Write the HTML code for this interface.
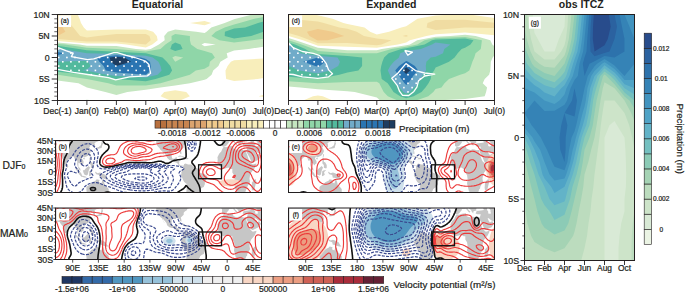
<!DOCTYPE html>
<html><head><meta charset="utf-8"><style>html,body{margin:0;padding:0;background:#fff;overflow:hidden}svg{display:block}text{stroke:#231f20;stroke-width:0.22px;paint-order:stroke}</style></head>
<body><svg width="685" height="292" viewBox="0 0 685 292" font-family="'Liberation Sans', sans-serif">
<text x="157.5" y="8.1" font-size="10.5" text-anchor="middle" font-weight="bold" fill="#231f20" style="stroke-width:0">Equatorial</text>
<text x="391.3" y="8.1" font-size="10.5" text-anchor="middle" font-weight="bold" fill="#231f20" style="stroke-width:0">Expanded</text>
<text x="581.3" y="8.1" font-size="10.5" text-anchor="middle" font-weight="bold" fill="#231f20" style="stroke-width:0">obs ITCZ</text>
<clipPath id="clipa"><rect x="57.5" y="14.5" width="206" height="86"/></clipPath>
<g clip-path="url(#clipa)">
<rect x="57.5" y="14.5" width="206" height="86" fill="#b8703e"/>
<path d="M86.9 14.5L116.4 14.5L145.8 14.5L175.2 14.5L204.6 14.5L234.1 14.5L263.5 14.5L263.5 18.8L263.5 23.1L263.5 27.4L263.5 31.7L263.5 36L263.5 40.3L263.5 44.6L263.5 48.9L263.5 53.2L263.5 57.5L263.5 61.8L263.5 66.1L263.5 70.4L263.5 74.7L263.5 79L263.5 83.3L263.5 87.6L263.5 91.9L263.5 96.2L263.5 100.5L234.1 100.5L204.6 100.5L175.2 100.5L145.8 100.5L116.4 100.5L86.9 100.5L57.5 100.5L57.5 96.2L57.5 91.9L57.5 87.6L57.5 83.3L57.5 79L57.5 74.7L57.5 70.4L57.5 66.1L57.5 61.8L57.5 57.5L57.5 53.2L57.5 48.9L57.5 44.6L57.5 40.3L57.5 36L57.5 31.7L57.5 27.4L57.5 23.1L57.5 18.8L57.5 14.5Z" fill="#c8844f" fill-rule="evenodd"/>
<path d="M86.9 14.5L116.4 14.5L145.8 14.5L175.2 14.5L204.6 14.5L234.1 14.5L263.5 14.5L263.5 18.8L263.5 23.1L263.5 27.4L263.5 31.7L263.5 36L263.5 40.3L263.5 44.6L263.5 48.9L263.5 53.2L263.5 57.5L263.5 61.8L263.5 66.1L263.5 70.4L263.5 74.7L263.5 79L263.5 83.3L263.5 87.6L263.5 91.9L263.5 96.2L263.5 100.5L234.1 100.5L204.6 100.5L175.2 100.5L145.8 100.5L116.4 100.5L86.9 100.5L57.5 100.5L57.5 96.2L57.5 91.9L57.5 87.6L57.5 83.3L57.5 79L57.5 74.7L57.5 70.4L57.5 66.1L57.5 61.8L57.5 57.5L57.5 53.2L57.5 48.9L57.5 44.6L57.5 40.3L57.5 36L57.5 31.7L57.5 27.4L57.5 23.1L57.5 18.8L57.5 14.5Z" fill="#dca46e" fill-rule="evenodd"/>
<path d="M86.9 14.5L116.4 14.5L145.8 14.5L175.2 14.5L204.6 14.5L234.1 14.5L263.5 14.5L263.5 18.8L263.5 23.1L263.5 27.4L263.5 31.7L263.5 36L263.5 40.3L263.5 44.6L263.5 48.9L263.5 53.2L263.5 57.5L263.5 61.8L263.5 66.1L263.5 70.4L263.5 74.7L263.5 79L263.5 83.3L263.5 87.6L263.5 91.9L263.5 96.2L263.5 100.5L234.1 100.5L204.6 100.5L175.2 100.5L145.8 100.5L116.4 100.5L86.9 100.5L57.5 100.5L57.5 96.2L57.5 91.9L57.5 87.6L57.5 83.3L57.5 79L57.5 74.7L57.5 70.4L57.5 66.1L57.5 61.8L57.5 57.5L57.5 53.2L57.5 48.9L57.5 44.6L57.5 40.3L57.5 36L57.5 31.7L57.5 27.4L57.5 23.1L57.5 18.8L57.5 14.5Z" fill="#f0ca8c" fill-rule="evenodd"/>
<path d="M86.9 14.5L116.4 14.5L145.8 14.5L175.2 14.5L204.6 14.5L234.1 14.5L263.5 14.5L263.5 18.8L263.5 23.1L263.5 27.4L263.5 31.7L263.5 36L263.5 40.3L263.5 44.6L263.5 48.9L263.5 53.2L263.5 57.5L263.5 61.8L263.5 66.1L263.5 70.4L263.5 74.7L263.5 79L263.5 83.3L263.5 87.6L263.5 91.9L263.5 96.2L263.5 100.5L234.1 100.5L204.6 100.5L175.2 100.5L145.8 100.5L116.4 100.5L86.9 100.5L57.5 100.5L57.5 96.2L57.5 91.9L57.5 87.6L57.5 83.3L57.5 79L57.5 74.7L57.5 70.4L57.5 66.1L57.5 61.8L57.5 57.5L57.5 53.2L57.5 48.9L57.5 44.6L57.5 40.3L57.5 36L57.5 36L65.4 31.7L62.8 27.4L57.5 23.1L57.5 23.1L57.5 18.8L57.5 14.5Z" fill="#f0dca2" fill-rule="evenodd"/>
<path d="M86.9 14.5L116.4 14.5L145.8 14.5L175.2 14.5L204.6 14.5L234.1 14.5L263.5 14.5L263.5 18.8L263.5 23.1L263.5 27.4L263.5 31.7L263.5 36L263.5 40.3L263.5 44.6L263.5 48.9L263.5 53.2L263.5 57.5L263.5 61.8L263.5 66.1L263.5 70.4L263.5 74.7L263.5 79L263.5 83.3L263.5 87.6L263.5 91.9L263.5 96.2L263.5 100.5L234.1 100.5L204.6 100.5L175.2 100.5L145.8 100.5L116.4 100.5L86.9 100.5L57.5 100.5L57.5 96.2L57.5 91.9L57.5 87.6L57.5 83.3L57.5 79L57.5 74.7L57.5 70.4L57.5 66.1L57.5 61.8L57.5 57.5L57.5 53.2L57.5 48.9L57.5 44.6L57.5 40.3L57.5 38.9L72.2 40.3L86.9 41.4L116.4 41.4L145.8 44.6L145.8 44.6L145.8 44.6L150.7 40.3L149.5 36L145.8 33.9L116.4 33.9L98 36L86.9 37.6L80.1 36L76.7 31.7L73.3 27.4L69.3 23.1L64.9 18.8L59.3 14.5Z" fill="#f8eebb" fill-rule="evenodd"/>
<path d="M86.9 14.5L116.4 14.5L145.8 14.5L175.2 14.5L204.6 14.5L234.1 14.5L263.5 14.5L263.5 18.8L263.5 23.1L263.5 27.4L263.5 31.7L263.5 36L263.5 40.3L263.5 44.6L263.5 48.9L263.5 53.2L263.5 57.5L263.5 58.6L234.1 60.2L230.9 61.8L227.6 66.1L225.5 70.4L225.7 74.7L226.2 79L234.1 80.9L257.6 79L263.5 77.9L263.5 79L263.5 83.3L263.5 87.6L263.5 87.6L263.5 87.6L263.5 91.9L263.5 94.8L258.6 96.2L263.5 96.9L263.5 100.5L234.1 100.5L204.6 100.5L180.1 100.5L189.9 96.2L186.2 91.9L175.2 90.3L164.2 91.9L160.5 96.2L170.3 100.5L145.8 100.5L116.4 100.5L86.9 100.5L57.5 100.5L57.5 96.2L57.5 91.9L57.5 87.6L57.5 83.3L57.5 79L57.5 74.7L57.5 70.4L57.5 66.1L57.5 61.8L57.5 57.5L57.5 53.2L57.5 48.9L57.5 44.6L57.5 41L86.9 43.5L116.4 43.5L126.2 44.6L145.8 47.5L152.3 44.6L157.7 40.3L156.8 36L153.1 31.7L145.8 29.5L116.4 29.5L86.9 30.6L83.8 27.4L81 23.1L79.6 18.8L77.7 14.5ZM189.9 23.1L204.6 25.2L211.3 23.1L204.6 21Z" fill="#ffffff" fill-rule="evenodd"/>
<path d="M263.5 14.5L263.5 18.8L263.5 23.1L263.5 27.4L263.5 31.7L263.5 36L263.5 40.3L263.5 44.6L263.5 46.8L248.8 48.9L234.1 50.5L226.7 53.2L227.7 57.5L220.4 61.8L218.4 66.1L213.2 70.4L211.6 74.7L206.6 79L204.6 79.7L189.9 83.3L175.2 85.4L160.5 87.6L145.8 89.8L127.4 91.9L116.4 95.1L105.3 91.9L86.9 87.6L86.9 87.6L78.5 83.3L57.5 80.6L57.5 79L57.5 74.7L57.5 70.4L57.5 66.1L57.5 61.8L57.5 57.5L57.5 53.2L57.5 48.9L57.5 44.6L57.5 42.4L79.6 44.6L86.9 45.7L116.4 46L136 48.9L145.8 49.8L150.7 48.9L158.9 44.6L164.7 40.3L164.2 36L167.9 31.7L175.2 29.5L196.2 31.7L204.6 32.9L206.5 31.7L211.3 27.4L224.7 23.1L234.1 19.3L235.9 18.8L252.5 14.5ZM201.5 44.6L204.6 46.2L215.7 44.6L204.6 43ZM86.9 99.8L94.3 100.5L86.9 100.5L82 100.5Z" fill="#c4e6c0" fill-rule="evenodd"/>
<path d="M263.5 17L263.5 18.8L263.5 23.1L263.5 27.4L263.5 31.7L263.5 36L263.5 38.7L252.5 40.3L234.1 42.4L219.4 40.3L211.3 36L215.7 31.7L224.7 27.4L234.1 24.4L239.6 23.1L254.3 18.8ZM175.2 33.9L189.9 36L189.9 40.3L191 44.6L197.3 48.9L204.6 51L212 53.2L214.9 57.5L209.9 61.8L209.2 66.1L204.6 68.8L195.8 70.4L189.9 74.7L175.2 79L175.2 79L160.5 83.3L145.8 85.4L116.4 85.4L108.3 83.3L86.9 79L86.9 79L57.5 74.7L57.5 74.7L57.5 70.4L57.5 66.1L57.5 61.8L57.5 57.5L57.5 53.2L57.5 48.9L57.5 44.6L57.5 43.9L64.9 44.6L86.9 47.8L116.4 48.9L116.4 48.9L145.8 51.5L160.5 48.9L165.4 44.6L171.7 40.3L171.5 36ZM172.3 57.5L175.2 61.8L175.2 61.8L175.2 61.8L183.2 57.5L175.2 55.9Z" fill="#8fd6a8" fill-rule="evenodd"/>
<path d="M263.5 21.5L263.5 23.1L263.5 27.4L263.5 31.7L263.5 31.7L251.2 36L234.1 38.5L224.7 36L224.9 31.7L234.1 28.4L245.1 27.4L258 23.1ZM175.2 42.4L180.5 44.6L182.6 48.9L175.2 51L170.3 48.9L171.9 44.6ZM78.8 48.9L86.9 50.3L116.4 51.8L145.8 53.2L145.8 53.2L162.5 57.5L166.8 61.8L170.3 66.1L172.1 70.4L169.3 74.7L155.6 79L145.8 81.2L116.4 79L116.4 79L86.9 74.7L86.9 74.7L57.5 71.8L57.5 70.4L57.5 66.1L57.5 61.8L57.5 57.5L57.5 53.2L57.5 48.9L57.5 45.8Z" fill="#52b99d" fill-rule="evenodd"/>
<path d="M62.4 48.9L86.9 53.2L86.9 53.2L116.4 53.9L145.8 55.7L152.7 57.5L158.4 61.8L160.5 66.1L161.6 70.4L157.6 74.7L145.8 77.6L116.4 76.1L106.5 74.7L86.9 70.8L82 70.4L86.9 69.3L90.8 66.1L88.1 61.8L86.9 60.7L57.5 61.8L57.5 57.5L57.5 53.2L57.5 48.9L57.5 48.2Z" fill="#70abc9" fill-rule="evenodd"/>
<path d="M64.3 53.2L57.5 55.3L57.5 53.2L57.5 51.9ZM116.4 55.3L140.9 57.5L145.8 59.1L150 61.8L150.7 66.1L151 70.4L145.8 74.7L116.4 72.5L105.8 70.4L103.6 66.1L99.4 61.8L96.3 57.5Z" fill="#2a75b2" fill-rule="evenodd"/>
<path d="M116.4 56.8L124.5 57.5L131.1 61.8L116.4 66.1L110.7 61.8L109.7 57.5Z" fill="#1e3d60" fill-rule="evenodd"/>
</g>
<g clip-path="url(#clipa)" fill="#fff">
<rect x="57.9" y="48.1" width="1.6" height="1.6"/>
<rect x="62" y="52.4" width="1.6" height="1.6"/>
<rect x="70.1" y="52.4" width="1.6" height="1.6"/>
<rect x="57.9" y="56.7" width="1.6" height="1.6"/>
<rect x="66.1" y="56.7" width="1.6" height="1.6"/>
<rect x="74.2" y="56.7" width="1.6" height="1.6"/>
<rect x="98.7" y="56.7" width="1.6" height="1.6"/>
<rect x="106.9" y="56.7" width="1.6" height="1.6"/>
<rect x="115" y="56.7" width="1.6" height="1.6"/>
<rect x="123.2" y="56.7" width="1.6" height="1.6"/>
<rect x="131.3" y="56.7" width="1.6" height="1.6"/>
<rect x="62" y="61" width="1.6" height="1.6"/>
<rect x="70.1" y="61" width="1.6" height="1.6"/>
<rect x="78.3" y="61" width="1.6" height="1.6"/>
<rect x="86.5" y="61" width="1.6" height="1.6"/>
<rect x="94.6" y="61" width="1.6" height="1.6"/>
<rect x="102.8" y="61" width="1.6" height="1.6"/>
<rect x="110.9" y="61" width="1.6" height="1.6"/>
<rect x="119.1" y="61" width="1.6" height="1.6"/>
<rect x="127.3" y="61" width="1.6" height="1.6"/>
<rect x="135.4" y="61" width="1.6" height="1.6"/>
<rect x="143.6" y="61" width="1.6" height="1.6"/>
<rect x="57.9" y="65.3" width="1.6" height="1.6"/>
<rect x="66.1" y="65.3" width="1.6" height="1.6"/>
<rect x="74.2" y="65.3" width="1.6" height="1.6"/>
<rect x="82.4" y="65.3" width="1.6" height="1.6"/>
<rect x="90.5" y="65.3" width="1.6" height="1.6"/>
<rect x="98.7" y="65.3" width="1.6" height="1.6"/>
<rect x="106.9" y="65.3" width="1.6" height="1.6"/>
<rect x="115" y="65.3" width="1.6" height="1.6"/>
<rect x="123.2" y="65.3" width="1.6" height="1.6"/>
<rect x="131.3" y="65.3" width="1.6" height="1.6"/>
<rect x="139.5" y="65.3" width="1.6" height="1.6"/>
<rect x="147.7" y="65.3" width="1.6" height="1.6"/>
<rect x="70.1" y="69.6" width="1.6" height="1.6"/>
<rect x="78.3" y="69.6" width="1.6" height="1.6"/>
<rect x="86.5" y="69.6" width="1.6" height="1.6"/>
<rect x="94.6" y="69.6" width="1.6" height="1.6"/>
<rect x="102.8" y="69.6" width="1.6" height="1.6"/>
<rect x="110.9" y="69.6" width="1.6" height="1.6"/>
<rect x="119.1" y="69.6" width="1.6" height="1.6"/>
<rect x="127.3" y="69.6" width="1.6" height="1.6"/>
<rect x="135.4" y="69.6" width="1.6" height="1.6"/>
<rect x="143.6" y="69.6" width="1.6" height="1.6"/>
<rect x="90.5" y="73.9" width="1.6" height="1.6"/>
<rect x="98.7" y="73.9" width="1.6" height="1.6"/>
<rect x="106.9" y="73.9" width="1.6" height="1.6"/>
<rect x="115" y="73.9" width="1.6" height="1.6"/>
<rect x="123.2" y="73.9" width="1.6" height="1.6"/>
<rect x="131.3" y="73.9" width="1.6" height="1.6"/>
<rect x="139.5" y="73.9" width="1.6" height="1.6"/>
<rect x="147.7" y="73.9" width="1.6" height="1.6"/>
</g>
<polyline points="57.5,47.4 66.5,50.9 73.2,53.1 71.4,56.6 87.5,59.6 93.7,58.9 105.1,55.4 113.8,52.6 117.3,52.6 126.1,55.4 134.8,57.5 145.3,61 148.9,64.5 150.6,73.3 147.1,75.9 129.6,76.8 115.6,79.9 108.6,77.7 91,75 73.5,72.4 57.5,69.4" fill="none" stroke="#fff" stroke-width="1.3" stroke-linejoin="round" clip-path="url(#clipa)"/>
<rect x="58.5" y="15.4" width="12.6" height="11.6" fill="#fff"/>
<text x="64.8" y="23.3" font-size="6.6" text-anchor="middle" font-weight="normal" fill="#231f20" >(a)</text>
<rect x="57.5" y="14.5" width="206" height="86" fill="none" stroke="#231f20" stroke-width="1.0"/>
<line x1="57.5" y1="100.5" x2="57.5" y2="105" stroke="#231f20" stroke-width="0.9"/>
<text x="57.5" y="113.7" font-size="8.5" text-anchor="middle" font-weight="normal" fill="#231f20" >Dec(-1)</text>
<line x1="86.9" y1="100.5" x2="86.9" y2="105" stroke="#231f20" stroke-width="0.9"/>
<text x="86.9" y="113.7" font-size="8.5" text-anchor="middle" font-weight="normal" fill="#231f20" >Jan(0)</text>
<line x1="116.4" y1="100.5" x2="116.4" y2="105" stroke="#231f20" stroke-width="0.9"/>
<text x="116.4" y="113.7" font-size="8.5" text-anchor="middle" font-weight="normal" fill="#231f20" >Feb(0)</text>
<line x1="145.8" y1="100.5" x2="145.8" y2="105" stroke="#231f20" stroke-width="0.9"/>
<text x="145.8" y="113.7" font-size="8.5" text-anchor="middle" font-weight="normal" fill="#231f20" >Mar(0)</text>
<line x1="175.2" y1="100.5" x2="175.2" y2="105" stroke="#231f20" stroke-width="0.9"/>
<text x="175.2" y="113.7" font-size="8.5" text-anchor="middle" font-weight="normal" fill="#231f20" >Apr(0)</text>
<line x1="204.6" y1="100.5" x2="204.6" y2="105" stroke="#231f20" stroke-width="0.9"/>
<text x="204.6" y="113.7" font-size="8.5" text-anchor="middle" font-weight="normal" fill="#231f20" >May(0)</text>
<line x1="234.1" y1="100.5" x2="234.1" y2="105" stroke="#231f20" stroke-width="0.9"/>
<text x="234.1" y="113.7" font-size="8.5" text-anchor="middle" font-weight="normal" fill="#231f20" >Jun(0)</text>
<line x1="263.5" y1="100.5" x2="263.5" y2="105" stroke="#231f20" stroke-width="0.9"/>
<text x="263.5" y="113.7" font-size="8.5" text-anchor="middle" font-weight="normal" fill="#231f20" >Jul(0)</text>
<clipPath id="clipd"><rect x="288.5" y="14.5" width="206" height="86"/></clipPath>
<g clip-path="url(#clipd)">
<rect x="288.5" y="14.5" width="206" height="86" fill="#b8703e"/>
<path d="M317.9 14.5L347.4 14.5L376.8 14.5L406.2 14.5L435.6 14.5L465.1 14.5L494.5 14.5L494.5 18.8L494.5 23.1L494.5 27.4L494.5 31.7L494.5 36L494.5 40.3L494.5 44.6L494.5 48.9L494.5 53.2L494.5 57.5L494.5 61.8L494.5 66.1L494.5 70.4L494.5 74.7L494.5 79L494.5 83.3L494.5 87.6L494.5 91.9L494.5 96.2L494.5 100.5L465.1 100.5L435.6 100.5L406.2 100.5L376.8 100.5L347.4 100.5L317.9 100.5L288.5 100.5L288.5 96.2L288.5 91.9L288.5 87.6L288.5 83.3L288.5 79L288.5 74.7L288.5 70.4L288.5 66.1L288.5 61.8L288.5 57.5L288.5 53.2L288.5 48.9L288.5 44.6L288.5 40.3L288.5 36L288.5 31.7L288.5 27.4L288.5 23.1L288.5 18.8L288.5 14.5Z" fill="#c8844f" fill-rule="evenodd"/>
<path d="M317.9 14.5L347.4 14.5L376.8 14.5L406.2 14.5L435.6 14.5L465.1 14.5L494.5 14.5L494.5 18.8L494.5 23.1L494.5 27.4L494.5 31.7L494.5 36L494.5 40.3L494.5 44.6L494.5 48.9L494.5 53.2L494.5 57.5L494.5 61.8L494.5 66.1L494.5 70.4L494.5 74.7L494.5 79L494.5 83.3L494.5 87.6L494.5 91.9L494.5 96.2L494.5 100.5L465.1 100.5L435.6 100.5L406.2 100.5L376.8 100.5L347.4 100.5L317.9 100.5L288.5 100.5L288.5 96.2L288.5 91.9L288.5 87.6L288.5 83.3L288.5 79L288.5 74.7L288.5 70.4L288.5 66.1L288.5 61.8L288.5 57.5L288.5 53.2L288.5 48.9L288.5 44.6L288.5 40.3L288.5 36L288.5 31.7L288.5 27.4L288.5 23.1L288.5 18.8L288.5 14.5Z" fill="#dca46e" fill-rule="evenodd"/>
<path d="M317.9 14.5L347.4 14.5L376.8 14.5L406.2 14.5L435.6 14.5L465.1 14.5L494.5 14.5L494.5 18.8L494.5 23.1L494.5 27.4L494.5 31.7L494.5 36L494.5 40.3L494.5 44.6L494.5 48.9L494.5 53.2L494.5 57.5L494.5 61.8L494.5 66.1L494.5 70.4L494.5 74.7L494.5 79L494.5 83.3L494.5 87.6L494.5 91.9L494.5 96.2L494.5 100.5L465.1 100.5L435.6 100.5L406.2 100.5L376.8 100.5L347.4 100.5L317.9 100.5L288.5 100.5L288.5 96.2L288.5 91.9L288.5 87.6L288.5 83.3L288.5 79L288.5 74.7L288.5 70.4L288.5 66.1L288.5 61.8L288.5 57.5L288.5 53.2L288.5 48.9L288.5 44.6L288.5 40.3L288.5 36L288.5 31.7L288.5 27.4L288.5 23.1L288.5 18.8L288.5 14.5Z" fill="#f0ca8c" fill-rule="evenodd"/>
<path d="M317.9 14.5L347.4 14.5L376.8 14.5L406.2 14.5L435.6 14.5L465.1 14.5L494.5 14.5L494.5 18.8L494.5 23.1L494.5 27.4L494.5 31.7L494.5 36L494.5 40.3L494.5 44.6L494.5 48.9L494.5 53.2L494.5 57.5L494.5 61.8L494.5 66.1L494.5 70.4L494.5 74.7L494.5 79L494.5 83.3L494.5 87.6L494.5 91.9L494.5 96.2L494.5 100.5L465.1 100.5L435.6 100.5L406.2 100.5L376.8 100.5L347.4 100.5L317.9 100.5L288.5 100.5L288.5 96.2L288.5 91.9L288.5 87.6L288.5 83.3L288.5 79L288.5 74.7L288.5 70.4L288.5 66.1L288.5 61.8L288.5 57.5L288.5 53.2L288.5 48.9L288.5 44.6L288.5 40.3L288.5 36L288.5 31.7L288.5 27.4L288.5 23.1L288.5 18.8L288.5 14.5ZM306.9 31.7L309.5 36L317.2 40.3L317.9 40.6L327.7 40.3L344.1 36L332.6 31.7L317.9 29.1Z" fill="#f0dca2" fill-rule="evenodd"/>
<path d="M317.9 14.5L347.4 14.5L376.8 14.5L406.2 14.5L435.6 14.5L465.1 14.5L494.5 14.5L494.5 18.8L494.5 22.7L465.1 19.7L435.6 20L427.5 23.1L426.6 27.4L435.6 29.9L465.1 27.4L494.5 28.1L494.5 31.7L494.5 36L494.5 40.3L494.5 44.6L494.5 48.9L494.5 53.2L494.5 57.5L494.5 61.8L494.5 66.1L494.5 70.4L494.5 74.7L494.5 79L494.5 83.3L494.5 87.6L494.5 91.9L494.5 96.2L494.5 100.5L465.1 100.5L435.6 100.5L406.2 100.5L376.8 100.5L347.4 100.5L317.9 100.5L288.5 100.5L288.5 96.2L288.5 91.9L288.5 87.6L288.5 83.3L288.5 79L288.5 74.7L288.5 70.4L288.5 66.1L288.5 61.8L288.5 57.5L288.5 53.2L288.5 48.9L288.5 44.6L288.5 40.3L288.5 36L288.5 33.1L299 36L310 40.3L317.9 43.3L347.4 42.9L365.8 44.6L376.8 45.3L381.7 44.6L391.5 40.3L376.8 38.5L363.9 36L356.7 31.7L347.4 28.7L339.3 27.4L323.8 23.1L317.9 21.5L288.5 18.8L288.5 18.8L288.5 14.5ZM402.5 36L406.2 36.7L408.1 36L406.2 34.9Z" fill="#f8eebb" fill-rule="evenodd"/>
<path d="M317.9 14.5L347.4 14.5L376.8 14.5L406.2 14.5L435.6 14.5L455.3 14.5L435.6 15.4L417.5 18.8L411.1 23.1L406.2 26.3L401.3 27.4L389 31.7L376.8 34.4L370.1 31.7L364.5 27.4L347.4 24.1L343.4 23.1L332.6 18.8L317.9 15.2L314.2 14.5ZM494.5 14.5L494.5 18.1L470 14.5ZM435.6 34.2L465.1 32.4L494.5 35.3L494.5 36L494.5 40.3L494.5 44.6L494.5 48.9L494.5 53.2L494.5 57.5L494.5 61.8L494.5 66.1L494.5 70.4L494.5 74.7L494.5 79L494.5 83.3L494.5 87.6L494.5 91.9L494.5 96.2L494.5 100.5L465.1 100.5L435.6 100.5L406.2 100.5L376.8 100.5L347.4 100.5L332.6 100.5L322.8 96.2L317.9 95.5L313 96.2L303.2 100.5L288.5 100.5L288.5 96.2L288.5 91.9L288.5 87.6L288.5 83.3L288.5 79L288.5 74.7L288.5 70.4L288.5 66.1L288.5 61.8L288.5 57.5L288.5 53.2L288.5 48.9L288.5 44.6L288.5 40.3L288.5 36L302.9 40.3L314.7 44.6L317.9 45.7L347.4 46.8L376.8 47.7L398 44.6L406.2 42.4L409.9 40.3L426.4 36Z" fill="#ffffff" fill-rule="evenodd"/>
<path d="M465.1 34.8L475.6 36L490.3 40.3L492.3 44.6L494.5 46.3L494.5 48.9L494.5 53.2L494.5 55.3L492.7 57.5L490.8 61.8L490.6 66.1L490.3 70.4L489.1 74.7L484.7 79L482.7 83.3L487.1 87.6L486.1 91.9L484.7 96.2L465.1 99.1L435.6 100.5L435.6 100.5L406.2 100.5L380.2 100.5L376.8 97.6L371.9 96.2L354.7 91.9L347.4 91.2L317.9 89.2L300.3 87.6L288.5 86.4L288.5 83.3L288.5 79L288.5 74.7L288.5 70.4L288.5 66.1L288.5 61.8L288.5 57.5L288.5 53.2L288.5 48.9L288.5 44.6L288.5 40.3L288.5 38.1L295.7 40.3L308.1 44.6L317.9 47.8L332.6 48.9L347.4 50.3L376.8 50.3L381.7 48.9L406.2 45.3L409.9 44.6L417.2 40.3L435.6 36.7L450.4 36Z" fill="#c4e6c0" fill-rule="evenodd"/>
<path d="M435.6 38.1L465.1 36.9L481.9 40.3L481.4 44.6L480.8 48.9L475.6 53.2L474.3 57.5L472.4 61.8L471 66.1L469.3 70.4L465.1 73.3L460.2 74.7L449 79L444.5 83.3L441.5 87.6L435.6 89L433.3 91.9L428.3 96.2L416 100.5L406.2 100.5L397.6 100.5L387.8 96.2L383.7 91.9L381.4 87.6L379.3 83.3L376.8 81.7L347.4 82.1L317.9 83.3L288.5 81.2L288.5 79L288.5 74.7L288.5 70.4L288.5 66.1L288.5 61.8L288.5 57.5L288.5 53.2L288.5 48.9L288.5 44.6L288.5 40.3L301.6 44.6L313.7 48.9L317.9 51L347.4 53.2L347.4 53.2L376.8 53.2L376.8 53.2L391.5 48.9L406.2 46.8L417.2 44.6L424.6 40.3Z" fill="#8fd6a8" fill-rule="evenodd"/>
<path d="M435.6 39.6L465.1 38.6L473.5 40.3L470.5 44.6L465.1 47.7L461.6 48.9L457.7 53.2L454.6 57.5L449 61.8L439.3 66.1L435.6 67.5L434.1 70.4L431.3 74.7L430.7 79L428.5 83.3L425.5 87.6L421.5 91.9L413.6 96.2L406.2 98.3L400.1 96.2L393.5 91.9L390.6 87.6L387.7 83.3L381.7 79L381.1 74.7L380.5 70.4L381.2 66.1L382.4 61.8L384.1 57.5L388.6 53.2L401.3 48.9L406.2 48.2L424.6 44.6L432 40.3ZM295 44.6L305.3 48.9L312 53.2L317.9 54.1L347.4 56.1L362.1 57.5L362.1 61.8L362.1 66.1L358.4 70.4L347.4 72.5L339.3 74.7L317.9 79L288.5 76.8L288.5 74.7L288.5 70.4L288.5 66.1L288.5 61.8L288.5 57.5L288.5 53.2L288.5 48.9L288.5 44.6L288.5 42.4Z" fill="#52b99d" fill-rule="evenodd"/>
<path d="M435.6 42.4L450.4 44.6L444.3 48.9L443 53.2L435.6 56.8L430.7 57.5L426.4 61.8L425.8 66.1L426.1 70.4L422.7 74.7L420.9 79L418.4 83.3L414.1 87.6L409.7 91.9L406.2 93.5L403.3 91.9L399.8 87.6L396.1 83.3L391.5 79L389.8 74.7L387.8 70.4L390.2 66.1L393.8 61.8L398.9 57.5L400.3 53.2L406.2 51L420.9 48.9L432 44.6ZM296.9 48.9L300.3 53.2L317.9 55.8L337.5 57.5L340 61.8L338.2 66.1L330.2 70.4L317.9 73.5L299.5 70.4L288.5 66.1L288.5 66.1L288.5 61.8L288.5 57.5L288.5 53.2L288.5 48.9L288.5 44.6Z" fill="#70abc9" fill-rule="evenodd"/>
<path d="M317.9 57.5L325.3 61.8L319.8 66.1L317.9 66.8L315.3 66.1L303.2 61.8ZM406.2 61.1L408.1 61.8L414.9 66.1L418.1 70.4L414 74.7L411.1 79L408.2 83.3L406.2 85L404.5 83.3L401.3 79L398.4 74.7L395.2 70.4L399.1 66.1L405.1 61.8Z" fill="#2a75b2" fill-rule="evenodd"/>
<path d="M406.2 67.3L410.2 70.4L406.2 74L402.5 70.4Z" fill="#1e3d60" fill-rule="evenodd"/>
</g>
<g clip-path="url(#clipd)" fill="#fff">
<rect x="288.9" y="43.8" width="1.6" height="1.6"/>
<rect x="293" y="48.1" width="1.6" height="1.6"/>
<rect x="288.9" y="52.4" width="1.6" height="1.6"/>
<rect x="297.1" y="52.4" width="1.6" height="1.6"/>
<rect x="305.2" y="52.4" width="1.6" height="1.6"/>
<rect x="293" y="56.7" width="1.6" height="1.6"/>
<rect x="301.1" y="56.7" width="1.6" height="1.6"/>
<rect x="309.3" y="56.7" width="1.6" height="1.6"/>
<rect x="317.5" y="56.7" width="1.6" height="1.6"/>
<rect x="288.9" y="61" width="1.6" height="1.6"/>
<rect x="297.1" y="61" width="1.6" height="1.6"/>
<rect x="305.2" y="61" width="1.6" height="1.6"/>
<rect x="313.4" y="61" width="1.6" height="1.6"/>
<rect x="321.5" y="61" width="1.6" height="1.6"/>
<rect x="293" y="65.3" width="1.6" height="1.6"/>
<rect x="301.1" y="65.3" width="1.6" height="1.6"/>
<rect x="309.3" y="65.3" width="1.6" height="1.6"/>
<rect x="317.5" y="65.3" width="1.6" height="1.6"/>
<rect x="325.6" y="65.3" width="1.6" height="1.6"/>
<rect x="407.2" y="65.3" width="1.6" height="1.6"/>
<rect x="288.9" y="69.6" width="1.6" height="1.6"/>
<rect x="297.1" y="69.6" width="1.6" height="1.6"/>
<rect x="305.2" y="69.6" width="1.6" height="1.6"/>
<rect x="313.4" y="69.6" width="1.6" height="1.6"/>
<rect x="321.5" y="69.6" width="1.6" height="1.6"/>
<rect x="403.1" y="69.6" width="1.6" height="1.6"/>
<rect x="411.3" y="69.6" width="1.6" height="1.6"/>
<rect x="301.1" y="73.9" width="1.6" height="1.6"/>
<rect x="309.3" y="73.9" width="1.6" height="1.6"/>
<rect x="317.5" y="73.9" width="1.6" height="1.6"/>
<rect x="325.6" y="73.9" width="1.6" height="1.6"/>
<rect x="399.1" y="73.9" width="1.6" height="1.6"/>
<rect x="407.2" y="73.9" width="1.6" height="1.6"/>
<rect x="415.4" y="73.9" width="1.6" height="1.6"/>
<rect x="423.5" y="73.9" width="1.6" height="1.6"/>
<rect x="395" y="78.2" width="1.6" height="1.6"/>
<rect x="403.1" y="78.2" width="1.6" height="1.6"/>
<rect x="411.3" y="78.2" width="1.6" height="1.6"/>
<rect x="419.5" y="78.2" width="1.6" height="1.6"/>
<rect x="399.1" y="82.5" width="1.6" height="1.6"/>
<rect x="407.2" y="82.5" width="1.6" height="1.6"/>
<rect x="415.4" y="82.5" width="1.6" height="1.6"/>
<rect x="403.1" y="86.8" width="1.6" height="1.6"/>
<rect x="411.3" y="86.8" width="1.6" height="1.6"/>
<rect x="407.2" y="91.1" width="1.6" height="1.6"/>
</g>
<polyline points="288.5,42.8 293.2,47.7 302.4,51.5 313.2,53.4 319.4,55.4 322,58 326.3,63.7 328.6,69.9 332.5,73.7 328.6,76.8 317.8,78.3 302.4,76.8 293.2,74.5 288.5,74.2" fill="none" stroke="#fff" stroke-width="1.3" stroke-linejoin="round" clip-path="url(#clipd)"/>
<polyline points="405.9,63.6 415.4,70.6 424.7,73 434.7,74.2 424.7,76 418.5,80.7 417,86.8 413.9,91.4 408.8,95.5 402.6,95.3 399.6,91.4 397.2,85.3 391.8,78.3 398,73 405.9,63.6" fill="none" stroke="#fff" stroke-width="1.3" stroke-linejoin="round" clip-path="url(#clipd)"/>
<polyline points="404.7,50.5 412.4,52.1 407.8,55.2 404.7,50.5" fill="none" stroke="#fff" stroke-width="1.3" stroke-linejoin="round" clip-path="url(#clipd)"/>
<rect x="289.5" y="15.4" width="12.6" height="11.6" fill="#fff"/>
<text x="295.8" y="23.3" font-size="6.6" text-anchor="middle" font-weight="normal" fill="#231f20" >(d)</text>
<rect x="288.5" y="14.5" width="206" height="86" fill="none" stroke="#231f20" stroke-width="1.0"/>
<line x1="288.5" y1="100.5" x2="288.5" y2="105" stroke="#231f20" stroke-width="0.9"/>
<text x="288.5" y="113.7" font-size="8.5" text-anchor="middle" font-weight="normal" fill="#231f20" >Dec(-1)</text>
<line x1="317.9" y1="100.5" x2="317.9" y2="105" stroke="#231f20" stroke-width="0.9"/>
<text x="317.9" y="113.7" font-size="8.5" text-anchor="middle" font-weight="normal" fill="#231f20" >Jan(0)</text>
<line x1="347.4" y1="100.5" x2="347.4" y2="105" stroke="#231f20" stroke-width="0.9"/>
<text x="347.4" y="113.7" font-size="8.5" text-anchor="middle" font-weight="normal" fill="#231f20" >Feb(0)</text>
<line x1="376.8" y1="100.5" x2="376.8" y2="105" stroke="#231f20" stroke-width="0.9"/>
<text x="376.8" y="113.7" font-size="8.5" text-anchor="middle" font-weight="normal" fill="#231f20" >Mar(0)</text>
<line x1="406.2" y1="100.5" x2="406.2" y2="105" stroke="#231f20" stroke-width="0.9"/>
<text x="406.2" y="113.7" font-size="8.5" text-anchor="middle" font-weight="normal" fill="#231f20" >Apr(0)</text>
<line x1="435.6" y1="100.5" x2="435.6" y2="105" stroke="#231f20" stroke-width="0.9"/>
<text x="435.6" y="113.7" font-size="8.5" text-anchor="middle" font-weight="normal" fill="#231f20" >May(0)</text>
<line x1="465.1" y1="100.5" x2="465.1" y2="105" stroke="#231f20" stroke-width="0.9"/>
<text x="465.1" y="113.7" font-size="8.5" text-anchor="middle" font-weight="normal" fill="#231f20" >Jun(0)</text>
<line x1="494.5" y1="100.5" x2="494.5" y2="105" stroke="#231f20" stroke-width="0.9"/>
<text x="494.5" y="113.7" font-size="8.5" text-anchor="middle" font-weight="normal" fill="#231f20" >Jul(0)</text>
<line x1="51.7" y1="14.5" x2="57.5" y2="14.5" stroke="#231f20" stroke-width="0.9"/>
<text x="49.7" y="17.6" font-size="8.8" text-anchor="end" font-weight="normal" fill="#231f20" >10N</text>
<line x1="51.7" y1="36" x2="57.5" y2="36" stroke="#231f20" stroke-width="0.9"/>
<text x="49.7" y="39.1" font-size="8.8" text-anchor="end" font-weight="normal" fill="#231f20" >5N</text>
<line x1="51.7" y1="57.5" x2="57.5" y2="57.5" stroke="#231f20" stroke-width="0.9"/>
<text x="49.7" y="60.6" font-size="8.8" text-anchor="end" font-weight="normal" fill="#231f20" >0</text>
<line x1="51.7" y1="79" x2="57.5" y2="79" stroke="#231f20" stroke-width="0.9"/>
<text x="49.7" y="82.1" font-size="8.8" text-anchor="end" font-weight="normal" fill="#231f20" >5S</text>
<line x1="51.7" y1="100.5" x2="57.5" y2="100.5" stroke="#231f20" stroke-width="0.9"/>
<text x="49.7" y="103.6" font-size="8.8" text-anchor="end" font-weight="normal" fill="#231f20" >10S</text>
<line x1="54.3" y1="18.8" x2="57.5" y2="18.8" stroke="#231f20" stroke-width="0.7"/>
<line x1="54.3" y1="23.1" x2="57.5" y2="23.1" stroke="#231f20" stroke-width="0.7"/>
<line x1="54.3" y1="27.4" x2="57.5" y2="27.4" stroke="#231f20" stroke-width="0.7"/>
<line x1="54.3" y1="31.7" x2="57.5" y2="31.7" stroke="#231f20" stroke-width="0.7"/>
<line x1="54.3" y1="40.3" x2="57.5" y2="40.3" stroke="#231f20" stroke-width="0.7"/>
<line x1="54.3" y1="44.6" x2="57.5" y2="44.6" stroke="#231f20" stroke-width="0.7"/>
<line x1="54.3" y1="48.9" x2="57.5" y2="48.9" stroke="#231f20" stroke-width="0.7"/>
<line x1="54.3" y1="53.2" x2="57.5" y2="53.2" stroke="#231f20" stroke-width="0.7"/>
<line x1="54.3" y1="61.8" x2="57.5" y2="61.8" stroke="#231f20" stroke-width="0.7"/>
<line x1="54.3" y1="66.1" x2="57.5" y2="66.1" stroke="#231f20" stroke-width="0.7"/>
<line x1="54.3" y1="70.4" x2="57.5" y2="70.4" stroke="#231f20" stroke-width="0.7"/>
<line x1="54.3" y1="74.7" x2="57.5" y2="74.7" stroke="#231f20" stroke-width="0.7"/>
<line x1="54.3" y1="83.3" x2="57.5" y2="83.3" stroke="#231f20" stroke-width="0.7"/>
<line x1="54.3" y1="87.6" x2="57.5" y2="87.6" stroke="#231f20" stroke-width="0.7"/>
<line x1="54.3" y1="91.9" x2="57.5" y2="91.9" stroke="#231f20" stroke-width="0.7"/>
<line x1="54.3" y1="96.2" x2="57.5" y2="96.2" stroke="#231f20" stroke-width="0.7"/>
<rect x="155" y="120.3" width="5.7" height="7.8" fill="#b8703e" stroke="#231f20" stroke-width="0.6"/>
<rect x="160.7" y="120.3" width="5.7" height="7.8" fill="#b8703e" stroke="#231f20" stroke-width="0.6"/>
<rect x="166.4" y="120.3" width="5.7" height="7.8" fill="#c8844f" stroke="#231f20" stroke-width="0.6"/>
<rect x="172.1" y="120.3" width="5.7" height="7.8" fill="#c8844f" stroke="#231f20" stroke-width="0.6"/>
<rect x="177.9" y="120.3" width="5.7" height="7.8" fill="#c8844f" stroke="#231f20" stroke-width="0.6"/>
<rect x="183.6" y="120.3" width="5.7" height="7.8" fill="#c8844f" stroke="#231f20" stroke-width="0.6"/>
<rect x="189.3" y="120.3" width="5.7" height="7.8" fill="#dca46e" stroke="#231f20" stroke-width="0.6"/>
<rect x="195" y="120.3" width="5.7" height="7.8" fill="#dca46e" stroke="#231f20" stroke-width="0.6"/>
<rect x="200.7" y="120.3" width="5.7" height="7.8" fill="#dca46e" stroke="#231f20" stroke-width="0.6"/>
<rect x="206.4" y="120.3" width="5.7" height="7.8" fill="#f0ca8c" stroke="#231f20" stroke-width="0.6"/>
<rect x="212.1" y="120.3" width="5.7" height="7.8" fill="#f0ca8c" stroke="#231f20" stroke-width="0.6"/>
<rect x="217.9" y="120.3" width="5.7" height="7.8" fill="#f0ca8c" stroke="#231f20" stroke-width="0.6"/>
<rect x="223.6" y="120.3" width="5.7" height="7.8" fill="#f0dca2" stroke="#231f20" stroke-width="0.6"/>
<rect x="229.3" y="120.3" width="5.7" height="7.8" fill="#f0dca2" stroke="#231f20" stroke-width="0.6"/>
<rect x="235" y="120.3" width="5.7" height="7.8" fill="#f0dca2" stroke="#231f20" stroke-width="0.6"/>
<rect x="240.7" y="120.3" width="5.7" height="7.8" fill="#f0dca2" stroke="#231f20" stroke-width="0.6"/>
<rect x="246.4" y="120.3" width="5.7" height="7.8" fill="#f8eebb" stroke="#231f20" stroke-width="0.6"/>
<rect x="252.1" y="120.3" width="5.7" height="7.8" fill="#f8eebb" stroke="#231f20" stroke-width="0.6"/>
<rect x="257.9" y="120.3" width="5.7" height="7.8" fill="#f8eebb" stroke="#231f20" stroke-width="0.6"/>
<rect x="263.6" y="120.3" width="5.7" height="7.8" fill="#ffffff" stroke="#231f20" stroke-width="0.6"/>
<rect x="269.3" y="120.3" width="5.7" height="7.8" fill="#ffffff" stroke="#231f20" stroke-width="0.6"/>
<rect x="275" y="120.3" width="5.7" height="7.8" fill="#ffffff" stroke="#231f20" stroke-width="0.6"/>
<rect x="280.7" y="120.3" width="5.7" height="7.8" fill="#ffffff" stroke="#231f20" stroke-width="0.6"/>
<rect x="286.4" y="120.3" width="5.7" height="7.8" fill="#c4e6c0" stroke="#231f20" stroke-width="0.6"/>
<rect x="292.1" y="120.3" width="5.7" height="7.8" fill="#c4e6c0" stroke="#231f20" stroke-width="0.6"/>
<rect x="297.9" y="120.3" width="5.7" height="7.8" fill="#c4e6c0" stroke="#231f20" stroke-width="0.6"/>
<rect x="303.6" y="120.3" width="5.7" height="7.8" fill="#8fd6a8" stroke="#231f20" stroke-width="0.6"/>
<rect x="309.3" y="120.3" width="5.7" height="7.8" fill="#8fd6a8" stroke="#231f20" stroke-width="0.6"/>
<rect x="315" y="120.3" width="5.7" height="7.8" fill="#8fd6a8" stroke="#231f20" stroke-width="0.6"/>
<rect x="320.7" y="120.3" width="5.7" height="7.8" fill="#8fd6a8" stroke="#231f20" stroke-width="0.6"/>
<rect x="326.4" y="120.3" width="5.7" height="7.8" fill="#52b99d" stroke="#231f20" stroke-width="0.6"/>
<rect x="332.1" y="120.3" width="5.7" height="7.8" fill="#52b99d" stroke="#231f20" stroke-width="0.6"/>
<rect x="337.9" y="120.3" width="5.7" height="7.8" fill="#52b99d" stroke="#231f20" stroke-width="0.6"/>
<rect x="343.6" y="120.3" width="5.7" height="7.8" fill="#70abc9" stroke="#231f20" stroke-width="0.6"/>
<rect x="349.3" y="120.3" width="5.7" height="7.8" fill="#70abc9" stroke="#231f20" stroke-width="0.6"/>
<rect x="355" y="120.3" width="5.7" height="7.8" fill="#70abc9" stroke="#231f20" stroke-width="0.6"/>
<rect x="360.7" y="120.3" width="5.7" height="7.8" fill="#2a75b2" stroke="#231f20" stroke-width="0.6"/>
<rect x="366.4" y="120.3" width="5.7" height="7.8" fill="#2a75b2" stroke="#231f20" stroke-width="0.6"/>
<rect x="372.1" y="120.3" width="5.7" height="7.8" fill="#2a75b2" stroke="#231f20" stroke-width="0.6"/>
<rect x="377.9" y="120.3" width="5.7" height="7.8" fill="#2a75b2" stroke="#231f20" stroke-width="0.6"/>
<rect x="383.6" y="120.3" width="5.7" height="7.8" fill="#1e3d60" stroke="#231f20" stroke-width="0.6"/>
<rect x="389.3" y="120.3" width="5.7" height="7.8" fill="#1e3d60" stroke="#231f20" stroke-width="0.6"/>
<text x="172.1" y="136.4" font-size="8.4" text-anchor="middle" font-weight="normal" fill="#231f20" >-0.0018</text>
<text x="206.4" y="136.4" font-size="8.4" text-anchor="middle" font-weight="normal" fill="#231f20" >-0.0012</text>
<text x="240.7" y="136.4" font-size="8.4" text-anchor="middle" font-weight="normal" fill="#231f20" >-0.0006</text>
<text x="275" y="136.4" font-size="8.4" text-anchor="middle" font-weight="normal" fill="#231f20" >0</text>
<text x="309.3" y="136.4" font-size="8.4" text-anchor="middle" font-weight="normal" fill="#231f20" >0.0006</text>
<text x="343.6" y="136.4" font-size="8.4" text-anchor="middle" font-weight="normal" fill="#231f20" >0.0012</text>
<text x="377.9" y="136.4" font-size="8.4" text-anchor="middle" font-weight="normal" fill="#231f20" >0.0018</text>
<text x="399" y="132" font-size="9.7" text-anchor="start" font-weight="normal" fill="#231f20" >Precipitation (m)</text>
<clipPath id="clipG"><rect x="524.5" y="14.5" width="110" height="246"/></clipPath>
<g clip-path="url(#clipG)">
<rect x="524.5" y="14.5" width="110" height="246" fill="#ebf4e4"/>
<path d="M534.5 14.5L544.5 14.5L554.5 14.5L564.5 14.5L574.5 14.5L584.5 14.5L594.5 14.5L604.5 14.5L614.5 14.5L624.5 14.5L634.5 14.5L634.5 26.8L634.5 39.1L634.5 51.4L634.5 63.7L634.5 76L634.5 88.3L634.5 100.6L634.5 112.9L634.5 125.2L634.5 137.5L634.5 149.8L634.5 162.1L634.5 174.4L634.5 186.7L634.5 199L634.5 211.3L634.5 223.6L634.5 235.9L634.5 248.2L634.5 260.5L624.5 260.5L614.5 260.5L604.5 260.5L594.5 260.5L584.5 260.5L574.5 260.5L564.5 260.5L554.5 260.5L544.5 260.5L534.5 260.5L524.5 260.5L524.5 248.2L524.5 235.9L524.5 223.6L524.5 211.3L524.5 199L524.5 186.7L524.5 174.4L524.5 162.1L524.5 149.8L524.5 137.5L524.5 125.2L524.5 112.9L524.5 100.6L524.5 88.3L524.5 76L524.5 63.7L524.5 51.4L524.5 39.1L524.5 26.8L524.5 14.5Z" fill="#d9ead6" fill-rule="evenodd"/>
<path d="M533.6 26.8L534.5 33L537.8 39.1L544.5 51.4L544.5 51.4L554.5 51.4L554.5 51.4L558.9 39.1L564.5 26.8L564.5 26.8L565.1 14.5L574.5 14.5L584.5 14.5L594.5 14.5L604.5 14.5L614.5 14.5L624.5 14.5L634.5 14.5L634.5 26.8L634.5 39.1L634.5 51.4L634.5 63.7L634.5 76L634.5 88.3L634.5 100.6L634.5 112.9L634.5 125.2L634.5 137.5L634.5 149.8L634.5 162.1L634.5 174.4L634.5 186.7L634.5 199L634.5 211.3L634.5 223.6L634.5 235.9L634.5 248.2L634.5 260.5L624.5 260.5L618.5 260.5L618.5 248.2L619.5 235.9L621.2 223.6L624.5 211.3L624.5 211.3L624.5 199L625.9 186.7L626.2 174.4L625.9 162.1L625.4 149.8L624.5 137.5L624.5 137.5L617 125.2L614.5 121.1L609.5 125.2L604.5 137.5L604.5 137.5L604.5 149.8L604.5 162.1L604.5 174.4L604.5 186.7L604.5 199L604.5 211.3L604.5 223.6L604.5 235.9L604.5 248.2L604.5 260.5L594.5 260.5L584.5 260.5L574.5 260.5L564.5 260.5L554.5 260.5L544.5 260.5L534.5 260.5L524.5 260.5L524.5 248.2L524.5 235.9L524.5 223.6L524.5 211.3L524.5 199L524.5 186.7L524.5 174.4L524.5 162.1L524.5 149.8L524.5 137.5L524.5 125.2L524.5 112.9L524.5 100.6L524.5 88.3L524.5 76L524.5 63.7L524.5 51.4L524.5 39.1L524.5 26.8L524.5 14.5L532.8 14.5Z" fill="#cde4c9" fill-rule="evenodd"/>
<path d="M529 26.8L531 39.1L534.5 51.4L534.5 51.4L544.5 59.6L554.5 59.6L561.2 51.4L564.5 45.2L565.9 39.1L567.4 26.8L568.2 14.5L574.5 14.5L584.5 14.5L594.5 14.5L604.5 14.5L614.5 14.5L624.5 14.5L634.5 14.5L634.5 26.8L634.5 39.1L634.5 51.4L634.5 63.7L634.5 76L634.5 88.3L634.5 100.6L634.5 112.9L634.5 125.2L634.5 137.5L634.5 149.8L632.2 137.5L629.2 125.2L624.5 112.9L624.5 112.9L614.5 100.6L614.5 100.6L604.5 100.6L604.5 100.6L602.5 112.9L600.8 125.2L599.5 137.5L597.8 149.8L596.2 162.1L594.5 174.4L594.5 174.4L593.4 186.7L591.6 199L590.5 211.3L588.5 223.6L587 235.9L584.5 248.2L584.5 248.2L581.2 260.5L574.5 260.5L564.5 260.5L554.5 260.5L544.5 260.5L534.5 260.5L524.5 260.5L524.5 248.2L524.5 235.9L524.5 223.6L524.5 211.3L524.5 199L524.5 186.7L524.5 174.4L524.5 162.1L524.5 149.8L524.5 137.5L524.5 125.2L524.5 112.9L524.5 100.6L524.5 88.3L524.5 76L524.5 63.7L524.5 51.4L524.5 39.1L524.5 26.8L524.5 14.5L527.3 14.5ZM634.5 211.3L634.5 223.6L634.5 235.9L634.5 248.2L634.5 260.5L631.5 260.5L631.5 248.2L631.8 235.9L632.7 223.6Z" fill="#bcdcbe" fill-rule="evenodd"/>
<path d="M574.5 14.5L584.5 14.5L594.5 14.5L604.5 14.5L614.5 14.5L624.5 14.5L634.5 14.5L634.5 26.8L634.5 39.1L634.5 51.4L634.5 63.7L634.5 76L634.5 88.3L634.5 100.6L634.5 112.9L634.5 121.7L631.2 112.9L624.5 100.6L624.5 100.6L614.5 88.3L614.5 88.3L604.5 82.2L602.8 88.3L600.5 100.6L598.5 112.9L596.6 125.2L594.5 137.5L594.5 137.5L591.2 149.8L588.3 162.1L584.5 174.4L584.5 174.4L583.3 186.7L581.2 199L578.7 211.3L576.5 223.6L574.5 231.8L573.1 235.9L564.5 248.2L564.5 248.2L554.5 252.3L544.5 248.2L544.5 248.2L534.5 242.1L531.2 235.9L527.4 223.6L525.6 211.3L524.5 199L524.5 186.7L524.5 186.7L524.5 174.4L524.5 162.1L524.5 149.8L524.5 137.5L524.5 125.2L524.5 112.9L524.5 100.6L524.5 88.3L524.5 76L524.5 63.7L524.5 51.4L524.5 39.1L524.5 26.8L526.7 39.1L530.5 51.4L534.5 59.6L539.5 63.7L544.5 66.8L554.5 67.8L557.8 63.7L564.5 55.5L565.9 51.4L568.8 39.1L570.2 26.8L571.4 14.5Z" fill="#a5d3b4" fill-rule="evenodd"/>
<path d="M574.5 14.5L574.5 14.5L584.5 14.5L594.5 14.5L604.5 14.5L614.5 14.5L624.5 14.5L634.5 14.5L634.5 26.8L634.5 39.1L634.5 51.4L634.5 63.7L634.5 76L634.5 88.3L634.5 100.6L634.5 108.8L629.5 100.6L624.5 96.5L617.8 88.3L614.5 84.2L606.5 76L604.5 74.5L603.1 76L599.5 88.3L596.5 100.6L594.5 112.9L594.5 112.9L592.8 125.2L589.5 137.5L584.5 149.8L584.5 149.8L582.8 162.1L580.5 174.4L577.4 186.7L574.5 199L574.5 199L571.6 211.3L568.3 223.6L564.5 230.4L554.5 234.5L544.5 227.7L541.6 223.6L537.4 211.3L534.5 199L534.5 199L531.2 186.7L528.2 174.4L525.4 162.1L524.5 158.6L524.5 149.8L524.5 137.5L524.5 125.2L524.5 112.9L524.5 100.6L524.5 88.3L524.5 76L524.5 63.7L524.5 51.4L524.5 45.2L526.5 51.4L532 63.7L534.5 66.8L544.5 72.9L554.5 76L554.5 76L554.5 76L564.5 63.7L564.5 63.7L568.8 51.4L571.6 39.1L573.1 26.8Z" fill="#8ccbb6" fill-rule="evenodd"/>
<path d="M584.5 14.5L594.5 14.5L604.5 14.5L614.5 14.5L624.5 14.5L634.5 14.5L634.5 26.8L634.5 39.1L634.5 51.4L634.5 63.7L634.5 76L634.5 88.3L634.5 100.6L624.5 92.4L621.2 88.3L614.5 80.1L610.5 76L604.5 71.4L600.2 76L596.2 88.3L594.5 94.5L593.2 100.6L591.6 112.9L589.5 125.2L584.5 137.5L584.5 137.5L581.6 149.8L579.5 162.1L576.5 174.4L574.5 180.6L572.5 186.7L570 199L565.7 211.3L564.5 214.8L554.5 220.1L549.5 211.3L544.5 205.2L541.2 199L537.8 186.7L534.5 174.4L534.5 174.4L530 162.1L526.5 149.8L524.5 145.7L524.5 137.5L524.5 125.2L524.5 112.9L524.5 100.6L524.5 88.3L524.5 76L524.5 63.7L524.5 57.6L527 63.7L534.5 72.9L539.5 76L544.5 79.1L554.5 82.2L561.2 76L564.5 71.9L567.4 63.7L571.6 51.4L574.5 39.1L574.5 39.1L575.8 26.8L577 14.5Z" fill="#74c0c0" fill-rule="evenodd"/>
<path d="M584.5 14.5L594.5 14.5L604.5 14.5L614.5 14.5L624.5 14.5L634.5 14.5L634.5 26.8L634.5 39.1L634.5 51.4L634.5 63.7L634.5 76L634.5 88.3L634.5 94.5L624.5 88.3L624.5 88.3L614.5 76L614.5 76L604.5 68.3L597.4 76L594.5 84.2L593.1 88.3L590.8 100.6L588.8 112.9L586.2 125.2L584.5 129.3L581.6 137.5L578.8 149.8L576.2 162.1L574.5 168.2L572.8 174.4L568.5 186.7L565.4 199L564.5 201.5L554.5 205.2L549.5 199L544.5 186.7L544.5 186.7L538.5 174.4L534.5 162.1L534.5 162.1L530.5 149.8L524.5 137.5L524.5 137.5L524.5 125.2L524.5 112.9L524.5 100.6L524.5 88.3L524.5 76L524.5 67.8L531.2 76L534.5 79.1L544.5 85.2L554.5 88.3L554.5 88.3L554.5 88.3L564.5 79.1L566.2 76L570.2 63.7L574.5 51.4L574.5 51.4L577 39.1L578.2 26.8L579.5 14.5Z" fill="#62b3c8" fill-rule="evenodd"/>
<path d="M584.5 14.5L594.5 14.5L604.5 14.5L614.5 14.5L624.5 14.5L634.5 14.5L634.5 26.8L634.5 39.1L634.5 51.4L634.5 63.7L634.5 76L634.5 88.3L624.5 84.2L617.8 76L614.5 72.5L604.5 65.2L594.5 76L594.5 76L590.2 88.3L588.2 100.6L585.9 112.9L584.5 119.1L582.8 125.2L578.8 137.5L575.9 149.8L574.5 156L573.1 162.1L569.5 174.4L564.5 186.7L564.5 186.7L554.5 192.9L551.2 186.7L544.5 178.5L542.5 174.4L539.5 162.1L534.5 149.8L534.5 149.8L528.5 137.5L524.5 132.6L524.5 125.2L524.5 112.9L524.5 100.6L524.5 88.3L524.5 76L534.5 85.2L539.5 88.3L544.5 92.4L554.5 96.5L561.2 88.3L564.5 85.2L569.5 76L573.1 63.7L574.5 59.6L577.4 51.4L579.5 39.1L580.8 26.8L582 14.5Z" fill="#4fa3c6" fill-rule="evenodd"/>
<path d="M584.5 14.5L584.5 14.5L594.5 14.5L604.5 14.5L614.5 14.5L624.5 14.5L634.5 14.5L634.5 14.5L634.5 26.8L634.5 39.1L634.5 51.4L634.5 63.7L634.5 76L634.5 80.1L624.5 80.1L621.2 76L614.5 69L607 63.7L604.5 62.2L602 63.7L594.5 71.1L591.2 76L587.4 88.3L585.8 100.6L584.5 106.8L582.6 112.9L579.5 125.2L575.9 137.5L574.5 143.7L572.7 149.8L570.2 162.1L566.2 174.4L564.5 178.5L554.5 180.6L549.5 174.4L544.5 162.1L544.5 162.1L540.1 149.8L534.5 141.6L532.5 137.5L524.5 127.7L524.5 125.2L524.5 112.9L524.5 100.6L524.5 88.3L534.5 92.4L544.5 100.6L544.5 100.6L554.5 104L559.5 100.6L564.5 94.5L566.5 88.3L572.8 76L574.5 69.8L576.2 63.7L580.2 51.4L582 39.1L583.2 26.8Z" fill="#4193bf" fill-rule="evenodd"/>
<path d="M594.5 14.5L604.5 14.5L614.5 14.5L624.5 14.5L624.5 14.5L629.5 26.8L634.5 39.1L634.5 51.4L634.5 63.7L624.5 76L614.5 65.5L612 63.7L604.5 59.1L597 63.7L594.5 66.2L587.8 76L584.5 88.3L584.5 88.3L582 100.6L578.9 112.9L576.2 125.2L574.5 131.3L571.6 137.5L569.1 149.8L567.4 162.1L564.5 170.3L554.5 166.7L552.2 162.1L547 149.8L544.5 144.9L540.8 137.5L534.5 128.7L531.6 125.2L524.5 112.9L534.5 100.6L544.5 110.9L554.5 110.8L564.5 104.7L567 100.6L570.5 88.3L574.5 80.1L577.8 76L579.5 63.7L583.1 51.4L584.5 39.1L584.5 39.1L585.7 26.8L586.8 14.5Z" fill="#3583b6" fill-rule="evenodd"/>
<path d="M594.5 14.5L604.5 14.5L614.5 14.5L619.5 14.5L622 26.8L624.5 39.1L624.5 51.4L614.5 57.6L604.5 56L594.5 61.2L589.5 63.7L584.5 76L582.8 63.7L584.5 57.6L586.5 51.4L587.3 39.1L588.2 26.8L589.2 14.5ZM574.5 88.3L577 100.6L575.2 112.9L574.5 116.4L564.5 112.9L572 100.6ZM564.5 112.9L567.4 125.2L565.7 137.5L565.6 149.8L564.5 162.1L560.2 149.8L559.5 137.5L561.2 125.2Z" fill="#2d72ac" fill-rule="evenodd"/>
<path d="M594.5 14.5L604.5 14.5L614.5 14.5L614.5 14.5L617 26.8L614.5 39.1L614.5 39.1L609.5 51.4L604.5 52.9L594.5 56.3L590.5 51.4L590.1 39.1L590.6 26.8L591.5 14.5Z" fill="#2b62a0" fill-rule="evenodd"/>
<path d="M594.5 14.5L604.5 14.5L608.9 14.5L610.7 26.8L607.8 39.1L604.5 45.2L594.5 51.4L592.8 39.1L593 26.8L593.8 14.5Z" fill="#284c8c" fill-rule="evenodd"/>
</g>
<rect x="528.9" y="16.7" width="12" height="12" fill="#fff"/>
<text x="534.9" y="24.8" font-size="6.6" text-anchor="middle" font-weight="normal" fill="#231f20" >(g)</text>
<rect x="524.5" y="14.5" width="110" height="246" fill="none" stroke="#231f20" stroke-width="1.0"/>
<line x1="524.5" y1="260.5" x2="524.5" y2="265" stroke="#231f20" stroke-width="0.9"/>
<text x="524.5" y="270.7" font-size="8.4" text-anchor="middle" font-weight="normal" fill="#231f20" >Dec</text>
<line x1="544.5" y1="260.5" x2="544.5" y2="265" stroke="#231f20" stroke-width="0.9"/>
<text x="544.5" y="270.7" font-size="8.4" text-anchor="middle" font-weight="normal" fill="#231f20" >Feb</text>
<line x1="564.5" y1="260.5" x2="564.5" y2="265" stroke="#231f20" stroke-width="0.9"/>
<text x="564.5" y="270.7" font-size="8.4" text-anchor="middle" font-weight="normal" fill="#231f20" >Apr</text>
<line x1="584.5" y1="260.5" x2="584.5" y2="265" stroke="#231f20" stroke-width="0.9"/>
<text x="584.5" y="270.7" font-size="8.4" text-anchor="middle" font-weight="normal" fill="#231f20" >Jun</text>
<line x1="604.5" y1="260.5" x2="604.5" y2="265" stroke="#231f20" stroke-width="0.9"/>
<text x="604.5" y="270.7" font-size="8.4" text-anchor="middle" font-weight="normal" fill="#231f20" >Aug</text>
<line x1="624.5" y1="260.5" x2="624.5" y2="265" stroke="#231f20" stroke-width="0.9"/>
<text x="624.5" y="270.7" font-size="8.4" text-anchor="middle" font-weight="normal" fill="#231f20" >Oct</text>
<line x1="520.5" y1="14.5" x2="524.5" y2="14.5" stroke="#231f20" stroke-width="0.9"/>
<text x="519.1" y="17.6" font-size="8.8" text-anchor="end" font-weight="normal" fill="#231f20" >10N</text>
<line x1="520.5" y1="76" x2="524.5" y2="76" stroke="#231f20" stroke-width="0.9"/>
<text x="519.1" y="79.1" font-size="8.8" text-anchor="end" font-weight="normal" fill="#231f20" >5N</text>
<line x1="520.5" y1="137.5" x2="524.5" y2="137.5" stroke="#231f20" stroke-width="0.9"/>
<text x="519.1" y="140.6" font-size="8.8" text-anchor="end" font-weight="normal" fill="#231f20" >0</text>
<line x1="520.5" y1="199" x2="524.5" y2="199" stroke="#231f20" stroke-width="0.9"/>
<text x="519.1" y="202.1" font-size="8.8" text-anchor="end" font-weight="normal" fill="#231f20" >5S</text>
<line x1="520.5" y1="260.5" x2="524.5" y2="260.5" stroke="#231f20" stroke-width="0.9"/>
<text x="519.1" y="263.6" font-size="8.8" text-anchor="end" font-weight="normal" fill="#231f20" >10S</text>
<line x1="522.3" y1="26.8" x2="524.5" y2="26.8" stroke="#231f20" stroke-width="0.7"/>
<line x1="522.3" y1="39.1" x2="524.5" y2="39.1" stroke="#231f20" stroke-width="0.7"/>
<line x1="522.3" y1="51.4" x2="524.5" y2="51.4" stroke="#231f20" stroke-width="0.7"/>
<line x1="522.3" y1="63.7" x2="524.5" y2="63.7" stroke="#231f20" stroke-width="0.7"/>
<line x1="522.3" y1="88.3" x2="524.5" y2="88.3" stroke="#231f20" stroke-width="0.7"/>
<line x1="522.3" y1="100.6" x2="524.5" y2="100.6" stroke="#231f20" stroke-width="0.7"/>
<line x1="522.3" y1="112.9" x2="524.5" y2="112.9" stroke="#231f20" stroke-width="0.7"/>
<line x1="522.3" y1="125.2" x2="524.5" y2="125.2" stroke="#231f20" stroke-width="0.7"/>
<line x1="522.3" y1="149.8" x2="524.5" y2="149.8" stroke="#231f20" stroke-width="0.7"/>
<line x1="522.3" y1="162.1" x2="524.5" y2="162.1" stroke="#231f20" stroke-width="0.7"/>
<line x1="522.3" y1="174.4" x2="524.5" y2="174.4" stroke="#231f20" stroke-width="0.7"/>
<line x1="522.3" y1="186.7" x2="524.5" y2="186.7" stroke="#231f20" stroke-width="0.7"/>
<line x1="522.3" y1="211.3" x2="524.5" y2="211.3" stroke="#231f20" stroke-width="0.7"/>
<line x1="522.3" y1="223.6" x2="524.5" y2="223.6" stroke="#231f20" stroke-width="0.7"/>
<line x1="522.3" y1="235.9" x2="524.5" y2="235.9" stroke="#231f20" stroke-width="0.7"/>
<line x1="522.3" y1="248.2" x2="524.5" y2="248.2" stroke="#231f20" stroke-width="0.7"/>
<rect x="644.2" y="229.2" width="7.4" height="15.1" fill="#ebf4e4" stroke="#231f20" stroke-width="0.6"/>
<rect x="644.2" y="214.2" width="7.4" height="15.1" fill="#d9ead6" stroke="#231f20" stroke-width="0.6"/>
<rect x="644.2" y="199.1" width="7.4" height="15.1" fill="#cde4c9" stroke="#231f20" stroke-width="0.6"/>
<rect x="644.2" y="184" width="7.4" height="15.1" fill="#bcdcbe" stroke="#231f20" stroke-width="0.6"/>
<rect x="644.2" y="168.9" width="7.4" height="15.1" fill="#a5d3b4" stroke="#231f20" stroke-width="0.6"/>
<rect x="644.2" y="153.8" width="7.4" height="15.1" fill="#8ccbb6" stroke="#231f20" stroke-width="0.6"/>
<rect x="644.2" y="138.8" width="7.4" height="15.1" fill="#74c0c0" stroke="#231f20" stroke-width="0.6"/>
<rect x="644.2" y="123.7" width="7.4" height="15.1" fill="#62b3c8" stroke="#231f20" stroke-width="0.6"/>
<rect x="644.2" y="108.6" width="7.4" height="15.1" fill="#4fa3c6" stroke="#231f20" stroke-width="0.6"/>
<rect x="644.2" y="93.5" width="7.4" height="15.1" fill="#4193bf" stroke="#231f20" stroke-width="0.6"/>
<rect x="644.2" y="78.4" width="7.4" height="15.1" fill="#3583b6" stroke="#231f20" stroke-width="0.6"/>
<rect x="644.2" y="63.4" width="7.4" height="15.1" fill="#2d72ac" stroke="#231f20" stroke-width="0.6"/>
<rect x="644.2" y="48.3" width="7.4" height="15.1" fill="#2b62a0" stroke="#231f20" stroke-width="0.6"/>
<rect x="644.2" y="33.2" width="7.4" height="15.1" fill="#284c8c" stroke="#231f20" stroke-width="0.6"/>
<text x="661.2" y="231.5" font-size="6.5" text-anchor="middle" font-weight="normal" fill="#231f20" >0</text>
<text x="661.2" y="201.4" font-size="6.5" text-anchor="middle" font-weight="normal" fill="#231f20" >0.002</text>
<text x="661.2" y="171.2" font-size="6.5" text-anchor="middle" font-weight="normal" fill="#231f20" >0.004</text>
<text x="661.2" y="141.1" font-size="6.5" text-anchor="middle" font-weight="normal" fill="#231f20" >0.006</text>
<text x="661.2" y="110.9" font-size="6.5" text-anchor="middle" font-weight="normal" fill="#231f20" >0.008</text>
<text x="661.2" y="80.7" font-size="6.5" text-anchor="middle" font-weight="normal" fill="#231f20" >0.01</text>
<text x="661.2" y="50.6" font-size="6.5" text-anchor="middle" font-weight="normal" fill="#231f20" >0.012</text>
<text x="0" y="0" font-size="9.7" text-anchor="middle" fill="#231f20" transform="translate(677.4,138.8) rotate(90)">Precipitation (m)</text>
<defs><g id="landg">
<polygon points="-66,9 -62,9.8 -57,8.2 -50,7.8 -49,11.5 -45,13 -40,14 -40,12.5 -35,13 -31,14 -28,13.8 -26,14 -27,17 -25,21 -23,26 -21,30 -18,32.5 -17,33.5 -15,34.5 -9,33 -9,35 -12,40 -18,46 -20,50 -21,55 -20,60 -25,67 -25,69 -27,71 -28,74 -30,76 -33,79 -40,80 -42,77 -45,72 -48,62 -47,55 -48,50 -51,46 -51,41 -54,41 -58,39 -62,40 -68,41 -71,38 -73,37 -75,34 -77,31 -76.5,27 -77,24 -74,19 -70,15.5 -69,13 -66,9"/>
<polygon points="294,9 298,9.8 303,8.2 310,7.8 311,11.5 315,13 320,14 320,12.5 325,13 329,14 332,13.8 334,14 333,17 335,21 337,26 339,30 342,32.5 343,33.5 345,34.5 351,33 351,35 348,40 342,46 340,50 339,55 340,60 335,67 335,69 333,71 332,74 330,76 327,79 320,80 318,77 315,72 312,62 313,55 312,50 309,46 309,41 306,41 302,39 298,40 292,41 289,38 287,37 285,34 283,31 283.5,27 283,24 286,19 290,15.5 291,13 294,9"/>
<polygon points="-16.6,71.7 -12.8,71.7 -9.1,59.2 -10.3,55.4 -12.8,56.7 -16.6,60.4 -17.2,67.9"/>
<polygon points="343.4,71.7 347.2,71.7 350.9,59.2 349.7,55.4 347.2,56.7 343.4,60.4 342.8,67.9"/>
<polygon points="-70,-7 -70,1 -69,2 -69,8 -66,9 -62,8 -60,6 -57,3 -57,1.5 -53,1.5 -50,1 -48,3 -44,7 -42,5 -44,4 -47,1 -46,0 -41,3 -40,5 -37,8 -37,5 -34,4 -31,4 -33,8 -30,9 -24,9 -25,12 -26,14 -26,17 -21,24 -17,32 -15,32 -8,29 -5,28 -1,23 -4,19 -8,21 -10,19 -12,15 -10,15 -6,18 -3,19 2,20 7,20 9,23 13,27 15,33 17,37 20,35 20,30 23,27 27,24 30,23 32,23 34,27 34,29 38,29 38,35 39,38 41,42 44,43.5 43,40 40,38 40,32 43,33 45,36 47,34 49,33 49,30 46,26 48,23 51,24 54,23 57,22 60,19 62,15 61,13 59,10 61,8 62,8 59,6 62,5 65,6 66,8 66,10 69,10 69,6 68,4 71,2 75,1 80,-3 82,-7"/>
<polygon points="290,-7 290,1 291,2 291,8 294,9 298,8 300,6 303,3 303,1.5 307,1.5 310,1 312,3 316,7 318,5 316,4 313,1 314,0 319,3 320,5 323,8 323,5 326,4 329,4 327,8 330,9 336,9 335,12 334,14 334,17 339,24 343,32 345,32 352,29 355,28 359,23 356,19 352,21 350,19 348,15 350,15 354,18 357,19 362,20 367,20 369,23 373,27 375,33 377,37 380,35 380,30 383,27 387,24 390,23 392,23 394,27 394,29 398,29 398,35 399,38 401,42 404,43.5 403,40 400,38 400,32 403,33 405,36 407,34 409,33 409,30 406,26 408,23 411,24 414,23 417,22 420,19 422,15 421,13 419,10 421,8 422,8 419,6 422,5 425,6 426,8 426,10 429,10 429,6 428,4 431,2 435,1 440,-3 442,-7"/>
<polygon points="68.1,15.8 69.3,12 74.3,12 80.6,10.8 81.8,7 83.1,4.5 81.8,2 83.1,0.8 86.8,-0.5 81.8,-2.4 80.6,2 79.3,7 75.6,9.5 70.6,10.8 68.1,13.3"/>
<polygon points="428.1,15.8 429.3,12 434.3,12 440.6,10.8 441.8,7 443.1,4.5 441.8,2 443.1,0.8 446.8,-0.5 441.8,-2.4 440.6,2 439.3,7 435.6,9.5 430.6,10.8 428.1,13.3"/>
<polygon points="59.7,23.4 61.6,23.4 62.2,19.6 61,19.6"/>
<polygon points="419.7,23.4 421.6,23.4 422.2,19.6 421,19.6"/>
<polygon points="48.2,26.7 50.7,27.3 51.3,24.8 48.8,24.8"/>
<polygon points="408.2,26.7 410.7,27.3 411.3,24.8 408.8,24.8"/>
<polygon points="59.3,24.9 61.8,24.9 61.8,30.5 64.3,31.7 66.8,35.5 66.8,39.2 65.6,40.5 61.8,39.2 61.8,35.5 59.3,33 59.3,29.2"/>
<polygon points="419.3,24.9 421.8,24.9 421.8,30.5 424.3,31.7 426.8,35.5 426.8,39.2 425.6,40.5 421.8,39.2 421.8,35.5 419.3,33 419.3,29.2"/>
<polygon points="47.8,42.9 49,46.6 50.3,49.1 54,50.4 56.5,49.1 57.8,44.1 60.3,39.1 57.8,36.6 56.5,37.9 52.8,40.4 50.3,42.9"/>
<polygon points="407.8,42.9 409,46.6 410.3,49.1 414,50.4 416.5,49.1 417.8,44.1 420.3,39.1 417.8,36.6 416.5,37.9 412.8,40.4 410.3,42.9"/>
<polygon points="33.7,38 37.4,39.9 44.9,47.4 47.4,52.4 44.9,51.8 41.2,48.6 38.7,44.9 34.9,41.1"/>
<polygon points="393.7,38 397.4,39.9 404.9,47.4 407.4,52.4 404.9,51.8 401.2,48.6 398.7,44.9 394.9,41.1"/>
<polygon points="44,51.4 47.7,50.7 52.7,52 55.2,53.2 50.2,53.2 45.2,52"/>
<polygon points="404,51.4 407.7,50.7 412.7,52 415.2,53.2 410.2,53.2 405.2,52"/>
<polygon points="58.4,51.4 59,44.5 60.9,43.3 65.9,42.7 62.1,45.8 63.4,49.5 60.9,50.8"/>
<polygon points="418.4,51.4 419,44.5 420.9,43.3 425.9,42.7 422.1,45.8 423.4,49.5 420.9,50.8"/>
<polygon points="68.8,44.8 73.8,47.3 77.5,46.1 81.3,47.3 87.5,49.8 90,53.6 92.5,56.1 88.8,56.1 83.8,54.8 80,53.6 77.5,53.6 76.3,49.8 71.3,48.6 70,47.3"/>
<polygon points="428.8,44.8 433.8,47.3 437.5,46.1 441.3,47.3 447.5,49.8 450,53.6 452.5,56.1 448.8,56.1 443.8,54.8 440,53.6 437.5,53.6 436.3,49.8 431.3,48.6 430,47.3"/>
<polygon points="54,67 54,71 55,79 58,80 63,79 69,77 75,80 78,80 80,83 86,84 90,82 93,76 93,70 90,67 86,64 85,60 83,56 82,56 81,60 80,62 76,60 77,57 72,56 70,58 67,59 65,60 62,62 60,64 57,65"/>
<polygon points="414,67 414,71 415,79 418,80 423,79 429,77 435,80 438,80 440,83 446,84 450,82 453,76 453,70 450,67 446,64 445,60 443,56 442,56 441,60 440,62 436,60 437,57 432,56 430,58 427,59 425,60 422,62 420,64 417,65"/>
<polygon points="19.8,39.5 22.3,38.2 21.7,35.1 19.8,35.1"/>
<polygon points="379.8,39.5 382.3,38.2 381.7,35.1 379.8,35.1"/>
<polygon points="-190,-10 -185,-5 -184,-1 -184,3 -182,8 -178,11 -177,13 -174,15 -170,22 -169.5,22 -172,18 -173,14 -172,16 -169,19 -166,22 -165,25 -161,28 -156,29 -154,29 -152,31 -148,32 -146,34 -144,36 -142,37 -139,36 -137,37 -137,36.5 -139.5,35.5 -141,36 -143,35 -144,34 -143.5,30 -148,29 -148,24 -150,24 -151,26 -154,26.5 -156,26 -157,23 -157,19 -157,17 -154,15.5 -150,16 -149,14.5 -145,15 -143,16 -142,19 -140,20 -140,17 -141,14 -136,10 -136,7 -134,5 -130,3 -130,1 -126,0 -124,0 -121,-1 -120,-2 -125,-4 -120,-7 -190,-10"/>
<polygon points="170,-10 175,-5 176,-1 176,3 178,8 182,11 183,13 186,15 190,22 190.5,22 188,18 187,14 188,16 191,19 194,22 195,25 199,28 204,29 206,29 208,31 212,32 214,34 216,36 218,37 221,36 223,37 223,36.5 220.5,35.5 219,36 217,35 216,34 216.5,30 212,29 212,24 210,24 209,26 206,26.5 204,26 203,23 203,19 203,17 206,15.5 210,16 211,14.5 215,15 217,16 218,19 220,20 220,17 219,14 224,10 224,7 226,5 230,3 230,1 234,0 236,0 239,-1 240,-2 235,-4 240,-7 170,-10"/>
<polygon points="-146.3,22.9 -142.5,21.6 -136.3,22.9 -132.5,25.4 -136.3,25.4 -140,22.9 -145,23.5"/>
<polygon points="213.7,22.9 217.5,21.6 223.7,22.9 227.5,25.4 223.7,25.4 220,22.9 215,23.5"/>
<polygon points="-134.8,27.2 -132.3,24.7 -128.6,25.3 -127.3,26.6 -131.1,27.2"/>
<polygon points="225.2,27.2 227.7,24.7 231.4,25.3 232.7,26.6 228.9,27.2"/>
<polygon points="-137,36.5 -136,36 -135,34 -132,33 -131,34 -128,34.5 -124,34.5 -122,34.5 -120,37 -117,39 -112,40 -110,43 -110,45 -108,46 -104,47.5 -100,48 -97,50 -95,51 -95,54 -97,57 -99,59 -99,63 -100,65 -101,67 -104,68 -107,70 -108,72 -109,74 -111,76 -113,78 -114,80 -117,81 -118,83 -122,84 -125,87 -132,87 -133,83 -131.5,75 -130,63 -135,60 -137,57 -139,53 -141,51 -140,48 -140,45 -139,44 -138,42 -137,41 -137,38"/>
<polygon points="223,36.5 224,36 225,34 228,33 229,34 232,34.5 236,34.5 238,34.5 240,37 243,39 248,40 250,43 250,45 252,46 256,47.5 260,48 263,50 265,51 265,54 263,57 261,59 261,63 260,65 259,67 256,68 253,70 252,72 251,74 249,76 247,78 246,80 243,81 242,83 238,84 235,87 228,87 227,83 228.5,75 230,63 225,60 223,57 221,53 219,51 220,48 220,45 221,44 222,42 223,41 223,38"/>
<polygon points="112,79 114,81 118,83 116,85 114,86 113,84 114,82"/>
<polygon points="472,79 474,81 478,83 476,85 474,86 473,84 474,82"/>
</g><g id="waterg">
<polygon points="-32,4 -32,1 -29,-1.5 -25,0 -21,-2 -18.5,3 -24,3.5 -29,4"/>
<polygon points="328,4 328,1 331,-1.5 335,0 339,-2 341.5,3 336,3.5 331,4"/>
<polygon points="-13,0 -13,3 -11,5 -11,8 -9,8.5 -6,8 -7,5 -7,3 -9,1 -9,-1.5 -13,-1.5"/>
<polygon points="347,0 347,3 349,5 349,8 351,8.5 354,8 353,5 353,3 351,1 351,-1.5 347,-1.5"/>
</g></defs>
<clipPath id="clipmb"><rect x="55.5" y="140.5" width="206" height="52"/></clipPath>
<g clip-path="url(#clipmb)">
<g transform="translate(55.5,140.5) scale(0.57222,0.69333)"><use href="#landg" fill="#c6c6c6"/><use href="#waterg" fill="#fff"/></g>
</g>
<g clip-path="url(#clipmb)" opacity="1">
<path d="M223.7 185.8L224.9 186L226 186.1L227.2 186.3L228.3 186.3L229.5 186.4L230.6 186.4L231.7 186.3L232.9 186.3L234 186.1L235.2 186L236.3 185.8L237.2 185.6L237.5 185.5L238.6 185.1L239.8 184.7L240.8 184.2L240.9 184L241.7 182.8L240.9 181.6L240.8 181.4L239.8 180.9L238.6 180.4L237.5 180.1L237.2 180L236.3 179.8L235.2 179.6L234 179.4L232.9 179.3L231.7 179.3L230.6 179.2L229.5 179.2L228.3 179.3L227.2 179.3L226 179.4L224.9 179.6L223.7 179.8L222.8 180L222.6 180.1L221.4 180.4L220.3 180.9L219.3 181.4L219.2 181.6L218.4 182.8L219.2 184L219.3 184.2L220.3 184.7L221.4 185.1L222.6 185.5L222.8 185.6Z" fill="#f8d6c4" fill-rule="evenodd"/>
</g>
<g clip-path="url(#clipmb)" fill="none" stroke-linejoin="round">
<path d="M140.2 180.1L139.9 180L139 179.8L137.9 179.4L136.8 179.1L135.6 178.9L134.7 178.6L135.6 177.9L136.8 177.4L137.1 177.2L137.9 177.2L139 177.1L140.2 177L141.3 176.9L142.5 176.9L143.6 177L144.8 177.1L145.2 177.2L145.9 177.7L146.9 178.6L145.9 179.4L144.9 180L144.8 180L143.6 180.2L142.5 180.2L141.3 180.2ZM137.9 182.9L137.1 182.8L136.8 182.7L135.6 182.6L134.5 182.4L133.3 182.2L132.2 182L131 181.8L129.9 181.5L129.5 181.4L128.7 181.2L127.6 180.8L126.5 180.4L125.4 180L125.3 180L124.2 179.4L123 178.8L122.6 178.6L121.9 177.8L121.3 177.2L121.9 176.2L122.1 175.9L123 175.5L124.2 175.2L125.3 174.8L126.5 174.5L126.8 174.5L127.6 174.3L128.7 174.2L129.9 174.1L131 174L132.2 173.9L133.3 173.8L134.5 173.8L135.6 173.8L136.8 173.8L137.9 173.8L139 173.8L140.2 173.8L141.3 173.8L142.5 173.8L143.6 173.9L144.8 174L145.9 174.1L147.1 174.3L147.7 174.5L148.2 174.6L149.3 175L150.5 175.4L151.6 175.8L151.7 175.9L152.8 176.7L153.5 177.2L153.9 178.3L154 178.6L153.9 178.9L153.5 180L152.8 180.6L151.6 181.4L151.6 181.4L150.5 181.9L149.3 182.2L148.2 182.6L147.1 182.8L147.1 182.8L145.9 183L144.8 183.1L143.6 183.1L142.5 183.1L141.3 183.1L140.2 183L139 183ZM133.3 184.3L132.3 184.2L132.2 184.2L131 183.9L129.9 183.7L128.7 183.4L127.6 183.2L126.5 182.9L126.2 182.8L125.3 182.5L124.2 182.2L123 181.8L121.9 181.4L121.8 181.4L120.7 181L119.6 180.5L118.5 180L118.4 180L117.3 179.3L116.2 178.6L116.2 178.6L115 177.2L115 177L115 175.9L115 175.8L116.2 174.7L116.4 174.5L117.3 174.1L118.4 173.7L119.6 173.3L120.6 173.1L120.7 173.1L121.9 172.8L123 172.6L124.2 172.4L125.3 172.1L126.5 171.8L126.8 171.7L127.6 171.3L128.7 170.5L129 170.3L129.9 169.6L130.8 168.9L131 168.9L132.2 168.7L133.3 168.6L134.5 168.4L135.6 168.3L136.8 168.2L137.9 168.1L139 168.1L140.2 168L141.3 168L142.5 167.9L143.6 168L144.8 168L145.9 168.2L147.1 168.3L148.2 168.5L149.3 168.6L150.5 168.8L151.6 168.9L151.8 168.9L151.6 169.1L151 170.3L150.5 170.8L149.7 171.7L150.5 172.1L151.6 172.7L152.1 173.1L152.8 173.3L153.9 173.8L155.1 174.4L155.2 174.5L156.2 175.1L157.4 175.9L157.4 175.9L158.5 177.2L158.6 177.2L158.9 178.6L158.6 180L158.5 180.1L157.4 181.4L157.3 181.4L156.2 182.1L155.1 182.8L155.1 182.8L153.9 183.2L152.8 183.6L151.6 184L150.9 184.2L150.5 184.3L149.3 184.5L148.2 184.7L147.1 184.8L145.9 184.9L144.8 185L143.6 185.1L142.5 185.1L141.3 185.1L140.2 185L139 184.9L137.9 184.9L136.8 184.8L135.6 184.6L134.5 184.5ZM129.9 185.6L129.6 185.6L128.7 185.4L127.6 185.1L126.5 184.9L125.3 184.6L124.2 184.3L123.8 184.2L123 183.9L121.9 183.6L120.7 183.2L119.6 182.9L119.4 182.8L118.4 182.4L117.3 182L116.2 181.5L115.9 181.4L115 181L113.9 180.4L113.2 180L112.7 179.6L111.6 178.7L111.4 178.6L110.5 177.2L110.4 176.8L110.4 175.9L110.4 175.7L111.2 174.5L111.6 174.2L112.7 173.4L113.2 173.1L113.9 172.8L115 172.2L116.2 171.8L116.4 171.7L117.3 171.4L118.4 171L119.6 170.6L120.6 170.3L120.7 170.3L121.9 169.9L123 169.5L124.2 169L124.2 168.9L125.3 168.6L126.5 168.3L127.6 168L128.7 167.6L129.2 167.5L129.9 167.4L131 167.3L132.2 167.2L133.3 167.1L134.5 167.1L135.6 167L136.8 167L137.9 166.9L139 166.9L140.2 166.9L141.3 166.9L142.5 166.9L143.6 166.9L144.8 166.9L145.9 167L147.1 167.1L148.2 167.1L149.3 167.2L150.5 167.3L151.6 167.3L152.8 167.4L153.9 167.4L155.1 167.4L156.2 167.5L156.9 167.5L157.4 167.6L158.5 167.9L159.6 168.3L160.8 168.8L161 168.9L160.8 169.2L159.7 170.3L159.6 170.3L158.5 171.3L158 171.7L158.5 172.5L158.8 173.1L159.6 173.7L160.7 174.5L160.8 174.6L161.9 175.6L162.2 175.9L163.1 177.1L163.1 177.2L163.4 178.6L163.1 180L163.1 180.1L162.2 181.4L161.9 181.7L160.8 182.6L160.6 182.8L159.6 183.3L158.5 183.9L158 184.2L157.4 184.4L156.2 184.8L155.1 185.2L153.9 185.5L153.7 185.6L152.8 185.8L151.6 186L150.5 186.2L149.3 186.4L148.2 186.5L147.1 186.7L145.9 186.7L144.8 186.8L143.6 186.8L142.5 186.9L141.3 186.8L140.2 186.8L139 186.8L137.9 186.7L136.8 186.6L135.6 186.5L134.5 186.4L133.3 186.2L132.2 186L131 185.8ZM135.6 188.4L135.4 188.3L134.5 188.2L133.3 188.1L132.2 188L131 187.8L129.9 187.6L128.7 187.4L127.6 187.2L126.6 187L126.5 186.9L125.3 186.7L124.2 186.4L123 186.1L121.9 185.7L121.3 185.6L120.7 185.4L119.6 185L118.4 184.7L117.3 184.3L117.1 184.2L116.2 183.8L115 183.4L113.9 182.9L113.5 182.8L112.7 182.4L111.6 181.9L110.7 181.4L110.4 181.3L109.3 180.6L108.5 180L108.1 179.7L107 178.6L107 178.6L106.2 177.2L106 175.9L106.7 174.5L107 174.2L108.1 173.2L108.3 173.1L109.3 172.5L110.4 171.9L110.8 171.7L111.6 171.3L112.7 170.8L113.7 170.3L113.9 170.2L115 169.8L116.2 169.3L117.1 168.9L117.3 168.9L118.4 168.6L119.6 168.4L120.7 168.2L121.9 168L123 167.7L123.6 167.5L124.2 167.4L125.3 167.2L126.5 167L127.6 166.8L128.7 166.6L129.9 166.4L131 166.3L132.2 166.3L133.3 166.2L134.5 166.2L134.6 166.2L135.6 166.1L136.8 166.1L137.9 166.1L139 166L140.2 166L141.3 166L142.5 166L143.6 166L144.8 166.1L145.9 166.1L146.1 166.2L147.1 166.2L148.2 166.3L149.3 166.4L150.5 166.4L151.6 166.4L152.8 166.4L153.9 166.4L155.1 166.4L156.2 166.5L157.4 166.5L158.5 166.6L159.6 166.7L160.8 166.9L161.9 167.1L163.1 167.4L163.9 167.5L164.2 167.7L165.4 168.3L166.5 168.8L166.7 168.9L166.5 169.2L165.6 170.3L165.4 170.6L164.2 171.7L164.2 171.7L164.2 171.7L164.6 173.1L165.4 173.9L165.9 174.5L166.5 175.1L167.1 175.9L167.7 176.8L167.9 177.2L168.1 178.6L167.9 180L167.7 180.5L167.2 181.4L166.5 182.2L166 182.8L165.4 183.3L164.2 184.1L164.1 184.2L163.1 184.7L161.9 185.2L161.1 185.6L160.8 185.7L159.6 186.1L158.5 186.5L157.4 186.8L156.8 187L156.2 187.1L155.1 187.4L153.9 187.6L152.8 187.8L151.6 188L150.5 188.2L149.3 188.3L149.1 188.3L148.2 188.4L147.1 188.5L145.9 188.6L144.8 188.7L143.6 188.7L142.5 188.7L141.3 188.7L140.2 188.7L139 188.6L137.9 188.5L136.8 188.5ZM83 165.5L82.1 164.8L81.8 164.4L81.2 163.4L80.8 162L80.7 160.6L80.9 159.2L81.3 157.8L81.8 156.7L81.9 156.4L83 155.2L83.1 155.1L84.1 154.3L85.3 153.8L85.8 153.7L86.4 153.6L87.5 153.7L87.6 153.7L88.7 154.1L89.8 155L89.9 155.1L90.7 156.4L91 157.5L91 157.8L91 159.2L91 159.5L90.7 160.6L90.2 162L89.8 162.6L89.3 163.4L88.7 164.1L87.9 164.8L87.5 165.1L86.4 165.8L85.3 166.1L84.1 166ZM191.7 144.6L191.1 144L190.6 142.6L191 141.2L191.7 140.5L192.4 141.2L192.8 142.6L192.3 144ZM193.5 138.4L194 139.4L194.1 139.8L194.4 141.2L194.5 142.6L194.4 144L194.1 145.4L194 145.7L193.4 146.7L192.8 147.5L191.7 148L190.5 147.5L190 146.7L189.4 145.5L189.3 145.4L189 144L188.9 142.6L189 141.2L189.3 139.8L189.4 139.5L189.9 138.4M129.9 189.9L129.1 189.7L128.7 189.7L127.6 189.5L126.5 189.3L125.3 189L124.2 188.8L123 188.5L122.5 188.3L121.9 188.2L120.7 187.9L119.6 187.5L118.4 187.1L118 187L117.3 186.7L116.2 186.3L115 185.9L114.2 185.6L113.9 185.4L112.7 185L111.6 184.6L110.7 184.2L110.4 184.1L109.3 183.6L108.1 183.1L107.6 182.8L107 182.5L105.9 181.9L105.1 181.4L104.7 181.1L103.6 180.3L103.1 180L102.4 179.4L101.5 178.6L101.3 178.3L100.3 177.2L100.1 176.7L99.8 175.9L100.1 175.4L100.6 174.5L101.3 174L102.4 173.1L102.4 173.1L103.6 172.4L104.7 171.8L105 171.7L105.9 171.4L107 170.9L108.1 170.4L108.4 170.3L109.3 170L110.4 169.6L111.6 169.2L112.2 168.9L112.7 168.8L113.9 168.4L115 168.1L116.2 167.8L117 167.5L117.3 167.5L118.4 167.3L119.6 167.1L120.7 166.9L121.9 166.8L123 166.6L124.2 166.4L125.3 166.2L125.4 166.2L126.5 165.9L127.6 165.7L128.7 165.6L129.9 165.4L131 165.3L132.2 165.3L133.3 165.3L134.5 165.2L135.6 165.2L136.8 165.2L137.9 165.2L139 165.2L140.2 165.1L141.3 165.1L142.5 165.1L143.6 165.2L144.8 165.2L145.9 165.3L147.1 165.3L148.2 165.4L149.3 165.5L150.5 165.5L151.6 165.5L152.8 165.5L153.9 165.5L155.1 165.4L156.2 165.4L157.4 165.4L158.5 165.5L159.6 165.6L160.8 165.7L161.9 165.9L163.1 166.1L163.2 166.2L164.2 166.4L165.4 166.6L166.5 166.8L167.7 166.9L168.8 167.1L169.9 167.2L171.1 167.3L172.2 167.4L172.8 167.5L173.4 167.9L174.5 168.9L174.6 168.9L174.5 169L173.4 169.8L172.8 170.3L172.2 170.7L171.1 171.5L170.8 171.7L170.8 173.1L171.1 173.5L171.8 174.5L172.2 175.1L172.7 175.9L173.3 177.2L173.4 177.6L173.5 178.6L173.4 179.8L173.3 180L172.8 181.4L172.2 182.5L172.1 182.8L171.4 184.2L171.1 185.5L171.1 185.6L170.5 187L169.9 187.4L168.8 187.8L167.7 187.8L166.5 187.7L165.4 187.6L164.2 187.7L163.1 187.9L161.9 188.1L161.1 188.3L160.8 188.4L159.6 188.7L158.5 188.9L157.4 189.2L156.2 189.4L155.1 189.6L154.4 189.7L153.9 189.8L152.8 190L151.6 190.2L150.5 190.3L149.3 190.5L148.2 190.6L147.1 190.7L145.9 190.7L144.8 190.8L143.6 190.8L142.5 190.8L141.3 190.8L140.2 190.8L139 190.8L137.9 190.7L136.8 190.6L135.6 190.6L134.5 190.5L133.3 190.3L132.2 190.2L131 190L129.9 189.9M73.8 185.8L73.3 185.6L72.7 185.2L71.7 184.2L71.5 184L70.8 182.8L70.4 182.2L70 181.4L69.3 180L69.2 179.9L68.6 178.6L68.1 177.6L67.9 177.2L67.5 175.9L67.4 174.5L67.9 173.1L68.1 172.9L69.2 171.9L69.7 171.7L70.4 171.4L71.5 171.4L72.5 171.7L72.7 171.7L73.8 172.1L75 172.5L76.1 172.8L77.2 172.7L78.4 172.1L78.7 171.7L78.4 170.4L78.4 170.3L77.3 168.9L77.2 168.9L76.1 167.7L75.9 167.5L75 166.2L75 165.9L74.7 164.8L74.7 163.4L75 162.7L75.1 162L75.6 160.6L76.1 159.3L76.1 159.2L76.7 157.8L77.2 156.7L77.3 156.4L78.1 155.1L78.4 154.6L79 153.7L79.5 153L80.2 152.3L80.7 151.8L81.8 150.9L81.8 150.9L83 150.2L84.1 149.7L84.6 149.5L85.3 149.3L86.4 149.1L87.5 149.1L88.7 149.3L89.3 149.5L89.8 149.7L91 150.3L91.8 150.9L92.1 151.2L93.1 152.3L93.3 152.5L93.9 153.7L94.4 155L94.4 155.1L94.6 156.4L94.7 157.8L94.5 159.2L94.4 160.1L94.3 160.6L94 162L93.7 163.4L93.4 164.8L93.3 165.3L93.1 166.2L92.8 167.5L92.3 168.9L92.1 169.3L91.5 170.3L91 171.6L90.9 171.7L91 171.9L91.3 173.1L92.1 174.2L92.4 174.5L93.2 175.9L92.1 177.2L92 177.2L91 177.6L89.8 178L88.7 178.5L88.3 178.6L87.5 178.8L86.4 179.3L85.3 179.8L84.7 180L84.1 180.3L83 180.8L81.8 181.4L81.7 181.4L80.7 181.9L79.5 182.5L79 182.8L78.4 183.3L77.5 184.2L77.2 184.5L76.3 185.6L76.1 185.7L75 186ZM195.6 138.4L195.9 139.8L196 141.2L196.1 142.6L196 144L195.9 145.4L195.5 146.7L195.1 147.8L195 148.1L194.2 149.5L194 149.8L192.8 150.8L192.3 150.9L191.7 151.1L191.2 150.9L190.5 150.7L189.4 149.7L189.3 149.5L188.5 148.1L188.3 147.4L188 146.7L187.7 145.4L187.5 144L187.4 142.6L187.4 141.2L187.6 139.8L187.9 138.4M73.8 192.6L73.3 192.5L72.7 192.4L71.5 191.9L70.4 191.3L70.1 191.1L69.2 190.4L68.6 189.7L68.1 189.2L67.6 188.3L66.9 187.1L66.9 187L66.4 185.6L66.1 184.2L65.8 182.8L65.8 182.8L65.6 181.4L65.3 180L65 178.6L64.7 177.2L64.7 176.8L64.5 175.9L64.5 174.5L64.7 173.3L64.7 173.1L65.2 171.7L65.7 170.3L65.8 169.9L66.1 168.9L66.4 167.5L66.5 166.2L66.5 164.8L66.8 163.4L66.9 162.8L67.3 162L68.1 160.7L68.2 160.6L69.2 159.5L69.5 159.2L70.4 158.4L70.9 157.8L71.5 157.1L72 156.4L72.7 155.6L73 155.1L73.8 153.7L73.8 153.7L74.7 152.3L75 151.9L75.7 150.9L76.1 150.4L76.8 149.5L77.2 149.1L78.2 148.1L78.4 148L79.5 147L79.9 146.7L80.7 146.1L81.8 145.5L82 145.4L83 144.9L84.1 144.4L85.3 144L85.6 144L86.4 143.8L87.5 143.7L88.7 143.7L89.8 143.9L89.9 144L91 144.4L92.1 145L92.7 145.4L93.3 145.8L94.4 146.7L94.4 146.7L95.6 147.8L95.8 148.1L96.7 149.1L97 149.5L97.7 150.9L97.8 151.2L98.2 152.3L98.3 153.7L98.2 155.1L98 156.4L97.8 157L97.7 157.8L97.4 159.2L97.2 160.6L97 162L96.9 163.4L97.1 164.8L97.6 166.2L97.8 166.5L98.8 167.5L99 167.7L100.1 168.4L101.3 168.7L102.4 168.9L103.5 168.9L103.6 168.9L103.6 168.9L104.7 168.9L105.9 168.8L107 168.7L108.1 168.5L109.3 168.3L110.4 168L111.6 167.7L112.2 167.5L112.7 167.4L113.9 167.1L115 166.9L116.2 166.6L117.3 166.4L118.4 166.2L118.7 166.2L119.6 166L120.7 165.8L121.9 165.7L123 165.5L124.2 165.3L125.3 165L126.5 164.8L126.8 164.8L127.6 164.6L128.7 164.4L129.9 164.3L131 164.2L132.2 164.1L133.3 164.1L134.5 164.1L135.6 164.1L136.8 164.1L137.9 164.1L139 164.1L140.2 164.1L141.3 164L142.5 164.1L143.6 164.1L144.8 164.1L145.9 164.2L147.1 164.3L148.2 164.4L149.3 164.5L150.5 164.5L151.6 164.5L152.8 164.4L153.9 164.3L155.1 164.2L156.2 164.2L157.4 164.1L158.5 164.1L159.6 164.2L160.8 164.4L161.9 164.6L162.5 164.8L163.1 164.9L164.2 165.1L165.4 165.3L166.5 165.4L167.7 165.5L168.8 165.5L169.9 165.5L171.1 165.5L172.2 165.5L173.4 165.5L174.5 165.6L175.7 165.8L176.8 166L177.8 166.2L178 166.2L179.1 166.4L180.2 166.7L181.4 167L182.5 167.4L183 167.5L183.7 168.6L183.9 168.9L183.7 169.1L182.5 169.9L181.9 170.3L181.4 170.6L180.2 171.3L179.6 171.7L179.1 173L179.1 173.1L179.1 173.2L179.7 174.5L180.2 175.6L180.4 175.9L180.8 177.2L180.8 178.6L180.4 180L180.2 180.4L179.8 181.4L179.1 182.7L179 182.8L178.1 184.2L178 184.3L176.9 185.6L176.8 185.7L175.8 187L175.7 187.1L174.8 188.3L174.5 188.6L173.4 189.7L173.3 189.7L172.2 190.4L171.1 190.9L169.9 191.1L169.3 191.1L168.8 191.1L168.2 191.1L167.7 191.1L166.5 191L165.4 190.9L164.2 190.8L163.1 190.9L161.9 190.9L160.8 191.1L160.3 191.1L159.6 191.2L158.5 191.4L157.4 191.6L156.2 191.8L155.1 192L153.9 192.2L152.8 192.5L152.7 192.5L151.6 192.8L150.5 193L149.3 193.3L148.2 193.4L147.1 193.6L145.9 193.7L144.8 193.7L143.6 193.7L142.5 193.8L141.3 193.8L140.2 193.7L139 193.7L137.9 193.7L136.8 193.6L135.6 193.6L134.5 193.5L133.3 193.4L132.2 193.3L131 193.1L129.9 193L128.7 192.8L127.6 192.6L126.8 192.5L126.5 192.4L125.3 192.3L124.2 192L123 191.8L121.9 191.5L120.7 191.1L120.6 191.1L119.6 190.8L118.4 190.4L117.3 190L116.8 189.7L116.2 189.5L115 189L113.9 188.5L113.4 188.3L112.7 188.1L111.6 187.6L110.4 187.2L109.6 187L109.3 186.8L108.1 186.5L107 186.1L105.9 185.8L105.3 185.6L104.7 185.4L103.6 184.9L102.4 184.5L101.7 184.2L101.3 184L100.1 183.5L99 183.1L97.8 182.8L97.8 182.8L96.7 182.6L95.6 182.5L94.4 182.6L93.3 182.7L92.7 182.8L92.1 182.9L91 183.2L89.8 183.5L88.7 184L88.3 184.2L87.5 184.6L86.4 185.3L86 185.6L85.3 186.2L84.5 187L84.1 187.6L83.5 188.3L83 189.3L82.6 189.7L81.8 190.7L81.3 191.1L80.7 191.6L79.5 192.1L78.4 192.5L78.2 192.5L77.2 192.7L76.1 192.8L75 192.8Z" stroke="#3b4a8f" stroke-width="1.2" stroke-dasharray="3 1.3"/>
<path d="M55.4 196.7L55.5 196.4L55.7 195.3L56.1 193.9L56.6 192.5L56.7 192.5L57.3 191.1L57.8 190L57.9 189.7L58.6 188.3L58.9 187.4L59.1 187L59.5 185.6L59.8 184.2L59.9 182.8L60.1 181.4L60.1 181L60.1 180L60.2 178.6L60.2 177.2L60.2 175.9L60.3 174.5L60.5 173.1L60.7 171.7L60.9 170.3L61.1 168.9L61.2 167.6L61.2 167.5L61.3 166.2L61.3 164.8L61.3 163.4L61.3 162L61.3 160.6L61.3 159.2L61.3 157.8L61.4 156.4L61.6 155.1L61.8 153.7L62 152.3L62.2 150.9L62.3 149.5L62.2 148.1L61.9 146.7L61.5 145.4L61.2 144.5L61 144L60.3 142.6L60.1 142.1L59.5 141.2L58.9 140.2L58.7 139.8L57.8 138.4L57.8 138.4M261.4 196.7L261.5 196.4L261.7 195.3L262.1 193.9L262.6 192.5L262.7 192.5L263.3 191.1L263.8 190L263.9 189.7L264.6 188.3L264.9 187.4L265.1 187L265.5 185.6L265.8 184.2L265.9 182.8L266.1 181.4L266.1 181L266.1 180L266.2 178.6L266.2 177.2L266.2 175.9L266.3 174.5L266.5 173.1L266.7 171.7L266.9 170.3L267.1 168.9L267.2 167.6M267.2 144.5L267 144L266.3 142.6L266.1 142.1L265.5 141.2L264.9 140.2L264.7 139.8L263.8 138.4L263.8 138.4M239.3 138.4L238.6 138.6L237.5 138.9L236.3 139.3L235.4 139.8L235.2 139.9L234 140.5L233.2 141.2L232.9 141.4L231.7 142.5L231.7 142.6L230.6 143.9L230.6 144L229.6 145.4L229.5 145.7L228.8 146.7L228.3 147.8L228.2 148.1L227.6 149.5L227.2 150.8L227.1 150.9L226.7 152.3L226.4 153.7L226.1 155.1L226 155.3L225.7 156.4L225.1 157.8L224.9 158.3L224.3 159.2L223.7 160.1L223.3 160.6L222.6 161.4L221.9 162L221.4 162.3L220.3 162.8L219.2 163L218 162.9L216.9 162.8L215.7 162.6L214.6 162.4L213.4 162.3L212.3 162.2L211.1 162.2L210 162.3L208.9 162.4L207.7 162.5L206.6 162.6L205.4 162.9L204.3 163.4L204.3 163.4L203.1 164.1L202.4 164.8L202 165.2L201.4 166.2L200.8 167.3L200.7 167.5L200.1 168.9L199.7 170L199.6 170.3L199.2 171.7L199.2 173.1L199.6 174.5L199.7 174.7L200.2 175.9L200.8 176.9L201 177.2L202 178.4L202.2 178.6L203.1 179.6L203.7 180L204.3 180.5L205.4 181.3L205.7 181.4L206.6 181.9L207.7 182.4L208.8 182.8L208.9 182.8L210 183.2L211.1 183.6L212.3 184L212.7 184.2L213.4 184.6L214.6 185.3L214.9 185.6L215.7 186.3L216.4 187L216.9 187.4L217.8 188.3L218 188.5L219.2 189.6L219.4 189.7L220.3 190.5L221.3 191.1L221.4 191.2L222.6 191.9L223.7 192.5L223.8 192.5L224.9 193L226 193.4L227.2 193.8L227.6 193.9L228.3 194.1L229.5 194.3L230.6 194.4L231.7 194.4L232.9 194.1L233.3 193.9L234 193.5L235.1 192.5L235.2 192.4L236.2 191.1L236.3 190.9L237.2 189.7L237.5 189.5L238.6 188.3L238.6 188.3L239.8 187.7L240.9 187.2L242 187L242.3 187L243.2 186.9L243.5 187L244.3 187.1L245.5 187.4L246.6 188L247.2 188.3L247.8 188.8L248.7 189.7L248.9 190L249.8 191.1L250.1 191.4L250.8 192.5L251.2 193.2L251.6 193.9L252.3 195.2L252.4 195.3L253.1 196.7M104.7 165L105.9 165.4L107 165.6L108.1 165.6L109.3 165.6L110.4 165.5L111.6 165.3L112.7 165L113.9 164.8L113.9 164.8L115 164.3L116.2 163.9L117.3 163.6L118.1 163.4L118.4 163.2L119.6 162.8L120.7 162.4L121.7 162L121.9 161.9L123 161.2L124 160.6L124.2 160.5L125.3 160L126.5 159.8L127.6 159.8L128.7 159.9L129.9 160L131 160.2L132.2 160.3L133.3 160.4L134.5 160.5L135.6 160.6L136.8 160.6L137.9 160.5L139 160.5L140.2 160.4L141.3 160.2L142.5 160.1L143.6 160L144.8 160L145.9 159.9L147.1 159.9L148.2 159.8L149.3 159.6L150.5 159.3L150.8 159.2L151.6 159L152.8 158.5L153.9 158.1L154.6 157.8L155.1 157.7L156.2 157.3L157.4 157L158.5 156.8L159.6 156.6L160.6 156.4L160.8 156.4L161.9 156.3L163.1 156.2L164.2 156L165.4 155.8L166.5 155.6L167.7 155.4L168.8 155.1L169.1 155.1L169.9 154.9L171.1 154.7L172.2 154.4L173.4 154.1L174.5 153.8L174.8 153.7L175.7 153.4L176.8 153L178 152.4L178.2 152.3L179.1 151.7L180.1 150.9L180.2 150.7L181.2 149.5L181.4 149.1L181.8 148.1L182 146.7L181.8 145.4L181.4 144.6L181.1 144L180.2 142.9L179.9 142.6L179.1 141.9L178 141.2L178 141.2L176.8 140.6L175.7 140.2L174.5 140L173.4 139.9L172.5 139.8L172.2 139.8L171.1 139.7L169.9 139.7L168.8 139.6L167.7 139.6L166.5 139.5L165.4 139.5L164.2 139.5L163.1 139.5L161.9 139.5L160.8 139.6L159.6 139.8L159.4 139.8L158.5 139.9L157.4 140.1L156.2 140.3L155.1 140.5L153.9 140.6L152.8 140.8L151.6 141L150.5 141.2L149.3 141.2L148.2 141.1L147.1 140.9L145.9 140.6L144.8 140.4L143.6 140.2L142.5 140.2L141.3 140.3L140.2 140.5L139 140.7L137.9 140.9L136.8 141.1L135.6 141.1L134.5 141L133.3 140.9L132.2 140.8L131 140.8L129.9 141L128.9 141.2L128.7 141.2L127.6 141.5L126.5 141.9L125.3 142.4L125 142.6L124.2 143L123 143.6L122.5 144L121.9 144.5L121 145.4L120.7 145.7L120 146.7L119.6 147.5L119.3 148.1L118.6 149.5L118.4 149.9L118 150.9L117.3 152.3L117.3 152.3L116.2 153.7L116.2 153.7L115 154.3L113.9 154.6L112.7 154.7L111.6 154.8L110.4 154.9L109.7 155.1L109.3 155.1L108.1 155.4L107 155.8L105.9 156.4L105.8 156.4L104.7 157.2L104.1 157.8L103.6 158.5L103.1 159.2L102.6 160.6L102.5 162L102.9 163.4L103.6 164.2L104.2 164.8ZM49.8 190.8L50.4 191.1L50.9 191.4L52.1 191.4L52.4 191.1L53.2 190.7L54 189.7L54.4 189.3L55 188.3L55.5 187.5L55.8 187L56.4 185.6L56.6 184.8L56.8 184.2L57.2 182.8L57.5 181.4L57.7 180L57.8 179.4L57.9 178.6L58 177.2L58.1 175.9L58.3 174.5L58.5 173.1L58.7 171.7L58.9 170.3L58.9 169.9L59.1 168.9L59.2 167.5L59.3 166.2L59.3 164.8L59.3 163.4L59.3 162L59.2 160.6L59.1 159.2L58.9 158L58.9 157.8L58.8 156.4L58.7 155.1L58.7 153.7L58.7 152.3L58.8 150.9L58.7 149.5L58.5 148.1L58.1 146.7L57.8 146.1L57.4 145.4L56.6 144.2L56.4 144L55.5 142.9L55.1 142.6L54.4 141.9L53.3 141.2L53.2 141.1L52.1 140.5L50.9 140.2L49.8 140M256.9 191.4L258.1 191.4L258.4 191.1L259.2 190.7L260 189.7L260.4 189.3L261 188.3L261.5 187.5L261.8 187L262.4 185.6L262.6 184.8L262.8 184.2L263.2 182.8L263.5 181.4L263.7 180L263.8 179.4L263.9 178.6L264 177.2L264.1 175.9L264.3 174.5L264.5 173.1L264.7 171.7L264.9 170.3L264.9 169.9L265.1 168.9L265.2 167.5L265.3 166.2L265.3 164.8L265.3 163.4L265.3 162L265.2 160.6L265.1 159.2L264.9 158L264.9 157.8L264.8 156.4L264.7 155.1L264.7 153.7L264.7 152.3L264.8 150.9L264.7 149.5L264.5 148.1L264.1 146.7L263.8 146.1L263.4 145.4L262.6 144.2L262.4 144L261.5 142.9L261.1 142.6L260.4 141.9L259.3 141.2L259.2 141.1L258.1 140.5L256.9 140.2L255.8 140L254.6 139.9L253.5 139.9L252.3 140L251.2 140.1L250.1 140.2L248.9 140.3L247.8 140.5L246.6 140.6L245.5 140.7L244.3 140.9L243.2 141L242.2 141.2L242 141.2L240.9 141.4L239.8 141.7L238.6 142L237.5 142.4L237.1 142.6L236.3 143L235.2 143.8L235 144L234 145L233.8 145.4L232.9 146.7L232.9 146.7L232.1 148.1L231.7 149L231.5 149.5L231 150.9L230.7 152.3L230.6 152.6L230.4 153.7L230.2 155.1L230 156.4L229.7 157.8L229.5 158.9L229.4 159.2L228.8 160.6L228.3 161.6L228.1 162L227.3 163.4L227.2 163.5L226.4 164.8L226 165.3L225.4 166.2L224.9 166.9L224.2 167.5L223.7 168L222.6 168.6L221.4 168.9L220.3 168.9L219.2 168.5L218 168L217.3 167.5L216.9 167.3L215.7 166.7L214.6 166.2L214.5 166.2L213.4 165.8L212.3 165.5L211.1 165.3L210 165.3L208.9 165.4L207.7 165.7L206.6 166.1L206.6 166.2L205.4 166.9L204.8 167.5L204.3 168.2L203.8 168.9L203.1 170.2L203.1 170.3L202.8 171.7L202.8 173.1L203.1 173.9L203.3 174.5L204.2 175.9L204.3 175.9L205.4 177L205.7 177.2L206.6 177.8L207.7 178.4L208.5 178.6L208.9 178.8L210 179L211.1 179.2L212.3 179.3L213.4 179.4L214.6 179.5L215.7 179.6L216.9 180L217 180L218 180.7L218.7 181.4L219.2 181.9L219.8 182.8L220.3 183.5L220.8 184.2L221.4 184.9L222 185.6L222.6 186.1L223.7 187L223.7 187L224.9 187.7L226 188.3L226.2 188.3L227.2 188.7L228.3 189.1L229.5 189.3L230.6 189.4L231.7 189.3L232.9 189L234 188.4L234.2 188.3L235.2 187.7L236.2 187L236.3 186.9L237.5 186.1L238.3 185.6L238.6 185.4L239.8 184.8L240.9 184.3L241.3 184.2L242 183.9L243.2 183.4L244.3 183.1L245.5 182.9L246.4 182.8L246.6 182.8L246.8 182.8L247.8 183L248.9 183.5L249.7 184.2L250.1 184.5L251.1 185.6L251.2 185.7L252.2 187L252.3 187.1L253.4 188.3L253.5 188.5L254.6 189.7L254.6 189.8L255.8 190.8L256.4 191.1ZM107 163.5L108.1 163.8L109.3 163.9L110.4 163.8L111.6 163.6L112.4 163.4L112.7 163.2L113.9 162.5L114.6 162L115 160.9L115.2 160.6L115 160.2L114.4 159.2L113.9 158.9L112.7 158.4L111.6 158.2L110.4 158.1L109.3 158.2L108.1 158.6L107 159.2L107 159.2L105.9 160.6L105.9 160.8L105.8 162L105.9 162.2L106.8 163.4ZM132.2 158L133.3 158.2L134.5 158.3L135.6 158.3L136.8 158.2L137.9 158L138.7 157.8L139 157.8L140.2 157.4L141.3 157.1L142.5 156.9L143.6 156.7L144.8 156.7L145.9 156.6L147.1 156.5L147.6 156.4L148.2 156.4L149.3 156.1L150.5 155.8L151.6 155.3L152.3 155.1L152.8 154.8L153.9 154.4L155.1 153.9L156 153.7L156.2 153.6L157.4 153.4L158.5 153.2L159.6 153.1L160.8 153L161.9 153L163.1 152.9L164.2 152.7L165.4 152.6L166.5 152.5L167.7 152.3L168 152.3L168.8 152.2L169.9 152.1L171.1 152L172.2 151.9L173.4 151.8L174.5 151.5L175.7 151.1L176.2 150.9L176.8 150.6L178 149.8L178.3 149.5L179.1 148.3L179.2 148.1L179.5 146.7L179.2 145.4L179.1 145.3L178.2 144L178 143.8L176.8 143L175.9 142.6L175.7 142.5L174.5 142.2L173.4 142L172.2 142L171.1 142L169.9 142.1L168.8 142.2L167.7 142.4L166.5 142.5L165.4 142.6L165.3 142.6L164.2 142.7L163.1 142.8L161.9 142.9L160.8 143.1L159.6 143.3L158.5 143.5L157.4 143.7L156.2 144L156.2 144L155.1 144.2L153.9 144.4L152.8 144.6L151.6 144.7L150.5 144.6L149.3 144.5L148.2 144.3L147.1 144.1L146.7 144L145.9 143.7L144.8 143.4L143.6 143.1L142.5 142.9L141.3 142.8L140.2 142.8L139 142.9L137.9 143L136.8 143L135.6 143.1L134.5 143.2L133.3 143.2L132.2 143.4L131 143.7L130.1 144L129.9 144.1L128.7 144.6L127.6 145.3L127.5 145.4L126.5 146.1L125.8 146.7L125.3 147.3L124.7 148.1L124.2 149.2L124 149.5L123.6 150.9L123.5 152.3L123.9 153.7L124.2 153.9L125.3 155L125.3 155.1L126.5 155.8L127.6 156.4L127.6 156.5L128.7 157L129.9 157.4L131 157.8L131.3 157.8ZM49.8 182.8L49.8 182.8L50.9 183.3L52.1 183.2L52.7 182.8L53.2 182.3L53.8 181.4L54.4 180.3L54.5 180L54.9 178.6L55.3 177.2L55.5 176.4L55.6 175.9L55.9 174.5L56.1 173.1L56.4 171.7L56.6 170.4L56.7 170.3L56.9 168.9L57 167.5L57.2 166.2L57.3 164.8L57.3 163.4L57.3 162L57.2 160.6L57.1 159.2L56.9 157.8L56.7 156.4L56.6 156.1L56.5 155.1L56.2 153.7L56.1 152.3L55.9 150.9L55.7 149.5L55.5 148.7L55.3 148.1L54.5 146.7L54.4 146.6L53.2 145.4L53.2 145.4L52.1 144.6L50.9 144L50.8 144L49.8 143.6M228.3 184.5L229.5 184.9L230.6 185.2L231.7 185.3L232.9 185.1L234 184.8L235.2 184.3L235.3 184.2L236.3 183.6L237.5 182.9L237.7 182.8L238.6 182.1L239.5 181.4L239.8 181.2L240.9 180L240.9 180L241.9 178.6L242 178.3L242.6 177.2L243.2 176.2L243.4 175.9L244.1 174.5L244.3 174L244.9 173.1L245.5 172.4L246.4 171.7L246.6 171.6L247.8 171.6L248.1 171.7L248.9 172L250.1 173L250.1 173.1L251 174.5L251.2 174.8L251.7 175.9L252.2 177.2L252.3 177.5L252.9 178.6L253.5 179.9L253.6 180L254.5 181.4L254.6 181.6L255.8 182.8L255.8 182.8L256.9 183.3L258.1 183.2L258.7 182.8L259.2 182.3L259.8 181.4L260.4 180.3L260.5 180L260.9 178.6L261.3 177.2L261.5 176.4L261.6 175.9L261.9 174.5L262.1 173.1L262.4 171.7L262.6 170.4L262.7 170.3L262.9 168.9L263 167.5L263.2 166.2L263.3 164.8L263.3 163.4L263.3 162L263.2 160.6L263.1 159.2L262.9 157.8L262.7 156.4L262.6 156.1L262.5 155.1L262.2 153.7L262.1 152.3L261.9 150.9L261.7 149.5L261.5 148.7L261.3 148.1L260.5 146.7L260.4 146.6L259.2 145.4L259.2 145.4L258.1 144.6L256.9 144L256.8 144L255.8 143.6L254.6 143.4L253.5 143.2L252.3 143.1L251.2 143.1L250.1 143.1L248.9 143.1L247.8 143.2L246.6 143.2L245.5 143.3L244.3 143.4L243.2 143.6L242 143.8L241.2 144L240.9 144L239.8 144.4L238.6 144.9L237.8 145.4L237.5 145.6L236.3 146.7L236.3 146.7L235.3 148.1L235.2 148.3L234.5 149.5L234 150.7L234 150.9L233.5 152.3L233.3 153.7L233.1 155.1L233 156.4L232.9 157.4L232.9 157.8L232.8 159.2L232.7 160.6L232.6 162L232.5 163.4L232.1 164.8L231.7 165.5L231.4 166.2L230.6 167.5L230.6 167.5L229.7 168.9L229.5 169.2L228.7 170.3L228.3 170.8L227.6 171.7L227.2 172.2L226.4 173.1L226 173.7L225.4 174.5L224.9 175.5L224.7 175.9L224.3 177.2L224.3 178.6L224.5 180L224.9 180.9L225.1 181.4L226 182.7L226.1 182.8L227.2 183.8L227.8 184.2ZM207.7 174.6L208.9 175.2L210 175.5L211.1 175.5L212.3 175.4L213.4 174.9L214.2 174.5L214.6 174L215.1 173.1L215 171.7L214.6 171L214.1 170.3L213.4 169.8L212.3 169.1L211.9 168.9L211.1 168.7L210 168.7L208.9 168.9L208.7 168.9L207.7 169.5L206.9 170.3L206.6 171L206.3 171.7L206.5 173.1L206.6 173.1L207.6 174.5ZM131 155.3L132.2 155.8L133.3 156L134.5 156.2L135.6 156.2L136.8 156L137.9 155.7L139 155.4L140 155.1L140.2 155L141.3 154.7L142.5 154.5L143.6 154.4L144.8 154.3L145.9 154.2L147.1 153.9L148 153.7L148.2 153.6L149.3 153L150.5 152.3L150.5 152.3L151.6 151L151.7 150.9L152.1 149.5L151.6 149L150.8 148.1L150.5 148L149.3 147.5L148.2 146.9L147.8 146.7L147.1 146.5L145.9 146L144.8 145.6L144.1 145.4L143.6 145.2L142.5 144.9L141.3 144.7L140.2 144.6L139 144.6L137.9 144.7L136.8 144.7L135.6 144.9L134.5 145L133.3 145.3L133.1 145.4L132.2 145.7L131 146.2L130.1 146.7L129.9 146.9L128.7 148L128.7 148.1L127.9 149.5L127.6 150.9L127.9 152.3L128.7 153.6L128.8 153.7L129.9 154.6L130.5 155.1ZM168.8 149.7L169.9 149.9L171.1 150L172.2 150L173.4 149.9L174.5 149.7L174.9 149.5L175.7 149.1L176.8 148.2L176.9 148.1L177.3 146.7L176.8 145.4L176.8 145.4L175.7 144.5L174.5 144L174.4 144L173.4 143.8L172.2 143.8L171.1 143.9L171 144L169.9 144.2L168.8 144.6L167.7 145.1L166.9 145.4L166.5 145.6L165.4 146.3L164.2 146.7L164.2 146.7L163.3 148.1L164.2 148.4L165.4 148.7L166.5 149.1L167.7 149.4L167.9 149.5ZM49.8 171.7L50.9 172.3L52.1 172L52.3 171.7L53.2 170.5L53.3 170.3L53.9 168.9L54.4 167.7L54.4 167.5L54.7 166.2L55 164.8L55.1 163.4L55.2 162L55.1 160.6L55 159.2L54.8 157.8L54.6 156.4L54.4 155.6L54.2 155.1L53.8 153.7L53.4 152.3L53.2 151.7L53 150.9L52.4 149.5L52.1 148.9L51.4 148.1L50.9 147.7L49.8 146.9M232.9 177.5L234 177.7L234.6 177.2L235.2 176.2L235.3 175.9L235.2 175.4L234 175.6L233.7 175.9L232.9 177.1L232.8 177.2ZM255.8 171.7L256.9 172.3L258.1 172L258.3 171.7L259.2 170.5L259.3 170.3L259.9 168.9L260.4 167.7L260.4 167.5L260.7 166.2L261 164.8L261.1 163.4L261.2 162L261.1 160.6L261 159.2L260.8 157.8L260.6 156.4L260.4 155.6L260.2 155.1L259.8 153.7L259.4 152.3L259.2 151.7L259 150.9L258.4 149.5L258.1 148.9L257.4 148.1L256.9 147.7L255.8 146.9L255.4 146.7L254.6 146.5L253.5 146.1L252.3 145.9L251.2 145.7L250.1 145.6L248.9 145.6L247.8 145.5L246.6 145.6L245.5 145.6L244.3 145.8L243.2 146L242 146.2L240.9 146.6L240.7 146.7L239.8 147.3L238.6 148.1L238.6 148.1L237.5 149.5L237.4 149.5L236.7 150.9L236.3 151.8L236.1 152.3L235.8 153.7L235.6 155.1L235.6 156.4L235.6 157.8L235.7 159.2L236.2 160.6L236.3 160.9L237 162L237.5 162.5L238.6 163.3L238.8 163.4L239.8 164L240.9 164.5L241.5 164.8L242 165L243.2 165.5L244.3 165.9L244.9 166.2L245.5 166.4L246.6 166.8L247.8 167.2L248.6 167.5L248.9 167.7L250.1 168.2L251.2 168.7L251.8 168.9L252.3 169.3L253.5 170L254 170.3L254.6 170.9L255.7 171.7ZM134.5 153.9L135.6 154L136.8 153.9L137.9 153.7L138.1 153.7L139 153.4L140.2 153.1L141.3 152.8L142.5 152.5L143.5 152.3L143.6 152.2L144.8 151.7L145.9 151L146 150.9L146.1 149.5L145.9 149.3L144.8 148.1L144.8 148.1L143.6 147.6L142.5 147.1L141.4 146.7L141.3 146.7L140.2 146.5L139 146.5L137.9 146.5L136.8 146.6L135.9 146.7L135.6 146.8L134.5 147.2L133.3 147.7L132.6 148.1L132.2 148.6L131.4 149.5L131.1 150.9L131.6 152.3L132.2 152.9L133.3 153.6L133.4 153.7ZM173.4 146.8L173.5 146.7L173.4 146.7L172.4 146.7ZM49.8 166.3L50 166.2L50.9 165.7L51.7 164.8L52.1 164L52.3 163.4L52.5 162L52.6 160.6L52.5 159.2L52.3 157.8L52.1 156.8L52 156.4L51.4 155.1L50.9 154.1L50.7 153.7L50 152.3L49.8 151.9M253.5 166.3L254.6 166.4L255.8 166.3L256 166.2L256.9 165.7L257.7 164.8L258.1 164L258.3 163.4L258.5 162L258.6 160.6L258.5 159.2L258.3 157.8L258.1 156.8L258 156.4L257.4 155.1L256.9 154.1L256.7 153.7L256 152.3L255.8 151.9L255.1 150.9L254.6 150.4L253.6 149.5L253.5 149.4L252.3 148.9L251.2 148.5L250.1 148.2L249.5 148.1L248.9 148L247.8 147.9L246.6 147.9L245.5 148L244.5 148.1L244.3 148.1L243.2 148.5L242 148.9L241.1 149.5L240.9 149.6L239.8 150.8L239.7 150.9L238.9 152.3L238.6 153.3L238.5 153.7L238.3 155.1L238.4 156.4L238.6 157.8L238.6 157.8L239.3 159.2L239.8 159.7L240.9 160.6L240.9 160.6L242 161.2L243.2 161.8L243.5 162L244.3 162.4L245.5 163.1L246 163.4L246.6 163.7L247.8 164.4L248.6 164.8L248.9 164.9L250.1 165.4L251.2 165.8L252.3 166.1L252.7 166.2ZM251.2 162.1L252.3 162.2L252.9 162L253.5 161.6L254.1 160.6L254.3 159.2L254.2 157.8L253.7 156.4L253.5 155.9L253 155.1L252.3 154L252.1 153.7L251.2 152.7L250.7 152.3L250.1 151.9L248.9 151.4L247.8 151L246.6 150.9L245.5 151L244.3 151.4L243.2 152.1L242.9 152.3L242.1 153.7L242 154L241.9 155.1L242 155.5L242.4 156.4L243.2 157.5L243.5 157.8L244.3 158.4L245.5 159.1L245.6 159.2L246.6 159.8L247.8 160.5L248 160.6L248.9 161.1L250.1 161.7L250.8 162Z" stroke="#ec3a3a" stroke-width="1.15"/>
<path d="M60.2 196.7L60.1 196L60 195.3L60.1 194.1L60.1 193.9L60.6 192.5L61.2 191.2L61.3 191.1L61.9 189.7L62.3 188.3L62.4 187.7L62.5 187L62.6 185.6L62.6 184.2L62.6 182.8L62.6 181.4L62.6 180L62.5 178.6L62.4 177.4L62.4 177.2L62.3 175.9L62.3 174.5L62.4 174L62.5 173.1L62.8 171.7L63.1 170.3L63.3 168.9L63.4 167.5L63.5 166.2L63.5 164.8L63.5 164.8L63.6 163.4L63.7 162L64 160.6L64.3 159.2L64.7 158.2L64.8 157.8L65.5 156.4L65.8 155.8L66.2 155.1L66.8 153.7L66.9 153.4L67.4 152.3L67.8 150.9L68.1 149.9L68.2 149.5L68.6 148.1L69 146.7L69.2 146L69.5 145.4L70.3 144L70.4 143.8L71.3 142.6L71.5 142.2L72.2 141.2L72.7 140.1L72.8 139.8L73.2 138.4M114.2 196.7L113.9 196.1L113.5 195.3L112.7 194.4L112.3 193.9L111.6 193.4L110.4 192.7L110.1 192.5L109.3 192.3L108.1 192.1L107 192.1L105.9 192.3L105.2 192.5L104.7 192.8L103.6 193.7L103.3 193.9L102.4 195.3L102.4 195.3L102 196.7M166.9 196.7L166.5 196.1L166.1 195.3L165.4 195L164.2 194.5L163.1 194.1L162.3 193.9L161.9 193.9L160.8 193.8L159.6 193.9L159.6 193.9L158.5 194.2L157.4 194.6L156.2 195.1L155.9 195.3L155.2 196.7M266.2 196.7L266.1 196L266 195.3L266.1 194.1L266.1 193.9L266.6 192.5L267.2 191.2M103 138.4L103 139.8L103.3 141.2L103.6 141.9L104 142.6L104.7 143.3L105.7 144L105.9 144L107 144.3L108.1 144.8L108.5 145.4L109 146.7L108.8 148.1L108.1 149.3L108.1 149.5L107 150.6L106.7 150.9L105.9 151.5L105.1 152.3L104.7 152.6L103.6 153.7L103.6 153.7L102.4 155L102.4 155.1L101.4 156.4L101.3 156.7L100.7 157.8L100.2 159.2L100.1 159.6L99.9 160.6L99.8 162L99.9 163.4L100.1 164L100.5 164.8L101.3 165.6L102.1 166.2L102.4 166.3L103.6 166.7L104.7 167L105.9 167.1L107 167.1L108.1 167L109.3 166.9L110.4 166.7L111.6 166.5L112.7 166.3L113.3 166.2L113.9 166L115 165.7L116.2 165.4L117.3 165.2L118.4 165L119.6 164.8L119.9 164.8L120.7 164.6L121.9 164.3L123 164L124.2 163.7L125.3 163.4L125.6 163.4L126.5 163.1L127.6 162.8L128.7 162.6L129.9 162.5L131 162.5L132.2 162.5L133.3 162.5L134.5 162.6L135.6 162.6L136.8 162.6L137.9 162.6L139 162.6L140.2 162.6L141.3 162.5L142.5 162.5L143.6 162.5L144.8 162.6L145.9 162.6L147.1 162.7L148.2 162.8L149.3 162.9L150.5 162.8L151.6 162.7L152.8 162.5L153.9 162.3L155.1 162L155.2 162L156.2 161.7L157.4 161.5L158.5 161.3L159.6 161.3L160.8 161.3L161.9 161.6L162.7 162L163.1 162.1L164.2 162.6L165.4 163.2L166.1 163.4L166.5 163.4L167.7 163.4L168 163.4L168.8 163.1L169.9 162.5L170.9 162L171.1 161.8L172.2 161.1L173.4 160.7L173.6 160.6L174.5 160.4L175.7 160.2L176.8 160L178 159.8L179.1 159.7L180.2 159.5L181.4 159.3L181.6 159.2L182.5 159L183.7 158.8L184.8 158.3L185.5 157.8L186 157L186.1 156.4L186.1 155.1L186.1 153.7L186 152.3L186 151.1L186 150.9L185.9 149.5L185.7 148.1L185.6 146.7L185.4 145.4L185.1 144L184.9 142.6L184.8 142.1L184.6 141.2L184.2 139.8L184 138.4M200.9 138.4L200.8 138.7L200.7 139.8L200.5 141.2L200.4 142.6L200.2 144L200 145.4L199.7 146.7L199.7 146.9L199.5 148.1L199.3 149.5L198.9 150.9L198.6 152.1L198.5 152.3L198.1 153.7L197.5 155.1L197.4 155.3L196.7 156.4L196.3 156.9L195.4 157.8L195.1 158.1L194 159.2L193.9 159.2L192.8 160.3L192.4 160.6L191.8 162L192.3 163.4L192.8 163.8L193.5 164.8L194 165.2L194.7 166.2L195.1 167.3L195.2 167.5L195.1 167.8L194.8 168.9L194 170.1L193.8 170.3L192.8 171.6L192.7 171.7L192.4 173.1L192.8 174.3L192.9 174.5L193.6 175.9L194 176.4L194.4 177.2L195.1 178.4L195.3 178.6L196.1 180L196.3 180.2L197 181.4L197.4 182.1L197.8 182.8L198.5 184.2L198.6 184.2L199.1 185.6L199.6 187L199.7 187.6L199.9 188.3L200.1 189.7L200.2 191.1L200.2 192.5L200.1 193.9L199.8 195.3L199.7 195.4L198.6 196L197.6 195.3L197.4 195.2L196.3 194.4L195.9 193.9L195.1 193.4L194.2 192.5L194 192.4L192.8 191.5L192.5 191.1L191.7 190.6L190.5 189.8L190.5 189.7L189.4 188.9L188.6 188.3L188.3 187.9L187.4 187L187.1 186.3L186.2 185.6L186 185.5L185.9 185.6L185.1 187L184.8 187.2L183.9 188.3L183.7 188.5L182.5 189.3L181.8 189.7L181.4 190L180.2 190.6L179.5 191.1L179.1 191.4L178 192.2L177.6 192.5L176.8 193.2L176.1 193.9L175.7 194.4L174.8 195.3L174.5 195.7L173.7 196.7M225.9 138.4L225.3 139.8L224.9 140.8L224.7 141.2L223.8 142.6L223.7 142.6L222.6 143.9L222.5 144L221.4 144.8L220.3 145.2L219.2 145.2L218 144.8L216.9 144L216.9 143.9L215.7 142.7L215.7 142.6L214.6 141.2L214.6 141.2L213.5 139.8L213.4 139.6L212.5 138.4M91 189.9L92.1 190.4L93.3 190.5L94.4 190.4L95.5 189.7L95.4 188.3L94.4 187.8L93.3 187.5L92.1 187.6L91 188L90.4 188.3L90.7 189.7Z" stroke="#111" stroke-width="1.6"/>
</g>
<rect x="198.6" y="164.8" width="22.9" height="13.9" fill="none" stroke="#111" stroke-width="1.3"/>
<rect x="56.5" y="141.4" width="12.6" height="11.6" fill="#fff"/>
<text x="62.8" y="149.3" font-size="6.6" text-anchor="middle" font-weight="normal" fill="#231f20" >(b)</text>
<rect x="55.5" y="140.5" width="206" height="52" fill="none" stroke="#231f20" stroke-width="1.0"/>
<line x1="53.3" y1="140.5" x2="55.5" y2="140.5" stroke="#231f20" stroke-width="0.9"/>
<text x="53.1" y="143.6" font-size="8.8" text-anchor="end" font-weight="normal" fill="#231f20" >45N</text>
<line x1="53.3" y1="150.9" x2="55.5" y2="150.9" stroke="#231f20" stroke-width="0.9"/>
<text x="53.1" y="154" font-size="8.8" text-anchor="end" font-weight="normal" fill="#231f20" >30N</text>
<line x1="53.3" y1="161.3" x2="55.5" y2="161.3" stroke="#231f20" stroke-width="0.9"/>
<text x="53.1" y="164.4" font-size="8.8" text-anchor="end" font-weight="normal" fill="#231f20" >15N</text>
<line x1="53.3" y1="171.7" x2="55.5" y2="171.7" stroke="#231f20" stroke-width="0.9"/>
<text x="53.1" y="174.8" font-size="8.8" text-anchor="end" font-weight="normal" fill="#231f20" >0</text>
<line x1="53.3" y1="182.1" x2="55.5" y2="182.1" stroke="#231f20" stroke-width="0.9"/>
<text x="53.1" y="185.2" font-size="8.8" text-anchor="end" font-weight="normal" fill="#231f20" >15S</text>
<line x1="53.3" y1="192.5" x2="55.5" y2="192.5" stroke="#231f20" stroke-width="0.9"/>
<text x="53.1" y="195.6" font-size="8.8" text-anchor="end" font-weight="normal" fill="#231f20" >30S</text>
<line x1="54.2" y1="144" x2="55.5" y2="144" stroke="#231f20" stroke-width="0.7"/>
<line x1="54.2" y1="147.4" x2="55.5" y2="147.4" stroke="#231f20" stroke-width="0.7"/>
<line x1="54.2" y1="154.4" x2="55.5" y2="154.4" stroke="#231f20" stroke-width="0.7"/>
<line x1="54.2" y1="157.8" x2="55.5" y2="157.8" stroke="#231f20" stroke-width="0.7"/>
<line x1="54.2" y1="164.8" x2="55.5" y2="164.8" stroke="#231f20" stroke-width="0.7"/>
<line x1="54.2" y1="168.2" x2="55.5" y2="168.2" stroke="#231f20" stroke-width="0.7"/>
<line x1="54.2" y1="175.2" x2="55.5" y2="175.2" stroke="#231f20" stroke-width="0.7"/>
<line x1="54.2" y1="178.6" x2="55.5" y2="178.6" stroke="#231f20" stroke-width="0.7"/>
<line x1="54.2" y1="185.6" x2="55.5" y2="185.6" stroke="#231f20" stroke-width="0.7"/>
<line x1="54.2" y1="189" x2="55.5" y2="189" stroke="#231f20" stroke-width="0.7"/>
<clipPath id="clipme"><rect x="288.5" y="140.5" width="206" height="52"/></clipPath>
<g clip-path="url(#clipme)">
<g transform="translate(288.5,140.5) scale(0.57222,0.69333)"><use href="#landg" fill="#c6c6c6"/><use href="#waterg" fill="#fff"/></g>
</g>
<g clip-path="url(#clipme)" opacity="1">
<path d="M389.2 195.6L390.3 196.7L390.4 196.7L391.5 196.7L392.6 196.7L393.8 196.7L394.9 196.7L396.1 196.7L397.2 196.7L398.4 196.7L398.4 196.7L399.5 195.6L399.7 195.3L400.7 193.9L400.7 193.9L401.5 192.5L401.8 191.8L402.1 191.1L402.6 189.7L402.9 188.7L403 188.3L403.4 187L403.7 185.6L403.9 184.2L404.1 182.9L404.1 182.8L404.2 181.4L404.3 180L404.3 178.6L404.3 177.2L404.2 175.9L404.1 174.5L404.1 174.4L403.9 173.1L403.7 171.7L403.5 170.3L403.5 168.9L403.6 167.5L404.1 166.3L404.2 166.2L405.1 164.8L405.2 164.6L406.4 163.4L406.4 163.4L407.5 162.2L407.8 162L408.7 161.1L409.2 160.6L409.8 159.9L410.4 159.2L411 158.5L411.5 157.8L412.1 156.8L412.3 156.4L413 155.1L413.2 154.1L413.4 153.7L413.6 152.3L413.6 150.9L413.4 149.5L413.2 149.2L412.9 148.1L412.3 146.7L412.1 146.4L411.4 145.4L411 144.8L410.2 144L409.8 143.5L408.8 142.6L408.7 142.5L407.5 141.6L406.9 141.2L406.4 140.8L405.2 140.2L404.6 139.8L404.1 139.5L402.9 139L401.8 138.5L401.5 138.4L400.7 138.4L399.5 138.4L398.4 138.4L397.2 138.4L396.1 138.4L394.9 138.4L393.8 138.4L392.6 138.4L391.5 138.4L390.4 138.4L389.2 138.4L388.1 138.4L386.9 138.4L385.8 138.4L384.6 138.4L383.5 138.4L382.3 138.4L381.2 138.4L380.1 138.4L378.9 138.4L377.8 138.4L376.6 138.4L375.5 138.4L374.3 138.4L373.2 138.4L372.4 138.4L372 138.6L370.9 139L369.8 139.6L369.3 139.8L368.6 140.2L367.5 140.9L367 141.2L366.3 141.6L365.2 142.5L365.1 142.6L364 143.6L363.6 144L362.9 144.8L362.5 145.4L361.7 146.5L361.6 146.7L360.9 148.1L360.6 149.2L360.5 149.5L360.3 150.9L360.3 152.3L360.5 153.7L360.6 154L360.9 155.1L361.6 156.4L361.7 156.7L362.5 157.8L362.9 158.4L363.6 159.2L364 159.6L365.1 160.6L365.2 160.7L366.3 161.6L367 162L367.5 162.3L368.6 163L369.3 163.4L369.8 163.6L370.9 164.2L372 164.6L372.4 164.8L373.2 165.1L374.3 165.5L375.5 165.9L376.6 166.2L376.6 166.2L377.8 166.6L378.9 166.9L380.1 167.3L380.9 167.5L381.2 167.7L382.3 168.3L383.4 168.9L383.5 169L384.4 170.3L384.6 171.2L384.7 171.7L384.7 173.1L384.6 174.1L384.6 174.5L384.5 175.9L384.4 177.2L384.4 178.6L384.4 180L384.5 181.4L384.6 182.8L384.6 182.9L384.8 184.2L385 185.6L385.3 187L385.7 188.3L385.8 188.7L386.1 189.7L386.6 191.1L386.9 191.8L387.3 192.5L388 193.9L388.1 193.9L389 195.3Z" fill="#cfe1ec" fill-rule="evenodd"/>
<path d="M393.8 188.8L394.9 188.8L396 188.3L396.1 188.3L397.2 187.1L397.4 187L398.1 185.6L398.4 185.1L398.7 184.2L399.1 182.8L399.3 181.4L399.5 180L399.5 179L399.5 178.6L399.5 178.2L399.5 177.2L399.3 175.9L399.1 174.5L398.7 173.1L398.4 172L398.3 171.7L397.8 170.3L397.6 168.9L397.9 167.5L398.4 166.8L398.7 166.2L399.5 165.2L399.8 164.8L400.7 163.9L401.1 163.4L401.8 162.6L402.4 162L402.9 161.4L403.7 160.6L404.1 160.2L405 159.2L405.2 158.9L406.1 157.8L406.4 157.4L407 156.4L407.5 155.4L407.7 155.1L408.2 153.7L408.4 152.3L408.4 150.9L408.1 149.5L407.6 148.1L407.5 148L406.7 146.7L406.4 146.3L405.6 145.4L405.2 145L404.1 144L404.1 144L402.9 143.2L402 142.6L401.8 142.5L400.7 141.9L399.5 141.3L399.2 141.2L398.4 140.9L397.2 140.5L396.1 140.2L394.9 139.9L394.7 139.8L393.8 139.6L392.6 139.4L391.5 139.3L390.4 139.1L389.2 139L388.1 139L386.9 139L385.8 139L384.6 139.1L383.5 139.2L382.3 139.3L381.2 139.5L380.1 139.7L379.4 139.8L378.9 139.9L377.8 140.2L376.6 140.6L375.5 141L374.9 141.2L374.3 141.4L373.2 141.9L372 142.5L372 142.6L370.9 143.3L369.9 144L369.8 144.1L368.6 145.1L368.3 145.4L367.5 146.4L367.2 146.7L366.3 148.1L366.3 148.2L365.8 149.5L365.6 150.9L365.6 152.3L365.8 153.7L366.3 155L366.3 155.1L367.2 156.4L367.5 156.8L368.3 157.8L368.6 158.1L369.8 159.1L369.9 159.2L370.9 159.9L372 160.6L372 160.7L373.2 161.3L374.3 161.8L374.8 162L375.5 162.3L376.6 162.7L377.8 163.1L378.7 163.4L378.9 163.4L380.1 163.8L381.2 164.1L382.3 164.5L383.2 164.8L383.5 164.9L384.6 165.3L385.8 165.8L386.6 166.2L386.9 166.3L388.1 167L388.9 167.5L389.2 167.9L390.1 168.9L390.4 169.8L390.5 170.3L390.4 171.2L390.3 171.7L390 173.1L389.6 174.5L389.4 175.9L389.2 177.2L389.2 178.2L389.2 178.6L389.2 179L389.2 180L389.4 181.4L389.7 182.8L390 184.2L390.4 185.1L390.6 185.6L391.4 187L391.5 187.1L392.6 188.3L392.8 188.3Z" fill="#96c2da" fill-rule="evenodd"/>
<path d="M389.2 163.5L390.4 163.9L391.5 164.1L392.6 164.2L393.8 164.1L394.9 163.7L395.5 163.4L396.1 163.1L397.2 162.3L397.5 162L398.4 161.2L399 160.6L399.5 160L400.2 159.2L400.7 158.6L401.2 157.8L401.8 156.8L402 156.4L402.6 155.1L402.9 153.9L403 153.7L403.2 152.3L403 150.9L402.9 150.6L402.6 149.5L401.8 148.1L401.8 148.1L400.7 146.8L400.6 146.7L399.5 145.9L398.8 145.4L398.4 145.1L397.2 144.5L396.2 144L396.1 143.9L394.9 143.5L393.8 143.2L392.6 142.9L391.5 142.7L390.8 142.6L390.4 142.5L389.2 142.4L388.1 142.4L386.9 142.4L385.8 142.4L384.6 142.5L383.8 142.6L383.5 142.6L382.3 142.8L381.2 143.1L380.1 143.4L378.9 143.8L378.3 144L377.8 144.2L376.6 144.8L375.5 145.4L375.5 145.4L374.3 146.3L373.7 146.7L373.2 147.4L372.5 148.1L372 149L371.8 149.5L371.4 150.9L371.4 152.3L371.8 153.7L372 154.2L372.5 155.1L373.2 155.8L373.7 156.4L374.3 156.9L375.5 157.8L375.5 157.8L376.6 158.5L377.8 159.1L378 159.2L378.9 159.6L380.1 160.1L381.2 160.5L381.3 160.6L382.3 160.9L383.5 161.4L384.6 161.8L385 162L385.8 162.3L386.9 162.7L388.1 163.1L388.8 163.4Z" fill="#5096c0" fill-rule="evenodd"/>
<path d="M288.5 185.7L289.6 185.9L290.8 185.6L290.9 185.6L291.9 185.1L293 184.2L293.1 184.1L294.1 182.8L294.2 182.6L294.9 181.4L295.4 180.3L295.5 180L296 178.6L296.4 177.2L296.5 176.6L296.7 175.9L297 174.5L297.1 173.1L297.2 171.7L297.3 170.3L297.3 168.9L297.2 167.5L297.1 166.2L297 164.8L296.7 163.4L296.5 162.6L296.4 162L296 160.6L295.5 159.2L295.4 158.9L294.9 157.8L294.2 156.6L294.1 156.4L293.1 155.1L293 155.1L291.9 154.1L291.1 153.7L290.8 153.5L289.6 153.2L288.5 153.3L287.4 153.6L287.3 153.7L286.2 154.2L285.1 155.1L285.1 155.1L283.9 156.3L283.8 156.4L282.8 157.8L282.8 157.9L282.8 159.2L282.8 160.6L282.8 162L282.8 163.4L282.8 164.8L282.8 166.2L282.8 167.5L282.8 168.9L282.8 170.3L282.8 171.7L282.8 173.1L282.8 174.5L282.8 175.9L282.8 177.2L282.8 178.6L282.8 179.8L282.9 180L283.7 181.4L283.9 181.7L284.7 182.8L285.1 183.2L286 184.2L286.2 184.4L287.4 185.2L288.2 185.6ZM494.5 185.7L495.6 185.9L496.8 185.6L496.9 185.6L497.9 185.1L499 184.2L499.1 184.1L500.1 182.8L500.2 182.6L500.2 181.4L500.2 180L500.2 178.6L500.2 177.2L500.2 175.9L500.2 174.5L500.2 173.1L500.2 171.7L500.2 170.3L500.2 168.9L500.2 167.5L500.2 166.2L500.2 164.8L500.2 163.4L500.2 162L500.2 160.6L500.2 159.2L500.2 157.8L500.2 156.6L500.1 156.4L499.1 155.1L499 155.1L497.9 154.1L497.1 153.7L496.8 153.5L495.6 153.2L494.5 153.3L493.4 153.6L493.3 153.7L492.2 154.2L491.1 155.1L491.1 155.1L489.9 156.3L489.8 156.4L488.8 157.8L488.8 157.9L488 159.2L487.6 160.2L487.4 160.6L487 162L486.6 163.4L486.5 164.3L486.4 164.8L486.2 166.2L486.1 167.5L486.1 168.9L486.1 170.3L486.3 171.7L486.5 172.9L486.5 173.1L486.8 174.5L487.1 175.9L487.6 177.2L487.7 177.2L488.2 178.6L488.8 179.8L488.9 180L489.7 181.4L489.9 181.7L490.7 182.8L491.1 183.2L492 184.2L492.2 184.4L493.4 185.2L494.2 185.6ZM309.1 155.5L310.2 155.9L311.4 156.1L312.5 156.2L313.7 156.1L314.8 155.9L316 155.5L316.9 155.1L317.1 155L318.3 154.2L318.8 153.7L319.4 153L319.9 152.3L320.5 150.9L320.6 150.9L320.9 149.5L320.9 148.1L320.6 146.7L320.5 146.7L319.9 145.4L319.4 144.6L318.8 144L318.3 143.5L317.1 142.7L316.9 142.6L316 142.1L314.8 141.7L313.7 141.5L312.5 141.5L311.4 141.5L310.2 141.7L309.1 142.1L308.2 142.6L308 142.7L306.8 143.5L306.2 144L305.7 144.6L305.1 145.4L304.5 146.7L304.5 146.7L304.2 148.1L304.2 149.5L304.5 150.9L304.5 151L305.1 152.3L305.7 153L306.2 153.7L306.8 154.2L308 155L308.1 155.1Z" fill="#f8d6c4" fill-rule="evenodd"/>
<path d="M286.2 178.8L287.4 179.5L288.5 179.7L289.6 179.7L290.8 179.1L291.3 178.6L291.9 178L292.4 177.2L293.1 175.9L293.1 175.9L293.5 174.5L293.9 173.1L294.1 171.7L294.1 170.3L294.2 168.9L294.1 167.5L293.9 166.2L293.6 164.8L293.2 163.4L293.1 163.2L292.6 162L291.9 161L291.7 160.6L290.8 159.7L290.2 159.2L289.6 158.9L288.5 158.6L287.4 158.6L286.2 158.9L285.8 159.2L285.1 159.7L284.3 160.6L283.9 161L283.4 162L282.8 163.4L282.8 163.4L282.8 164.8L282.8 166.2L282.8 167.5L282.8 168.9L282.8 170.3L282.8 171.7L282.8 173.1L282.8 173.7L283.1 174.5L283.7 175.9L283.9 176.2L284.7 177.2L285.1 177.8L286.1 178.6ZM492.2 178.8L493.4 179.5L494.5 179.7L495.6 179.7L496.8 179.1L497.3 178.6L497.9 178L498.4 177.2L499.1 175.9L499.1 175.9L499.5 174.5L499.9 173.1L500.1 171.7L500.1 170.3L500.2 168.9L500.1 167.5L499.9 166.2L499.6 164.8L499.2 163.4L499.1 163.2L498.6 162L497.9 161L497.7 160.6L496.8 159.7L496.2 159.2L495.6 158.9L494.5 158.6L493.4 158.6L492.2 158.9L491.8 159.2L491.1 159.7L490.3 160.6L489.9 161L489.4 162L488.8 163.4L488.8 163.4L488.3 164.8L488.1 166.2L488 167.5L487.9 168.9L488 170.3L488.2 171.7L488.6 173.1L488.8 173.7L489.1 174.5L489.7 175.9L489.9 176.2L490.7 177.2L491.1 177.8L492.1 178.6ZM310.2 152.3L311.4 152.7L312.5 152.9L313.7 152.7L314.8 152.3L314.9 152.3L316 151.5L316.5 150.9L317.1 149.5L317.1 148.1L316.5 146.7L316 146.1L314.9 145.4L314.8 145.3L313.7 144.9L312.5 144.8L311.4 144.9L310.2 145.3L310.1 145.4L309.1 146.1L308.6 146.7L308 148.1L308 149.5L308.6 150.9L309.1 151.5L310.1 152.3Z" fill="#ec9e82" fill-rule="evenodd"/>
<path d="M287.4 175.9L287.6 175.9L288.5 175.8L289.6 175.2L290.2 174.5L290.8 173.6L291 173.1L291.4 171.7L291.6 170.3L291.7 168.9L291.5 167.5L291.3 166.2L290.8 164.8L290.8 164.8L290 163.4L289.6 163L288.5 162L288.3 162L287.4 161.7L286.2 161.9L286.1 162L285.1 162.8L284.6 163.4L283.9 164.7L283.9 164.8L283.5 166.2L283.3 167.5L283.3 168.9L283.4 170.3L283.7 171.7L283.9 172.3L284.3 173.1L285.1 174.4L285.1 174.5L286.2 175.4L287.3 175.9ZM493.4 175.9L493.6 175.9L494.5 175.8L495.6 175.2L496.2 174.5L496.8 173.6L497 173.1L497.4 171.7L497.6 170.3L497.7 168.9L497.5 167.5L497.3 166.2L496.8 164.8L496.8 164.8L496 163.4L495.6 163L494.5 162L494.3 162L493.4 161.7L492.2 161.9L492.1 162L491.1 162.8L490.6 163.4L489.9 164.7L489.9 164.8L489.5 166.2L489.3 167.5L489.3 168.9L489.4 170.3L489.7 171.7L489.9 172.3L490.3 173.1L491.1 174.4L491.1 174.5L492.2 175.4L493.3 175.9Z" fill="#cf6155" fill-rule="evenodd"/>
<path d="M286.2 172.3L287.4 172.6L288.5 171.8L288.6 171.7L289.1 170.3L289.3 168.9L289.2 167.5L288.7 166.2L288.5 165.8L287.4 164.8L287.4 164.7L286.7 164.8L286.2 164.8L285.1 166.2L285.1 166.3L284.8 167.5L284.7 168.9L284.9 170.3L285.1 170.7L285.7 171.7ZM492.2 172.3L493.4 172.6L494.5 171.8L494.6 171.7L495.1 170.3L495.3 168.9L495.2 167.5L494.7 166.2L494.5 165.8L493.4 164.8L493.4 164.7L492.7 164.8L492.2 164.8L491.1 166.2L491.1 166.3L490.8 167.5L490.7 168.9L490.9 170.3L491.1 170.7L491.7 171.7Z" fill="#a92c3a" fill-rule="evenodd"/>
</g>
<g clip-path="url(#clipme)" fill="none" stroke-linejoin="round">
<path d="M391.5 162.3L391 162L390.4 161.6L389.2 160.8L389 160.6L388.1 160L386.9 159.3L386.8 159.2L385.8 158.5L384.6 157.8L384.6 157.8L383.5 156.9L382.8 156.4L382.3 155.9L381.3 155.1L381.2 154.8L380.3 153.7L380.1 152.3L380.8 150.9L381.2 150.6L382.3 149.5L382.3 149.5L383.5 148.9L384.6 148.2L384.9 148.1L385.8 147.8L386.9 147.6L388.1 147.4L389.2 147.3L390.4 147.3L391.5 147.5L392.6 147.8L393.6 148.1L393.8 148.2L394.9 149L395.6 149.5L396.1 150L397 150.9L397.2 151.1L398.3 152.3L398.4 152.4L399.3 153.7L399.5 154.1L399.8 155.1L399.6 156.4L399.5 156.6L398.8 157.8L398.4 158.3L397.5 159.2L397.2 159.5L396.2 160.6L396.1 160.7L394.9 161.8L394.6 162L393.8 162.5L392.6 162.7ZM392.6 166.2L392.5 166.2L391.5 165.7L390.4 164.8L390.3 164.8L389.2 163.8L388.6 163.4L388.1 162.9L386.9 162.2L386.5 162L385.8 161.6L384.6 161L383.8 160.6L383.5 160.5L382.3 159.9L381.2 159.4L380.9 159.2L380.1 158.8L378.9 158.3L377.8 157.9L377.3 157.8L376.6 157.7L375.5 157.6L374.6 157.8L374.3 157.9L373.2 158.4L372 159.1L371.8 159.2L370.9 159.8L369.8 160.5L369.4 160.6L368.6 160.8L367.8 160.6L367.5 160.5L366.6 159.2L366.3 158.5L366.2 157.8L366 156.4L366 155.1L366.1 153.7L366.3 152.9L366.5 152.3L367.2 150.9L367.5 150.5L368.5 149.5L368.6 149.4L369.8 148.8L370.9 148.5L372 148.4L373.2 148.3L374.3 148.2L374.7 148.1L375.5 148L376.6 147.7L377.8 147.4L378.9 146.9L379.1 146.7L380.1 146.4L381.2 145.9L382.3 145.4L382.5 145.4L383.5 145.1L384.6 144.8L385.8 144.5L386.9 144.3L388.1 144.2L389.2 144.2L390.4 144.3L391.5 144.4L392.6 144.7L393.8 145L394.7 145.4L394.9 145.5L396.1 146.3L396.6 146.7L397.2 147.3L397.9 148.1L398.4 148.7L399 149.5L399.5 150.1L400.3 150.9L400.7 151.3L401.6 152.3L401.8 152.7L402.4 153.7L402.7 155.1L402.5 156.4L401.9 157.8L401.8 157.9L400.9 159.2L400.7 159.5L399.8 160.6L399.5 160.9L398.6 162L398.4 162.2L397.3 163.4L397.2 163.5L396.1 164.7L396.1 164.8L394.9 165.7L393.9 166.2L393.8 166.2L392.6 166.2M396.1 176.1L395.8 175.9L396.1 175L396.9 175.9ZM393.8 169.4L392.7 168.9L392.6 168.9L391.5 168.3L390.6 167.5L390.4 167.3L389.2 166.3L389.1 166.2L388.1 165.2L387.5 164.8L386.9 164.4L385.8 163.7L385.1 163.4L384.6 163.1L383.5 162.6L382.3 162.1L382 162L381.2 161.7L380.1 161.2L378.9 160.9L377.8 160.6L377.7 160.6L376.6 160.5L375.5 160.5L375.2 160.6L374.3 160.9L373.2 161.4L372.4 162L372 162.3L370.9 163.3L370.8 163.4L369.8 164.3L369.1 164.8L368.6 165.2L367.5 165.5L366.3 164.9L366.2 164.8L365.4 163.4L365.2 163L364.8 162L364.5 160.6L364.2 159.2L364 158L364 157.8L364 156.4L364 155.1L364 154.5L364.1 153.7L364.4 152.3L364.8 150.9L365.2 149.8L365.3 149.5L366.2 148.1L366.3 148L367.5 146.9L367.8 146.7L368.6 146.3L369.8 146L370.9 145.8L372 145.8L373.2 145.7L374.3 145.6L375.5 145.4L375.6 145.4L376.6 145.1L377.8 144.8L378.9 144.4L379.9 144L380.1 143.9L381.2 143.5L382.3 143.2L383.5 142.9L384.6 142.6L384.8 142.6L385.8 142.4L386.9 142.3L388.1 142.2L389.2 142.2L390.4 142.3L391.5 142.4L392.6 142.6L392.6 142.6L393.8 142.9L394.9 143.3L396.1 143.8L396.4 144L397.2 144.5L398.1 145.4L398.4 145.6L399.2 146.7L399.5 147.1L400.3 148.1L400.7 148.5L401.6 149.5L401.8 149.7L402.9 150.7L403.1 150.9L404.1 152.1L404.2 152.3L404.8 153.7L404.9 155.1L404.7 156.4L404.2 157.8L404.1 158L403.4 159.2L402.9 159.9L402.4 160.6L401.8 161.5L401.4 162L400.7 163L400.3 163.4L399.5 164.5L399.3 164.8L398.4 165.9L398.2 166.2L397.2 167.4L397 167.5L396.1 168.6L395.4 168.9L394.9 169.3L393.8 169.4M393.8 180.5L393.2 180L392.6 179.5L392.1 178.6L391.5 177.2L391.5 177L391.3 175.9L391.3 174.5L391.4 173.1L391.2 171.7L390.5 170.3L390.4 170.2L389.4 168.9L389.2 168.7L388.1 167.5L388.1 167.5L386.9 166.5L386.5 166.2L385.8 165.7L384.6 165L384.1 164.8L383.5 164.5L382.3 164L381.2 163.6L380.5 163.4L380.1 163.2L378.9 162.9L377.8 162.7L376.6 162.7L375.5 162.9L374.3 163.4L374.3 163.4L373.2 164.2L372.6 164.8L372 165.3L371.4 166.2L370.9 166.8L370.4 167.5L369.8 168.6L369.5 168.9L368.6 170.3L368.6 170.3L367.5 171.3L366.3 171.2L365.6 170.3L365.2 169.7L364.9 168.9L364.3 167.5L364 166.8L363.9 166.2L363.5 164.8L363.1 163.4L362.9 162.4L362.8 162L362.6 160.6L362.5 159.2L362.4 157.8L362.3 156.4L362.4 155.1L362.5 153.7L362.6 152.3L362.9 151.1L362.9 150.9L363.3 149.5L363.9 148.1L364 147.7L364.6 146.7L365.2 145.9L365.7 145.4L366.3 144.8L367.5 144.1L367.8 144L368.6 143.7L369.8 143.5L370.9 143.5L372 143.5L373.2 143.5L374.3 143.4L375.5 143.3L376.6 143L377.8 142.7L378.1 142.6L378.9 142.3L380.1 142L381.2 141.6L382.3 141.3L382.9 141.2L383.5 141.1L384.6 140.9L385.8 140.7L386.9 140.6L388.1 140.5L389.2 140.5L390.4 140.6L391.5 140.7L392.6 140.8L393.8 141.1L394.3 141.2L394.9 141.4L396.1 141.8L397.2 142.3L397.7 142.6L398.4 143L399.5 144L399.5 144L400.6 145.4L400.7 145.5L401.6 146.7L401.8 146.9L402.9 148L403.1 148.1L404.1 148.9L404.9 149.5L405.2 149.8L406.2 150.9L406.4 151.3L406.9 152.3L407.3 153.7L407.3 155.1L407.1 156.4L406.6 157.8L406.4 158.3L405.9 159.2L405.2 160.3L405 160.6L404.1 162L404.1 162L403.2 163.4L402.9 163.8L402.3 164.8L401.8 165.6L401.5 166.2L400.8 167.5L400.7 168.1L400.4 168.9L400.5 170.3L400.7 170.8L400.9 171.7L401.5 173.1L401.8 174.1L401.9 174.5L402 175.9L401.8 176.6L401.6 177.2L400.7 178.6L400.7 178.7L399.5 179.7L398.9 180L398.4 180.4L397.2 180.8L396.1 181.1L394.9 181ZM417.8 166.2L417.8 166.2L417.8 166.1L418.9 164.8L419 164.7L419 164.8L419.9 166.2L419 167.1L417.8 166.2M394.9 186.2L394 185.6L393.8 185.4L392.6 184.3L392.5 184.2L391.5 182.9L391.4 182.8L390.6 181.4L390.4 181L389.9 180L389.4 178.6L389.2 177.9L389.1 177.2L388.9 175.9L388.9 174.5L388.8 173.1L388.6 171.7L388.1 170.5L388 170.3L387 168.9L386.9 168.9L385.8 167.8L385.4 167.5L384.6 167.1L383.5 166.4L382.9 166.2L382.3 165.9L381.2 165.5L380.1 165.1L378.9 164.9L377.9 164.8L377.8 164.8L377.6 164.8L376.6 164.9L375.5 165.2L374.3 165.9L374.1 166.2L373.2 167.2L372.9 167.5L372.1 168.9L372 169.1L371.5 170.3L371 171.7L370.9 172L370.5 173.1L369.9 174.5L369.8 174.9L369.2 175.9L368.6 176.7L367.9 177.2L367.5 177.5L366.3 177.5L366 177.2L365.2 176.6L364.7 175.9L364 174.8L363.9 174.5L363.4 173.1L363 171.7L362.9 171.2L362.7 170.3L362.5 168.9L362.2 167.5L361.9 166.2L361.7 165.5L361.6 164.8L361.3 163.4L361.1 162L360.9 160.6L360.8 159.2L360.8 157.8L360.7 156.4L360.8 155.1L360.9 153.7L361 152.3L361.2 150.9L361.5 149.5L361.7 148.6L361.9 148.1L362.4 146.7L362.9 145.6L363 145.4L363.9 144L364 143.7L365 142.6L365.2 142.4L366.3 141.6L367.3 141.2L367.5 141.1L368.6 140.9L369.8 141L370.9 141.1L371.8 141.2L372 141.2L373.2 141.3L374.3 141.3L375.4 141.2L375.5 141.2L376.6 141L377.8 140.7L378.9 140.4L380.1 140.1L381.2 139.8L381.3 139.8L382.3 139.6L383.5 139.3L384.6 139.2L385.8 139L386.9 138.9L388.1 138.9L389.2 138.9L390.4 138.9L391.5 139L392.6 139.1L393.8 139.3L394.9 139.6L395.6 139.8L396.1 139.9L397.2 140.3L398.4 140.8L399.1 141.2L399.5 141.5L400.7 142.3L401 142.6L401.8 143.4L402.4 144L402.9 144.6L403.7 145.4L404.1 145.7L405.2 146.5L405.6 146.7L406.4 147.3L407.4 148.1L407.5 148.3L408.7 149.4L408.8 149.5L409.8 150.9L409.8 151L410.6 152.3L411 153.5L411.1 153.7L411.3 155.1L411.2 156.4L411 156.9L410.6 157.8L409.8 159L409.7 159.2L408.7 160.6L408.7 160.6L407.6 162L407.5 162.1L406.6 163.4L406.4 163.7L405.7 164.8L405.2 165.6L405 166.2L404.5 167.5L404.3 168.9L404.4 170.3L404.7 171.7L405.1 173.1L405.2 174.1L405.3 174.5L405.4 175.9L405.2 176.9L405.2 177.2L404.7 178.6L404.1 179.5L403.7 180L402.9 180.8L402.3 181.4L401.8 181.8L400.7 182.8L400.7 182.8L399.5 184.1L399.4 184.2L398.4 185.5L398.3 185.6L397.2 186.5L396.1 186.6ZM419 178.8L418.4 178.6L417.8 178.5L416.7 177.4L416.6 177.2L415.9 175.9L415.5 174.8L415.4 174.5L415.1 173.1L414.7 171.7L414.4 170.7L414.3 170.3L413.7 168.9L413.2 167.6L413.2 167.5L412.9 166.2L412.8 164.8L413 163.4L413.2 162.7L413.5 162L414.1 160.6L414.4 159.9L414.7 159.2L415.4 157.8L415.5 157.7L416.5 156.4L416.7 156.3L417.8 155.3L418.3 155.1L419 154.7L420.1 154.7L420.3 155.1L421.2 156.4L421.3 156.5L421.8 157.8L422.4 159L422.5 159.2L423 160.6L423.5 161.8L423.6 162L424 163.4L424.3 164.8L424.5 166.2L424.5 167.5L424.4 168.9L424.2 170.3L424 171.7L423.8 173.1L423.5 174.2L423.5 174.5L422.9 175.9L422.4 176.8L422.1 177.2L421.3 178L420.1 178.6L420.1 178.6ZM372.1 138.4L373.2 138.7L374.3 138.8L375.5 138.8L376.6 138.7L377.8 138.6L378.6 138.4M397.6 138.4L398.4 138.7L399.5 139.2L400.7 139.7L400.8 139.8L401.8 140.4L402.9 141.1L403 141.2L404.1 142L404.9 142.6L405.2 142.8L406.4 143.6L406.9 144L407.5 144.4L408.7 145.2L409 145.4L409.8 145.9L411 146.6L411.3 146.7L412.1 147.1L413.2 147.5L414.4 147.7L415.5 147.6L416.7 147.3L417.8 146.8L418.1 146.7L419 146.4L420.1 146.2L421.3 146.1L422.4 146.4L422.9 146.7L423.5 147.3L424.1 148.1L424.7 149.4L424.7 149.5L425 150.9L425.1 152.3L425.1 153.7L425.2 155.1L425.4 156.4L425.7 157.8L425.8 158.3L426.1 159.2L426.5 160.6L426.8 162L427 162.6L427.1 163.4L427.3 164.8L427.4 166.2L427.5 167.5L427.5 168.9L427.5 170.3L427.4 171.7L427.3 173.1L427.1 174.5L427 175.4L426.9 175.9L426.6 177.2L426.2 178.6L425.8 179.5L425.6 180L424.8 181.4L424.7 181.5L423.5 182.6L423.2 182.8L422.4 183.3L421.3 183.7L420.1 184.1L419.9 184.2L419 184.5L417.8 184.9L416.7 185.4L416 185.6L415.5 185.7L414.4 185.9L413.2 186L412.1 185.9L411 185.8L409.9 185.6L409.8 185.6L408.7 185.4L407.5 185.3L406.7 185.6L406.4 185.7L405.2 186.8L405.2 187L404.4 188.3L404.1 188.8L403.5 189.7L402.9 190.5L402.4 191.1L401.8 191.6L400.7 192.4L400.5 192.5L399.5 192.9L398.4 193.2L397.2 193.3L396.1 193.2L394.9 192.9L394 192.5L393.8 192.4L392.6 191.6L392.2 191.1L391.5 190.1L391.2 189.7L390.5 188.3L390.4 188L389.9 187L389.3 185.6L389.2 185.3L388.8 184.2L388.2 182.8L388.1 182.4L387.7 181.4L387.2 180L386.9 178.8L386.9 178.6L386.6 177.2L386.5 175.9L386.4 174.5L386.3 173.1L385.9 171.7L385.8 171.4L385.1 170.3L384.6 169.8L383.7 168.9L383.5 168.8L382.3 168.1L381.2 167.5L381.2 167.5L380.1 167.2L378.9 167L377.8 167L376.6 167.2L376.1 167.5L375.5 167.9L374.6 168.9L374.3 169.3L373.8 170.3L373.3 171.7L373.2 172.1L372.9 173.1L372.6 174.5L372.3 175.9L372 176.9L372 177.2L371.6 178.6L371 180L370.9 180.2L369.9 181.4L369.8 181.5L368.6 182.2L367.5 182.4L366.3 182.3L365.2 181.7L364.9 181.4L364 180.5L363.7 180L362.9 178.6L362.9 178.5L362.4 177.2L361.8 175.9L361.7 175.6L361.4 174.5L361.1 173.1L360.9 171.7L360.7 170.3L360.6 169.6L360.5 168.9L360.3 167.5L360 166.2L359.8 164.8L359.5 163.4L359.5 163L359.3 162L359.1 160.6L359 159.2L359 157.8L359 156.4L359 155.1L359.1 153.7L359.2 152.3L359.4 150.9L359.5 150.3L359.6 149.5L359.9 148.1L360.2 146.7L360.6 145.6L360.7 145.4L361.2 144L361.7 142.7L361.8 142.6L362.6 141.2L362.9 140.6L363.5 139.8L364 139.1L364.8 138.4M391.4 196.7L390.4 195.9L389.7 195.3L389.2 194.7L388.5 193.9L388.1 193.2L387.7 192.5L387 191.1L386.9 190.9L386.5 189.7L386.2 188.3L385.9 187L385.8 186.6L385.5 185.6L385.2 184.2L384.8 182.8L384.6 182.4L384.3 181.4L383.9 180L383.6 178.6L383.5 177.7L383.4 177.2L383.3 175.9L383.2 174.5L382.8 173.1L382.3 172L382.1 171.7L381.2 170.8L380.4 170.3L380.1 170.1L378.9 169.9L377.8 170.1L377.4 170.3L376.6 171.1L376.2 171.7L375.7 173.1L375.5 173.9L375.4 174.5L375.2 175.9L375.2 177.2L375.1 178.6L374.9 180L374.6 181.4L374.3 182L374 182.8L373.2 184.2L373.2 184.2L372.2 185.6L372 185.9L371.1 187L370.9 187.3L370.1 188.3L369.8 188.9L369.1 189.7L368.6 190.2L367.5 190.6L366.3 189.9L366.2 189.7L365.6 188.3L365.2 187.7L364.9 187L364.1 185.6L364 185.5L363.3 184.2L362.9 183.6L362.5 182.8L361.8 181.4L361.7 181.2L361.2 180L360.7 178.6L360.6 178.4L360.2 177.2L359.7 175.9L359.5 175.1L359.3 174.5L358.9 173.1L358.7 171.7L358.6 170.3L358.4 168.9L358.3 168L358.2 167.5L357.9 166.2L357.6 164.8L357.3 163.4L357.2 162.8L357 162L356.8 160.6L356.7 159.2L356.6 157.8L356.6 156.4L356.6 155.1L356.7 153.7L356.8 152.3L356.9 150.9L357.1 149.5L357.2 149L357.3 148.1L357.5 146.7L357.8 145.4L358.2 144L358.3 143.6L358.6 142.6L359 141.2L359.5 140L359.5 139.8L360 138.4M404.1 138.4L404.1 138.4L405.2 139L406.4 139.6L406.7 139.8L407.5 140.2L408.7 140.7L409.8 141.2L409.8 141.2L411 141.5L412.1 141.6L413.2 141.6L414.4 141.4L415 141.2L415.5 141L416.7 140.6L417.8 140.2L419 139.9L419.3 139.8L420.1 139.7L421.3 139.6L422.4 139.8L422.5 139.8L423.5 140.1L424.7 140.8L425 141.2L425.8 142.4L425.9 142.6L426.4 144L426.8 145.4L427 146.2L427.1 146.7L427.3 148.1L427.5 149.5L427.6 150.9L427.6 152.3L427.7 153.7L427.9 155.1L428.1 155.9L428.3 156.4L428.7 157.8L429.2 159.2L429.3 159.4L429.7 160.6L430.1 162L430.4 163.4L430.4 163.5L430.6 164.8L430.7 166.2L430.8 167.5L430.8 168.9L430.9 170.3L431 171.7L431.1 173.1L431 174.5L430.8 175.9L430.5 177.2L430.4 177.8L430.2 178.6L429.9 180L429.6 181.4L429.3 182.6L429.2 182.8L428.8 184.2L428.2 185.6L428.1 185.8L427.5 187L427 187.6L426.1 188.3L425.8 188.5L424.7 188.8L423.5 188.7L422.4 188.6L421.3 188.7L420.1 189.1L419 189.7L418.9 189.7L417.8 190.8L417.4 191.1L416.7 191.9L415.5 192.4L414.4 192.3L413.2 192L412.1 191.7L411 191.5L409.8 191.5L408.7 191.9L407.6 192.5L407.5 192.5L406.4 193.5L405.9 193.9L405.2 194.6L404.5 195.3L404.1 195.7L402.9 196.6L402.8 196.7" stroke="#3b4a8f" stroke-width="1.2" stroke-dasharray="3 1.3"/>
<path d="M282.8 189.3L283.9 188.7L284.5 188.3L285.1 188.1L286.2 187.5L287 187L287.4 186.8L288.5 185.9L288.8 185.6L289.6 184.9L290.3 184.2L290.8 183.8L291.8 182.8L291.9 182.7L293.1 181.7L293.4 181.4L294.2 180.9L295.4 180L295.4 180L296.5 179.3L297.4 178.6L297.7 178.5L298.8 177.6L299.2 177.2L299.9 176.5L300.5 175.9L301.1 174.8L301.3 174.5L301.8 173.1L302.1 171.7L302.1 170.3L302.1 168.9L301.9 167.5L301.6 166.2L301.4 164.8L301.2 163.4L301.1 162.2L301.1 162L301 160.6L300.9 159.2L300.9 157.8L301.1 156.9L301.3 156.4L302.2 155.8L303.4 155.8L304.5 156L305.7 156.2L306.4 156.4L306.8 156.6L308 157L309.1 157.5L309.7 157.8L310.2 158.3L311.2 159.2L311.4 159.6L311.8 160.6L312 162L312 163.4L311.9 164.8L311.8 166.2L311.8 167.5L311.7 168.9L311.6 170.3L311.5 171.7L311.4 172.8L311.4 173.1L311.3 174.5L311.4 175.8L311.4 175.9L311.6 177.2L311.9 178.6L312.1 180L312.3 181.4L312.5 182.8L312.5 182.8L312.9 184.2L313.5 185.6L313.7 185.9L314.4 187L314.8 187.4L315.7 188.3L316 188.5L317.1 189.4L317.6 189.7L318.3 190.2L319.4 190.8L320.1 191.1L320.5 191.3L321.7 191.7L322.8 192L324 192.2L325.1 192.3L326.3 192.3L327.4 192.2L328.6 192L329.7 191.7L330.8 191.3L331.3 191.1L332 190.8L333.1 190.2L333.8 189.7L334.3 189.4L335.4 188.6L335.7 188.3L336.6 187.5L337.1 187L337.7 186.2L338.3 185.6L338.9 184.8L339.3 184.2L340 183.3L340.4 182.8L341.1 182.1L341.9 181.4L342.3 181.2L343.4 180.3L343.8 180L344.6 179.4L345.5 178.6L345.7 178.3L346.5 177.2L346.7 175.9L346.5 174.5L345.9 173.1L345.7 172.8L345.1 171.7L344.6 171L344 170.3L343.4 169.5L343 168.9L342.3 167.6L342.3 167.5L341.9 166.2L341.6 164.8L341.1 163.4L341.1 163.4L340.6 162L340 160.7L340 160.6L339.2 159.2L338.9 158.7L338.2 157.8L337.7 157.2L337.1 156.4L336.6 155.9L335.7 155.1L335.4 154.8L334.3 153.9L333.9 153.7L333.1 153.1L332 152.4L331.8 152.3L330.8 151.7L329.7 150.9L329.6 150.9L328.6 150.1L327.9 149.5L327.4 149L326.7 148.1L326.3 147.5L325.7 146.7L325.1 146L324.7 145.4L324 144.6L323.4 144L322.8 143.4L321.8 142.6L321.7 142.5L320.5 141.7L319.6 141.2L319.4 141.1L318.3 140.5L317.1 140.1L316 139.8L315.7 139.8L314.8 139.6L313.7 139.4L312.5 139.3L311.4 139.3L310.2 139.4L309.1 139.5L308 139.8L307.8 139.8L306.8 140L305.7 140.4L304.5 140.9L304 141.2L303.4 141.5L302.2 142.3L301.9 142.6L301.1 143.2L300.3 144L299.9 144.4L299.1 145.4L298.8 145.9L298.1 146.7L297.7 147.5L296.9 148.1L296.5 148.5L295.4 148.7L294.2 148.5L293.1 148.2L292.9 148.1L291.9 147.8L290.8 147.3L289.6 146.8L289.6 146.7L288.5 146.2L287.4 145.6L286.8 145.4L286.2 145L285.1 144.4L284.4 144L283.9 143.7L282.8 142.9M500.2 148.5L499.1 148.2L498.9 148.1L497.9 147.8L496.8 147.3L495.6 146.8L495.6 146.7L494.5 146.2L493.4 145.6L492.8 145.4L492.2 145L491.1 144.4L490.4 144L489.9 143.7L488.8 142.9L488.3 142.6L487.6 142.1L486.5 141.2L486.5 141.2L485.3 140.3L484.6 139.8L484.2 139.5L483.1 138.8L482.4 138.4M460.9 138.4L460.2 138.9L459 139.6L458.8 139.8L457.9 140.4L456.7 141.2L456.7 141.2L455.6 141.8L454.4 142.3L453.9 142.6L453.3 142.8L452.2 143.4L451.5 144L451 144.4L450.3 145.4L449.9 145.9L449.4 146.7L448.7 148.1L448.7 148.1L448.2 149.5L447.7 150.9L447.6 151.3L447.3 152.3L446.9 153.7L446.6 155.1L446.4 156.1L446.4 156.4L446.1 157.8L445.8 159.2L445.5 160.6L445.3 161.1L444.8 162L444.1 162.8L443.6 163.4L443 163.7L441.9 164.5L441.6 164.8L440.7 165.4L439.9 166.2L439.6 166.6L439 167.5L438.5 168.9L438.4 169.8L438.4 170.3L438.4 170.4L438.7 171.7L439.3 173.1L439.6 173.6L440.1 174.5L440.7 175.5L441 175.9L441.9 176.9L442.2 177.2L443 178L443.8 178.6L444.1 179L445.2 180L445.3 180.3L445.8 181.4L446.1 182.8L446.1 184.2L446.1 185.6L446.2 187L446.4 188.3L446.4 188.5L446.8 189.7L447.6 191.1L447.6 191.1L448.7 192.5L448.7 192.6L449.9 193.7L450.3 193.9L451 194.3L452.2 194.5L453.3 194.1L453.6 193.9L454.4 193.3L455.4 192.5L455.6 192.3L456.7 191.5L457.6 191.1L457.9 191L459 191L459.6 191.1L460.2 191.3L461.3 191.7L462.5 192.1L463.5 192.5L463.6 192.6L464.7 193L465.9 193.3L467 193.6L468.2 193.8L468.5 193.9L469.3 194L470.5 194.1L471.6 194.2L472.8 194.1L473.9 194.1L475 194L476.2 193.9L476.2 193.9L477.3 193.8L478.5 193.7L479.6 193.6L480.8 193.4L481.9 193.2L483.1 192.8L483.8 192.5L484.2 192.3L485.3 191.7L486.2 191.1L486.5 190.9L487.6 190.1L488.2 189.7L488.8 189.3L489.9 188.7L490.5 188.3L491.1 188.1L492.2 187.5L493 187L493.4 186.8L494.5 185.9L494.8 185.6L495.6 184.9L496.3 184.2L496.8 183.8L497.8 182.8L497.9 182.7L499.1 181.7L499.4 181.4L500.2 180.9M351.4 195.7L352.6 196L353.7 196L354.9 195.8L355.9 195.3L356 195.2L357.2 194L357.2 193.9L357.9 192.5L358.3 191.1L358.3 191.1L358.6 189.7L358.8 188.3L358.9 187L358.8 185.6L358.6 184.2L358.3 182.9L358.3 182.8L357.7 181.4L357.2 180.4L356.9 180L356 178.7L355.9 178.6L354.9 177.5L354.4 177.2L353.7 176.8L352.6 176.5L351.4 176.6L350.3 177.1L350 177.2L349.2 178.1L348.8 178.6L348.5 180L348.6 181.4L348.9 182.8L349.2 183.6L349.3 184.2L349.5 185.6L349.5 187L349.4 188.3L349.2 189.4L349.1 189.7L348.8 191.1L348.7 192.5L349.1 193.9L349.2 193.9L350.3 195.1L350.6 195.3ZM282.8 181.8L283.9 181.6L284.8 181.4L285.1 181.4L286.2 181L287.4 180.5L288.2 180L288.5 179.9L289.6 179.2L290.6 178.6L290.8 178.5L291.9 177.8L292.7 177.2L293.1 176.9L294.2 176L294.4 175.9L295.4 174.9L295.7 174.5L296.5 173.3L296.6 173.1L297.2 171.7L297.5 170.3L297.7 169.2L297.7 168.9L297.7 167.5L297.7 167.1L297.6 166.2L297.4 164.8L297.1 163.4L296.7 162L296.5 161.6L296.1 160.6L295.4 159.2L295.4 159.2L294.5 157.8L294.2 157.5L293.2 156.4L293.1 156.3L291.9 155.3L291.5 155.1L290.8 154.6L289.6 153.9L289.1 153.7L288.5 153.4L287.4 152.9L286.2 152.5L285.3 152.3L285.1 152.2L283.9 152L282.8 151.8M500.2 157.5L499.2 156.4L499.1 156.3L497.9 155.3L497.5 155.1L496.8 154.6L495.6 153.9L495.1 153.7L494.5 153.4L493.4 152.9L492.2 152.5L491.3 152.3L491.1 152.2L489.9 152L488.8 151.8L487.6 151.7L486.5 151.7L485.3 151.7L484.2 151.5L483.1 151.3L482.1 150.9L481.9 150.8L480.8 150.1L480 149.5L479.6 149L479 148.1L478.5 147.2L478.2 146.7L477.3 145.6L477 145.4L476.2 144.7L475 144.2L473.9 144L473.9 144L472.8 143.8L471.6 143.9L470.8 144L470.5 144L469.3 144.3L468.2 144.6L467 145.1L466.5 145.4L465.9 145.6L464.7 146.2L463.9 146.7L463.6 146.9L462.5 147.6L461.8 148.1L461.3 148.5L460.2 149.4L460.1 149.5L459 150.6L458.7 150.9L457.9 151.8L457.2 152.3L456.7 152.8L455.6 153L454.4 152.7L453.3 152.5L452.2 152.8L451.3 153.7L451 154L450.4 155.1L449.9 156.2L449.8 156.4L449.3 157.8L448.9 159.2L448.7 159.9L448.5 160.6L448.2 162L447.8 163.4L447.6 163.9L447.1 164.8L446.4 165.5L445.5 166.2L445.3 166.3L444.1 166.8L443 167.4L442.7 167.5L441.9 168.3L441.4 168.9L440.9 170.3L441.2 171.7L441.9 173L441.9 173.1L443 174.3L443.2 174.5L444.1 175.1L445.3 175.8L445.3 175.9L446.4 176.7L447 177.2L447.6 178L448 178.6L448.5 180L448.7 180.6L448.9 181.4L449.2 182.8L449.4 184.2L449.7 185.6L449.9 186.2L450.2 187L451 188L452.2 188.2L453.3 187.5L453.8 187L454.4 186.3L455.3 185.6L455.6 185.3L456.7 184.7L457.9 184.7L459 184.9L460.2 185.3L461.3 185.6L461.4 185.6L462.5 185.8L463.6 186L464.7 186.1L465.9 186.2L467 186.2L468.2 186.2L469.3 186.2L470.5 186.2L471.6 186.1L472.8 186L473.9 185.9L475 185.6L475.3 185.6L476.2 185.4L477.3 185L478.5 184.6L479.4 184.2L479.6 184.1L480.8 183.6L481.9 183.1L482.6 182.8L483.1 182.6L484.2 182.3L485.3 182.2L486.5 182.1L487.6 182L488.8 181.8L489.9 181.6L490.8 181.4L491.1 181.4L492.2 181L493.4 180.5L494.2 180L494.5 179.9L495.6 179.2L496.6 178.6L496.8 178.5L497.9 177.8L498.7 177.2L499.1 176.9L500.2 176M353.7 189.4L354.9 189.4L355.5 188.3L356 187.4L356.1 187L356.2 185.6L356.1 184.2L356 184.1L355.2 182.8L354.9 182.4L353.7 182.3L353.2 182.8L352.8 184.2L352.8 185.6L353 187L353.3 188.3ZM321.7 183.2L322.8 183.7L324 184L325.1 184.2L326.3 184.2L327.4 184L328.6 183.7L329.7 183.2L330.4 182.8L330.8 182.5L332 181.7L332.3 181.4L333.1 180.7L334.1 180L334.3 179.9L335.4 179.5L336.6 179.3L337.7 179.2L338.9 179L340 178.7L340.1 178.6L341.1 178.2L342.3 177.3L342.4 177.2L343.2 175.9L343.2 174.5L342.5 173.1L342.3 172.9L341.1 171.9L340.7 171.7L340 171.3L338.9 170.7L337.8 170.3L337.7 170.3L336.6 169.3L336.2 168.9L335.5 167.5L335.4 167.3L334.9 166.2L334.3 164.8L334.3 164.8L333.4 163.4L333.1 163.1L332.2 162L332 161.8L330.8 160.9L330.4 160.6L329.7 160.2L328.6 159.7L327.4 159.3L327 159.2L326.3 159.1L325.1 159L324 159.1L323.4 159.2L322.8 159.3L321.7 159.8L320.5 160.6L320.5 160.6L319.4 161.7L319.1 162L318.3 163.3L318.2 163.4L317.6 164.8L317.2 166.2L317.1 166.8L317 167.5L316.9 168.9L316.8 170.3L316.7 171.7L316.7 173.1L316.7 174.5L316.7 175.9L317 177.2L317.1 177.6L317.5 178.6L318.2 180L318.3 180.1L319.3 181.4L319.4 181.5L320.5 182.5L321 182.8ZM310.2 154L311.4 154.2L312.5 154.4L313.7 154.5L314.8 154.5L316 154.4L317.1 154.2L318.2 153.7L318.3 153.7L319.4 152.9L319.9 152.3L320.5 151.2L320.7 150.9L321 149.5L321 148.1L320.5 146.8L320.5 146.7L319.7 145.4L319.4 145L318.3 144L318.3 143.9L317.1 143.2L316 142.7L315.7 142.6L314.8 142.3L313.7 142L312.5 141.9L311.4 141.9L310.2 141.9L309.1 142.1L308 142.4L307.6 142.6L306.8 142.9L305.7 143.6L305.2 144L304.5 144.6L303.9 145.4L303.4 146.4L303.2 146.7L303 148.1L303.4 149.5L303.4 149.5L304.3 150.9L304.5 151.1L305.7 152.1L306 152.3L306.8 152.8L308 153.3L309.1 153.6L309.2 153.7ZM282.8 177L283.9 177.1L285.1 177L286.2 176.8L287.4 176.4L288.5 175.9L288.5 175.9L289.6 175.1L290.6 174.5L290.8 174.3L291.9 173.1L292 173.1L292.9 171.7L293.1 171.3L293.5 170.3L293.8 168.9L293.8 167.5L293.7 166.2L293.4 164.8L293.1 163.9L292.9 163.4L292.1 162L291.9 161.7L291 160.6L290.8 160.4L289.6 159.4L289.4 159.2L288.5 158.6L287.4 158.1L286.8 157.8L286.2 157.6L285.1 157.3L283.9 157.1L282.8 157.1M463.6 180L464.7 180.2L465.9 180.3L467 180.3L468.2 180.2L469.3 180.1L469.6 180L470.5 179.9L471.6 179.7L472.8 179.4L473.9 179.1L475 178.7L475.1 178.6L476.2 178.1L477.3 177.5L477.8 177.2L478.5 176.8L479.6 176L479.9 175.9L480.8 175.2L481.9 174.6L483.1 174.5L484.2 174.9L485.3 175.5L485.9 175.9L486.5 176.2L487.6 176.6L488.8 177L489.9 177.1L491.1 177L492.2 176.8L493.4 176.4L494.5 175.9L494.5 175.9L495.6 175.1L496.6 174.5L496.8 174.3L497.9 173.1L498 173.1L498.9 171.7L499.1 171.3L499.5 170.3L499.8 168.9L499.8 167.5L499.7 166.2L499.4 164.8L499.1 163.9L498.9 163.4L498.1 162L497.9 161.7L497 160.6L496.8 160.4L495.6 159.4L495.4 159.2L494.5 158.6L493.4 158.1L492.8 157.8L492.2 157.6L491.1 157.3L489.9 157.1L488.8 157.1L487.6 157L486.5 157L485.3 157L484.2 156.8L483.1 156.4L483.1 156.4L481.9 155.9L480.8 155.2L480.5 155.1L479.6 154.5L478.5 153.7L478.4 153.7L477.3 153L476.2 152.3L476.2 152.3L475 151.7L473.9 151.4L472.8 151.2L471.6 151.3L470.5 151.6L469.3 152L468.7 152.3L468.2 152.5L467 153.1L466.1 153.7L465.9 153.9L464.7 154.9L464.6 155.1L463.7 156.4L463.6 156.7L463.2 157.8L462.9 159.2L462.5 160.6L462.5 160.6L461.9 162L461.3 163.3L461.3 163.4L460.6 164.8L460.2 165.6L459.9 166.2L459.3 167.5L459 168.4L458.8 168.9L458.4 170.3L458.1 171.7L458 173.1L458 174.5L458.4 175.9L459 176.7L459.3 177.2L460.2 178.1L460.7 178.6L461.3 179.1L462.5 179.7L463.5 180ZM451 179L452.2 180L453.3 179.6L454.1 178.6L454.4 178.2L455.1 177.2L455.6 176.2L455.9 175.9L456.4 174.5L456.5 173.1L456.3 171.7L456.1 170.3L455.8 168.9L455.6 168.2L455.5 167.5L455.3 166.2L455.1 164.8L454.8 163.4L454.4 162.3L454.3 162L453.6 160.6L453.3 160.3L452.2 159.9L451.5 160.6L451 161.2L450.7 162L450.3 163.4L449.9 164.4L449.8 164.8L449.1 166.2L448.7 166.8L448.1 167.5L447.6 168.1L446.4 168.9L446.4 168.9L445.3 169.7L444.5 170.3L444.6 171.7L445.3 172.4L446.1 173.1L446.4 173.3L447.6 174.2L447.8 174.5L448.7 175.5L449 175.9L449.9 177.2L449.9 177.2L450.8 178.6ZM337.7 176L338.9 176.2L340 175.9L340 175.9L340.1 174.5L340 174.4L338.9 174L337.7 174.1L337.2 174.5L337.5 175.9ZM309.1 150.9L310.2 151.3L311.4 151.5L312.5 151.5L313.7 151.4L314.8 151.1L315.2 150.9L316 150.4L316.8 149.5L317.1 148.5L317.2 148.1L317.1 147.6L316.9 146.7L316 145.6L315.7 145.4L314.8 144.8L313.7 144.4L312.5 144.1L311.4 144.1L310.2 144.2L309.1 144.5L308 145.1L307.6 145.4L306.8 146.4L306.6 146.7L306.4 148.1L306.8 148.9L307.1 149.5L308 150.2L309 150.9ZM282.8 171.7L283.9 172.2L285.1 172.4L286.2 172.2L287.2 171.7L287.4 171.6L288.5 170.4L288.5 170.3L289.1 168.9L289.3 167.5L289.1 166.2L288.6 164.8L288.5 164.7L287.5 163.4L287.4 163.3L286.2 162.5L285.1 162L285 162L283.9 161.8L282.8 161.9M451 172.1L451.4 171.7L451.1 170.3L451 170.3L451 170.3L450.8 171.7ZM464.7 171.8L465.9 172.5L467 172.8L468.2 173L469.3 173L470.5 172.7L471.6 172.3L472.7 171.7L472.8 171.6L473.9 170.6L474.2 170.3L475 169.1L475.1 168.9L475.8 167.5L476.2 166.5L476.3 166.2L476.5 164.8L476.3 163.4L476.2 163L475.7 162L475 161.1L474.6 160.6L473.9 160.1L472.8 159.7L471.6 159.7L470.5 160L469.5 160.6L469.3 160.8L468.3 162L468.2 162.2L467.6 163.4L467 164.6L467 164.8L466.3 166.2L465.9 166.9L465.5 167.5L464.7 168.7L464.6 168.9L464.2 170.3L464.7 171.7ZM488.8 171.7L489.9 172.2L491.1 172.4L492.2 172.2L493.2 171.7L493.4 171.6L494.5 170.4L494.5 170.3L495.1 168.9L495.3 167.5L495.1 166.2L494.6 164.8L494.5 164.7L493.5 163.4L493.4 163.3L492.2 162.5L491.1 162L491 162L489.9 161.8L488.8 161.9L488.4 162L487.6 162.2L486.5 162.8L485.6 163.4L485.3 163.8L484.7 164.8L484.6 166.2L485.1 167.5L485.3 167.9L486 168.9L486.5 169.5L487.2 170.3L487.6 170.8L488.8 171.7Z" stroke="#ec3a3a" stroke-width="1.15"/>
<path d="M300.3 196.7L299.9 196.3L299.4 195.3L299.5 193.9L299.9 193.3L300.7 192.5L301.1 192.3L302.2 192L303.4 191.9L304.5 192L305.7 192.3L306.1 192.5L306.8 193L307.8 193.9L308 194.6L308.1 195.3L308 195.5L307 196.7M360.6 196.7L360.6 196.5L360.9 195.3L361.1 193.9L361.2 192.5L361.2 191.1L361.2 189.7L361.3 188.3L361.2 187L361 185.6L360.7 184.2L360.6 183.9L360.3 182.8L359.8 181.4L359.5 180.7L359.2 180L358.6 178.6L358.3 178L357.9 177.2L357.3 175.9L357.2 175.5L356.6 174.5L356.1 173.1L356 172.5L355.8 171.7L355.5 170.3L355.3 168.9L355 167.5L354.9 167.3L354.4 166.2L353.7 164.8L353.7 164.8L353 163.4L352.6 162.3L352.5 162L352 160.6L351.8 159.2L351.6 157.8L351.4 156.5L351.4 156.4L351.3 155.1L351.1 153.7L350.9 152.3L350.7 150.9L350.5 149.5L350.3 148.4L350.2 148.1L349.7 146.7L349.2 145.6L348.8 145.4L348 144.7L346.9 144.5L345.7 144.3L344.6 144.1L344.3 144L343.4 143.4L342.5 142.6L342.3 142.1L342 141.2L342.2 139.8L342.3 139.6L343.3 138.4M437.4 138.4L437.3 138.5L436.1 139.3L435.6 139.8L435 140.1L433.8 141L433.6 141.2L432.7 141.9L432.1 142.6L431.6 143.3L431.1 144L430.6 145.4L430.5 146.7L430.4 148.1L430.5 149.5L430.6 150.9L430.7 152.3L430.9 153.7L431.3 155.1L431.6 155.6L432 156.4L432.7 157.6L432.9 157.8L433.8 159.2L433.9 159.2L434.8 160.6L435 161.2L435.3 162L435.5 163.4L435.4 164.8L435.2 166.2L435 167.5L435 168.9L435.2 170.3L435.5 171.7L436.1 173.1L436.1 173.2L436.6 174.5L436.9 175.9L437 177.2L436.9 178.6L436.7 180L436.6 181.4L436.6 182.8L436.6 184.2L436.5 185.6L436.5 187L436.5 188.3L436.5 189.7L436.5 191.1L436.6 192.5L436.7 193.9L436.8 195.3L437 196.7" stroke="#111" stroke-width="1.6"/>
</g>
<rect x="431.6" y="164.8" width="22.9" height="13.9" fill="none" stroke="#111" stroke-width="1.3"/>
<rect x="289.5" y="141.4" width="12.6" height="11.6" fill="#fff"/>
<text x="295.8" y="149.3" font-size="6.6" text-anchor="middle" font-weight="normal" fill="#231f20" >(e)</text>
<rect x="288.5" y="140.5" width="206" height="52" fill="none" stroke="#231f20" stroke-width="1.0"/>
<clipPath id="clipmc"><rect x="55.5" y="208" width="206" height="51.5"/></clipPath>
<g clip-path="url(#clipmc)">
<g transform="translate(55.5,208) scale(0.57222,0.68667)"><use href="#landg" fill="#c6c6c6"/><use href="#waterg" fill="#fff"/></g>
</g>
<g clip-path="url(#clipmc)" opacity="1">
<path d="M166.5 244.9L167.7 245.2L168.8 245.4L169.9 245.4L171.1 245.2L172.2 244.9L173.3 244.4L173.4 244.3L174.5 243.5L175 243L175.6 241.6L175.6 240.3L175 238.9L174.5 238.4L173.4 237.6L173.3 237.5L172.2 237L171.1 236.7L169.9 236.6L168.8 236.6L167.7 236.7L166.5 237L165.5 237.5L165.4 237.6L164.2 238.4L163.8 238.9L163.1 240.3L163.1 241.6L163.8 243L164.2 243.5L165.4 244.3L165.5 244.4ZM188.3 244.5L189.4 244.7L190.5 244.5L190.7 244.4L191.7 243.9L192.6 243L192.8 242.6L193.3 241.6L193.5 240.3L193.3 238.9L192.8 238L192.6 237.5L191.7 236.6L190.7 236.2L190.5 236.1L189.4 235.9L188.3 236.1L188.1 236.2L187.1 236.6L186.2 237.5L186 238L185.5 238.9L185.3 240.3L185.5 241.6L186 242.6L186.2 243L187.1 243.9L188.1 244.4Z" fill="#cfe1ec" fill-rule="evenodd"/>
<path d="M168.8 243.2L169.9 243.2L170.6 243L171.1 242.8L172.2 242L172.5 241.6L172.5 240.3L172.2 240L171.1 239.1L170.6 238.9L169.9 238.7L168.8 238.7L168.2 238.9L167.7 239.1L166.5 240L166.3 240.3L166.3 241.6L166.5 242L167.7 242.8L168.2 243ZM188.3 242.1L189.4 242.5L190.5 242.1L191 241.6L191.5 240.3L191 238.9L190.5 238.4L189.4 238.1L188.3 238.4L187.8 238.9L187.3 240.3L187.8 241.6Z" fill="#96c2da" fill-rule="evenodd"/>
</g>
<g clip-path="url(#clipmc)" fill="none" stroke-linejoin="round">
<path d="M183.7 243.5L182.7 243L182.5 242.9L181.4 242L181 241.6L180.6 240.3L181.4 239.1L181.5 238.9L182.5 238.2L183.5 237.5L183.7 237.5L184.8 237.1L186 236.8L187.1 236.7L188.3 236.9L189.4 237.3L189.8 237.5L190.5 238.2L191.1 238.9L191.7 240.3L191.5 241.6L190.5 242.9L190.4 243L189.4 243.6L188.3 244L187.1 244.2L186 244.1L184.8 243.9ZM183.7 245.9L182.9 245.8L182.5 245.7L181.4 245.4L180.2 245.1L179.1 244.9L178 244.8L176.8 244.8L175.7 244.8L174.5 245L173.4 245.1L172.2 245.3L171.1 245.4L169.9 245.4L168.8 245.4L167.7 245.2L166.5 245L165.4 244.6L164.8 244.4L164.2 244.1L163.1 243.3L162.8 243L161.9 241.9L161.8 241.6L161.4 240.3L161.6 238.9L161.9 238.3L162.5 237.5L163.1 237L164.2 236.3L164.5 236.2L165.4 235.8L166.5 235.5L167.7 235.4L168.8 235.4L169.9 235.5L171.1 235.6L172.2 235.8L173.4 236.1L173.9 236.2L174.5 236.3L175.7 236.4L176.8 236.5L178 236.5L179.1 236.3L179.5 236.2L180.2 236L181.4 235.7L182.5 235.4L183.7 235.1L184.8 234.8L185.2 234.8L186 234.7L187.1 234.7L188 234.8L188.3 234.8L189.4 235.1L190.5 235.6L191.4 236.2L191.7 236.4L192.8 237.5L192.8 237.6L193.6 238.9L194 240L194.1 240.3L194 241.4L194 241.6L193.3 243L192.8 243.6L192.1 244.4L191.7 244.7L190.5 245.4L189.6 245.8L189.4 245.8L188.3 246.1L187.1 246.2L186 246.2L184.8 246.1ZM165.4 247.3L164.9 247.1L164.2 246.9L163.1 246.5L161.9 246L161.5 245.8L160.8 245.3L159.6 244.5L159.5 244.4L158.5 243.2L158.3 243L157.6 241.6L157.4 241L157.1 240.3L156.7 238.9L156.8 237.5L157.4 236.3L157.5 236.2L158.5 235.2L159 234.8L159.6 234.3L160.8 233.5L160.9 233.4L161.9 232.7L163.1 232.2L163.4 232L164.2 231.7L165.4 231.3L166.5 231L167.7 230.9L168.8 230.9L169.9 231.2L171.1 231.7L171.6 232L172.2 232.3L173.4 232.7L174.5 233.1L175.7 233.4L175.8 233.4L176.8 233.6L178 233.6L179.1 233.6L180.2 233.5L181.4 233.4L181.4 233.4L182.5 233.2L183.7 233.1L184.8 232.9L186 232.9L187.1 232.9L188.3 233L189.4 233.3L189.8 233.4L190.5 233.7L191.7 234.3L192.4 234.8L192.8 235.1L193.9 236.2L194 236.2L195 237.5L195.1 237.7L195.8 238.9L196.2 240.3L196.1 241.6L195.6 243L195.1 243.7L194.6 244.4L194 245.1L193.2 245.8L192.8 246.1L191.7 246.8L190.9 247.1L190.5 247.3L189.4 247.7L188.3 247.9L187.1 248L186 248.1L184.8 248L183.7 247.9L182.5 247.8L181.4 247.7L180.2 247.6L179.1 247.5L178 247.5L176.8 247.5L175.7 247.6L174.5 247.7L173.4 247.8L172.2 247.9L171.1 248L169.9 248L168.8 247.9L167.7 247.8L166.5 247.5ZM84.1 241L83.3 240.3L83 239.8L82.5 238.9L82.3 237.5L82.5 236.2L82.8 234.8L83 234.3L83.3 233.4L84.1 232.1L84.2 232L85.3 231.6L86.4 231.7L87.2 232L87.5 232.3L88.5 233.4L88.7 233.7L89.2 234.8L89.5 236.2L89.5 237.5L89.2 238.9L88.7 240.1L88.5 240.3L87.5 241.1L86.4 241.6L85.3 241.6ZM133.3 255.4L133.1 255.4L132.2 255.1L131.3 254L131.2 252.6L132 251.3L132.2 251.1L133.3 250.7L134.5 250.9L135 251.3L135.6 252.2L135.7 252.6L135.6 253.5L135.5 254L134.5 255L133.5 255.4ZM167.7 250L167.3 249.9L166.5 249.7L165.4 249.4L164.2 249.1L163.1 248.8L162.2 248.5L161.9 248.4L160.8 248L159.6 247.6L158.7 247.1L158.5 247L157.4 246.3L156.7 245.8L156.2 245.3L155.4 244.4L155.1 243.9L154.5 243L153.9 241.6L153.9 241.6L153.5 240.3L153.2 238.9L153.2 237.5L153.4 236.2L153.9 234.9L154 234.8L154.8 233.4L155.1 232.9L155.5 232L155.9 230.7L155.7 229.3L155.1 228.4L154.7 227.9L153.9 227.4L152.8 226.8L152.3 226.5L151.6 226.3L150.5 226L149.3 225.7L148.2 225.4L147.6 225.2L147.1 225L145.9 224.4L145 223.8L144.8 223.6L143.8 222.4L143.6 222L143.3 221L143.3 219.7L143.5 218.3L143.6 218L144.1 216.9L144.8 215.8L145 215.6L145.9 214.8L146.9 214.2L147.1 214.1L148.2 213.8L149.3 213.7L150.5 213.8L151.6 213.9L152.8 214.1L153.6 214.2L153.9 214.2L155.1 214.4L156.2 214.5L157.4 214.6L158.5 214.7L159.6 214.8L160.8 215.1L161.9 215.3L162.6 215.6L163.1 215.7L164.2 216.2L165.4 216.8L165.7 216.9L166.5 217.5L167.5 218.3L167.7 218.4L168.7 219.7L168.8 219.8L169.5 221L169.9 222L170.1 222.4L170.7 223.8L171.1 224.3L171.8 225.2L172.2 225.6L173.3 226.5L173.4 226.6L174.5 227.8L174.7 227.9L175.7 229.1L175.8 229.3L176.8 230.1L177.9 230.7L178 230.7L179.1 231L180.2 231.1L181.4 231.1L182.5 231.1L183.7 231L184.8 231L186 231L187.1 231L188.3 231.2L189.4 231.4L190.5 231.7L191.2 232L191.7 232.2L192.8 232.9L193.5 233.4L194 233.8L195 234.8L195.1 234.9L196.2 236.2L196.3 236.3L197.1 237.5L197.4 238.1L197.8 238.9L198.2 240.3L198.2 241.6L197.8 243L197.4 243.7L197 244.4L196.3 245.3L195.9 245.8L195.1 246.5L194.4 247.1L194 247.4L192.8 248.2L192.2 248.5L191.7 248.8L190.5 249.2L189.4 249.6L188.3 249.8L187.7 249.9L187.1 250L186 250.1L184.8 250.2L183.7 250.2L182.5 250.2L181.4 250.2L180.2 250.1L179.1 250.1L178 250.2L176.8 250.2L175.7 250.3L174.5 250.3L173.4 250.4L172.2 250.4L171.1 250.4L169.9 250.3L168.8 250.2ZM85.3 246L84.4 245.8L84.1 245.7L83 245.2L81.8 244.4L81.8 244.4L80.7 243.3L80.5 243L79.6 241.6L79.5 241.5L79 240.3L78.6 238.9L78.5 237.5L78.7 236.2L79 234.8L79.3 233.4L79.5 232.1L79.5 232L80 230.7L80.7 229.5L80.8 229.3L81.8 228.5L82.8 227.9L83 227.8L84.1 227.5L85.3 227.5L86.4 227.6L87.3 227.9L87.5 228L88.7 228.7L89.5 229.3L89.8 229.6L90.7 230.7L91 231.1L91.5 232L92.1 233.4L92.1 233.5L92.4 234.8L92.7 236.2L92.7 237.5L92.6 238.9L92.4 240.3L92.1 241L91.9 241.6L91.2 243L91 243.3L90 244.4L89.8 244.5L88.7 245.3L87.6 245.8L87.5 245.8L86.4 246L85.3 246M133.3 259.5L133 259.5L132.2 259.4L131 259.1L129.9 258.5L129.4 258.1L128.7 257.4L128.3 256.8L127.7 255.4L127.6 254.4L127.5 254L127.6 253.4L127.7 252.6L128.1 251.3L128.7 249.9L128.8 249.9L129.9 248.6L130 248.5L131 247.8L132.2 247.2L132.4 247.1L133.3 246.9L134.5 246.8L135.6 246.9L136.3 247.1L136.8 247.3L137.9 247.9L138.6 248.5L139 249.1L139.5 249.9L139.9 251.3L140 252.6L139.9 254L139.5 255.4L139 256.3L138.8 256.8L137.9 257.8L137.5 258.1L136.8 258.6L135.6 259.1L134.5 259.4L133.6 259.5L133.3 259.5M168.8 252.6L168.8 252.6L167.7 252.3L166.5 252L165.4 251.6L164.2 251.3L164.2 251.3L163.1 250.9L161.9 250.6L160.8 250.3L159.6 250L159.1 249.9L158.5 249.7L157.4 249.4L156.2 248.9L155.4 248.5L155.1 248.3L153.9 247.6L153.4 247.1L152.8 246.6L152 245.8L151.6 245.2L151.1 244.4L150.5 243L150.5 242.9L150.1 241.6L149.9 240.3L149.9 238.9L149.9 237.5L150.1 236.2L150.3 234.8L150.4 233.4L150.1 232L149.3 230.8L149.3 230.7L148.2 229.8L147.6 229.3L147.1 229L145.9 228.3L145.4 227.9L144.8 227.5L143.6 226.7L143.5 226.5L142.5 225.5L142.2 225.2L141.5 223.8L141.3 223.4L141.1 222.4L141 221L141.1 219.7L141.3 218.6L141.4 218.3L141.9 216.9L142.4 215.6L142.5 215.4L143.2 214.2L143.6 213.4L144.2 212.8L144.8 212.2L145.8 211.4L145.9 211.4L147.1 210.9L148.2 210.6L149.3 210.5L150.5 210.4L151.6 210.5L152.8 210.5L153.9 210.6L155.1 210.6L156.2 210.7L157.4 210.7L158.5 210.8L159.6 210.9L160.8 211.1L161.9 211.3L162.4 211.4L163.1 211.6L164.2 211.9L165.4 212.4L166.3 212.8L166.5 212.9L167.7 213.5L168.6 214.2L168.8 214.3L169.9 215.2L170.3 215.6L171.1 216.4L171.5 216.9L172.2 217.9L172.5 218.3L173.2 219.7L173.4 220.2L173.7 221L174.3 222.4L174.5 222.9L175 223.8L175.7 224.5L176.2 225.2L176.8 225.7L177.7 226.5L178 226.7L179.1 227.5L179.9 227.9L180.2 228.1L181.4 228.4L182.5 228.5L183.7 228.6L184.8 228.7L186 228.8L187.1 228.9L188.3 229.1L189.3 229.3L189.4 229.3L190.5 229.6L191.7 230L192.8 230.6L192.9 230.7L194 231.3L194.9 232L195.1 232.2L196.3 233.3L196.4 233.4L197.4 234.7L197.5 234.8L198.4 236.2L198.6 236.4L199.2 237.5L199.7 238.6L199.8 238.9L200.2 240.3L200.3 241.6L200 243L199.7 243.7L199.4 244.4L198.6 245.7L198.5 245.8L197.4 247.1L197.3 247.1L196.3 248.2L195.9 248.5L195.1 249.1L194 249.9L194 249.9L192.8 250.5L191.7 251.1L191.1 251.3L190.5 251.5L189.4 251.9L188.3 252.2L187.1 252.5L186.7 252.6L186 252.8L184.8 253.1L183.7 253.4L182.5 253.6L181.4 253.8L180.2 253.9L179.1 253.9L178 253.9L176.8 253.8L175.7 253.7L174.5 253.6L173.4 253.4L172.2 253.3L171.1 253.1L169.9 252.9ZM81.8 248.8L81.3 248.5L80.7 248.1L79.6 247.1L79.5 247.1L78.4 245.8L78.3 245.8L77.4 244.4L77.2 244.1L76.7 243L76.1 241.8L76 241.6L75.4 240.3L75 238.9L75 238.7L74.7 237.5L74.8 236.2L75 235.4L75.1 234.8L75.6 233.4L76 232L76.1 231.6L76.4 230.7L77 229.3L77.2 229L78 227.9L78.4 227.4L79.3 226.5L79.5 226.3L80.7 225.4L81.2 225.2L81.8 224.8L83 224.4L84.1 224.2L85.3 224.2L86.4 224.4L87.5 224.8L88.2 225.2L88.7 225.4L89.8 226.2L90.3 226.5L91 227.1L91.8 227.9L92.1 228.3L92.8 229.3L93.3 230L93.6 230.7L94.2 232L94.4 232.7L94.6 233.4L94.9 234.8L95.1 236.2L95.2 237.5L95.2 238.9L95 240.3L94.8 241.6L94.4 242.9L94.4 243L93.8 244.4L93.3 245.5L93.1 245.8L92.1 247L92 247.1L91 248.1L90.4 248.5L89.8 248.9L88.7 249.4L87.5 249.7L86.4 249.9L85.3 249.8L84.1 249.7L83 249.3L81.8 248.8M129.9 262.7L129 262.2L128.7 262.1L127.6 261.4L127.1 260.9L126.5 260.2L126 259.5L125.4 258.1L125.3 257.8L125.1 256.8L125 255.4L125 254L125.2 252.6L125.3 252.4L125.6 251.3L126.2 249.9L126.5 249.3L126.9 248.5L127.6 247.6L128 247.1L128.7 246.4L129.5 245.8L129.9 245.5L131 244.8L132 244.4L132.2 244.3L133.3 243.9L134.5 243.7L135.6 243.5L136.8 243.4L137.9 243.4L139 243.4L140.2 243.5L141.3 243.6L142.5 243.5L143.2 243L143.6 242.6L144 241.6L144.4 240.3L144.7 238.9L144.8 238.7L145 237.5L145.1 236.2L145.1 234.8L144.8 233.7L144.7 233.4L143.8 232L143.6 231.8L142.7 230.7L142.5 230.4L141.6 229.3L141.3 228.9L140.6 227.9L140.2 227.2L139.8 226.5L139.2 225.2L139 224.3L139 223.8L138.9 222.4L139 221L139 221L139.3 219.7L139.7 218.3L140.2 216.9L140.2 216.8L140.7 215.6L141.2 214.2L141.3 213.7L141.7 212.8L142.3 211.4L142.5 210.9L143 210.1L143.6 209.2L144.2 208.7L144.8 208.1L145.9 207.5L146.4 207.3L147.1 207.1L148.2 206.8L149.3 206.6L150.5 206.5L151.6 206.5L152.8 206.5L153.9 206.5L155.1 206.5L156.2 206.5L157.4 206.5L158.5 206.6L159.6 206.6L160.8 206.7L161.9 206.9L163.1 207.1L164 207.3L164.2 207.4L165.4 207.6L166.5 208L167.7 208.5L168.2 208.7L168.8 209L169.9 209.6L170.8 210.1L171.1 210.3L172.2 211.1L172.7 211.4L173.4 212.1L174.1 212.8L174.5 213.2L175.3 214.2L175.7 214.7L176.3 215.6L176.8 216.5L177 216.9L177.7 218.3L178 218.9L178.3 219.7L178.9 221L179.1 221.4L179.8 222.4L180.2 222.9L181.2 223.8L181.4 223.9L182.5 224.5L183.7 225L184.3 225.2L184.8 225.3L186 225.5L187.1 225.7L188.3 226L189.4 226.3L189.9 226.5L190.5 226.7L191.7 227.2L192.8 227.7L193.1 227.9L194 228.4L195.1 229.1L195.3 229.3L196.3 230L197.1 230.7L197.4 231L198.3 232L198.6 232.3L199.3 233.4L199.7 234.1L200 234.8L200.7 236.2L200.8 236.4L201.4 237.5L201.9 238.9L202 239.3L202.2 240.3L202.4 241.6L202.3 243L202 244.4L202 244.4L201.5 245.8L200.8 246.9L200.7 247.1L199.7 248.5L199.7 248.6L198.6 249.9L198.5 249.9L197.4 250.9L197 251.3L196.3 251.8L195.1 252.5L195 252.6L194 253.2L192.8 253.8L192.3 254L191.7 254.3L190.5 254.8L189.4 255.2L188.9 255.4L188.3 255.6L187.1 256L186 256.4L184.8 256.6L184.4 256.8L183.7 256.9L182.5 257.1L181.4 257.3L180.2 257.4L179.1 257.4L178 257.4L176.8 257.4L175.7 257.4L174.5 257.3L173.4 257.1L172.2 257L171.3 256.8L171.1 256.7L169.9 256.4L168.8 256.1L167.7 255.6L167.3 255.4L166.5 255L165.4 254.5L164.4 254L164.2 253.9L163.1 253.5L161.9 253.2L160.8 252.9L159.6 252.7L158.8 252.6L158.5 252.6L157.4 252.5L156.2 252.3L155.1 252L153.9 251.6L153 251.3L152.8 251.1L151.6 250.7L150.5 250.1L149.8 249.9L149.3 249.7L148.2 249.3L147.1 249.1L145.9 249.4L145.6 249.9L144.8 251.3L144.8 251.3L144.4 252.6L144.1 254L144 255.4L143.9 256.8L143.6 257.9L143.6 258.1L142.7 259.5L142.5 259.7L141.3 260.5L140.8 260.9L140.2 261.2L139 261.8L138 262.2L137.9 262.3L136.8 262.7L135.6 263L134.5 263.2L133.3 263.3L132.2 263.2L131 263ZM83 254.2L82.3 254L81.8 253.9L80.7 253.4L79.5 252.7L79.4 252.6L78.4 251.9L77.7 251.3L77.2 250.8L76.4 249.9L76.1 249.5L75.5 248.5L75 247.7L74.7 247.1L74 245.8L73.8 245.2L73.5 244.4L73 243L72.7 242.3L72.4 241.6L71.8 240.3L71.5 239.6L71.2 238.9L70.8 237.5L70.5 236.2L70.6 234.8L71 233.4L71.5 232.3L71.6 232L72.3 230.7L72.7 230.1L73.1 229.3L73.8 228.3L74 227.9L75 226.8L75.2 226.5L76.1 225.5L76.4 225.2L77.2 224.1L77.5 223.8L78.4 222.5L78.5 222.4L79.5 221L79.5 221L80.7 220.1L81.7 219.7L81.8 219.6L83 219.5L84.1 219.5L84.8 219.7L85.3 219.8L86.4 220.2L87.5 220.8L87.9 221L88.7 221.6L89.7 222.4L89.8 222.5L91 223.5L91.2 223.8L92.1 224.6L92.6 225.2L93.3 225.9L93.8 226.5L94.4 227.3L94.8 227.9L95.6 229.2L95.6 229.3L96.2 230.7L96.6 232L96.7 232.2L97 233.4L97.3 234.8L97.4 236.2L97.5 237.5L97.6 238.9L97.5 240.3L97.4 241.6L97.2 243L96.9 244.4L96.7 244.9L96.5 245.8L96 247.1L95.6 248.1L95.3 248.5L94.5 249.9L94.4 250.1L93.5 251.3L93.3 251.5L92.1 252.6L92 252.6L91 253.3L89.8 253.9L89.5 254L88.7 254.3L87.5 254.5L86.4 254.6L85.3 254.6L84.1 254.5L83 254.2" stroke="#3b4a8f" stroke-width="1.2" stroke-dasharray="3 1.3"/>
<path d="M62.2 263.6L62.4 263.5L63.1 262.2L63.5 261.4L63.7 260.9L64.2 259.5L64.7 258.1L64.7 258.1L65.2 256.8L65.7 255.4L65.8 255.1L66.2 254L66.5 252.6L66.7 251.3L66.8 249.9L66.8 248.5L66.8 247.1L66.7 245.8L66.6 244.4L66.5 243L66.2 241.6L65.9 240.3L65.8 239.8L65.6 238.9L65.2 237.5L64.9 236.2L64.7 235.1L64.6 234.8L64.3 233.4L64.1 232L63.8 230.7L63.6 229.3L63.5 228.6L63.4 227.9L63.5 227.4L63.6 226.5L64.6 225.2L64.7 225.1L65.8 224.5L66.9 223.9L67.1 223.8L68.1 223.4L69.2 222.9L70.1 222.4L70.4 222.3L71.5 221.5L72 221L72.7 220.5L73.5 219.7L73.8 219.3L74.8 218.3L75 218.1L76.1 217L76.1 216.9L77.2 216L77.9 215.6L78.4 215.2L79.5 214.7L80.7 214.3L81.3 214.2L81.8 214.1L83 213.9L84.1 213.9L85.3 213.9L86.4 213.9L87.5 214L88.7 214.1L89 214.2L89.8 214.3L91 214.5L92.1 214.7L93.3 215L94.4 215.3L95.1 215.6L95.6 215.8L96.7 216.6L97.2 216.9L97.8 218.3L97.8 219.4L97.9 219.7L98.1 221L98.6 222.4L99 223L99.5 223.8L100.1 224.9L100.3 225.2L101 226.5L101.3 227.4L101.4 227.9L101.8 229.3L102 230.7L102.2 232L102.4 233.4L102.4 233.9L102.5 234.8L102.7 236.2L102.8 237.5L102.8 238.9L102.8 240.3L102.8 241.6L102.7 243L102.6 244.4L102.6 245.8L102.6 247.1L102.6 248.5L102.7 249.9L102.9 251.3L103.2 252.6L103.6 253.5L103.8 254L104.6 255.4L104.7 255.5L105.9 256.7L105.9 256.8L107 257.7L107.8 258.1L108.1 258.3L109.3 258.8L110.4 259.1L111.6 259.3L112.7 259.3L113.9 259.2L115 258.9L116.2 258.4L116.6 258.1L117.3 257.6L118.1 256.8L118.4 256.4L119.1 255.4L119.6 254.7L119.9 254L120.5 252.6L120.7 252.2L121.1 251.3L121.7 249.9L121.9 249.4L122.2 248.5L122.9 247.1L123 246.9L123.6 245.8L124.2 244.9L124.5 244.4L125.3 243.1L125.4 243L126.5 241.6L126.5 241.6L127.6 240.3L127.6 240.3L128.7 239.1L128.9 238.9L129.9 237.8L130.1 237.5L131 236.3L131.1 236.2L131.9 234.8L132.2 234L132.4 233.4L132.7 232L132.9 230.7L132.9 229.3L133 227.9L133.1 226.5L133.3 225.4L133.4 225.2L133.8 223.8L134.5 222.4L134.5 222.4L135.1 221L135.6 220.1L135.8 219.7L136.4 218.3L136.8 217.6L137 216.9L137.5 215.6L137.9 214.2L137.9 214.2L138.1 212.8L138.2 211.4L138.1 210.1L137.9 209.2L137.8 208.7L137.1 207.3L136.8 206.8L135.9 205.9M62.9 205.9L62.4 206.1L61.2 206.5L60.1 207L59.4 207.3L58.9 207.6L57.8 208.2L57 208.7L56.6 208.9L55.5 209.6L54.5 210.1L54.4 210.1L53.2 210.4L52.1 210.4L50.9 210.2L50.4 210.1L49.8 209.9M267.2 206.5L266.1 207L265.4 207.3L264.9 207.6L263.8 208.2L263 208.7L262.6 208.9L261.5 209.6L260.5 210.1L260.4 210.1L259.2 210.4L258.1 210.4L256.9 210.2L256.4 210.1L255.8 209.9L254.6 209.5L253.5 209.2L252.3 208.9L251.2 208.7L251 208.7L250.1 208.6L248.9 208.6L247.9 208.7L247.8 208.7L246.6 208.9L245.5 209.2L244.3 209.6L243.2 210.1L243.2 210.1L242 210.6L240.9 211.2L240.4 211.4L239.8 211.8L238.6 212.3L237.5 212.7L237.2 212.8L236.3 213L235.2 213.2L234 213.4L232.9 213.5L231.7 213.7L230.6 213.9L229.5 214L228.3 214.1L227.2 214L226 213.8L224.9 213.6L223.7 213.3L222.6 213.2L221.4 213.3L220.3 213.5L219.2 213.9L218.7 214.2L218 214.6L216.9 215.5L216.8 215.6L215.7 216.6L215.5 216.9L214.6 218.3L214.6 218.3L213.8 219.7L213.4 220.6L213.2 221L212.8 222.4L212.3 223.8L212.3 224L211.8 225.2L211.2 226.5L211.1 226.7L210.4 227.9L210 228.4L209.4 229.3L208.9 229.9L208.2 230.7L207.7 231.3L207.2 232L206.6 233.1L206.4 233.4L206 234.8L205.9 236.2L206.1 237.5L206.3 238.9L206.6 239.9L206.7 240.3L207.1 241.6L207.5 243L207.7 243.4L208.2 244.4L208.9 245.5L209.1 245.8L210 246.7L210.6 247.1L211.1 247.6L212.3 248.1L213.4 248.5L213.6 248.5L214.6 248.8L215.7 249L216.9 249.2L218 249.4L219.2 249.5L220.3 249.7L221.1 249.9L221.4 250L222.6 250.4L223.7 251L224.1 251.3L224.9 252L225.4 252.6L226 253.3L226.6 254L227.2 254.5L228.1 255.4L228.3 255.6L229.5 256.4L230 256.8L230.6 257.1L231.7 257.7L232.9 258.1L232.9 258.1L234 258.5L235.2 258.6L236.3 258.6L237.5 258.4L238.1 258.1L238.6 258L239.8 257.7L240.9 257.7L242 258.1L242 258.1L243.2 258.8L244.3 259.3L245.1 259.5L245.5 259.6L246.6 259.9L247.8 260.3L248.9 260.7L249.1 260.9L250.1 261.4L251.2 262.2L251.2 262.2L252.3 263.2L252.9 263.6M49.8 259.7L50.9 260.6L51.4 260.9L52.1 261.3L53.2 261.8L54.4 262L55.5 262.1L56.6 261.9L57.8 261.4L58.6 260.9L58.9 260.7L60.1 259.5L60.1 259.5L61.1 258.1L61.2 258L61.9 256.8L62.4 255.7L62.5 255.4L63 254L63.4 252.6L63.5 252.3L63.7 251.3L64 249.9L64.1 248.5L64.2 247.1L64.2 245.8L64.1 244.4L64 243L63.9 241.6L63.6 240.3L63.5 239.7L63.3 238.9L63 237.5L62.5 236.2L62.4 235.6L62.1 234.8L61.5 233.4L61.2 232.8L60.8 232L60.1 230.7L60 230.7L59.2 229.3L58.9 228.7L58.6 227.9L58.1 226.5L57.8 225.6L57.7 225.2L57.3 223.8L56.7 222.4L56.6 222.3L55.8 221L55.5 220.7L54.4 219.7L54.3 219.7L53.2 218.8L52.7 218.3L52.1 217.8L51.1 216.9L50.9 216.8L49.8 215.8M267.2 232.8L266.8 232L266.1 230.7L266 230.7L265.2 229.3L264.9 228.7L264.6 227.9L264.1 226.5L263.8 225.6L263.7 225.2L263.3 223.8L262.7 222.4L262.6 222.3L261.8 221L261.5 220.7L260.4 219.7L260.3 219.7L259.2 218.8L258.7 218.3L258.1 217.8L257.1 216.9L256.9 216.8L255.8 215.8L255.5 215.6L254.6 214.9L253.5 214.2L253.5 214.2L252.3 213.6L251.2 213.3L250.1 213.1L248.9 213.1L247.8 213.2L246.6 213.5L245.5 213.9L244.9 214.2L244.3 214.5L243.2 215.2L242.6 215.6L242 215.9L240.9 216.7L240.6 216.9L239.8 217.5L238.6 218.1L237.9 218.3L237.5 218.5L236.3 218.6L235.2 218.5L234.1 218.3L234 218.3L232.9 218L231.7 217.7L230.6 217.5L229.5 217.3L228.3 217.1L227.3 216.9L227.2 216.9L226 216.7L224.9 216.6L223.7 216.5L222.6 216.5L221.4 216.8L221.1 216.9L220.3 217.3L219.2 218.1L218.9 218.3L218 219.3L217.7 219.7L216.9 221L216.9 221.2L216.4 222.4L215.9 223.8L215.7 224.5L215.5 225.2L215.1 226.5L214.6 227.6L214.4 227.9L213.5 229.3L213.4 229.3L212.3 230.6L212.3 230.7L211.1 231.8L211 232L210 233.2L209.8 233.4L209 234.8L208.9 235.3L208.6 236.2L208.5 237.5L208.6 238.9L208.9 239.9L208.9 240.3L209.5 241.6L210 242.6L210.3 243L211.1 244L211.7 244.4L212.3 244.8L213.4 245.4L214.6 245.7L214.9 245.8L215.7 245.9L216.9 246L218 246L219.2 245.9L219.9 245.8L220.3 245.7L221.4 245.4L222.6 245L223.7 244.6L224.2 244.4L224.9 244.1L226 243.8L227.2 244L227.7 244.4L228.3 245L228.7 245.8L229.1 247.1L229.4 248.5L229.5 248.9L229.6 249.9L230.1 251.3L230.6 252.3L230.8 252.6L231.7 253.5L232.7 254L232.9 254.1L234 254.1L234.4 254L235.2 253.8L236.3 253.3L237.5 252.8L237.8 252.6L238.6 252.3L239.8 252.1L240.9 251.9L242 251.8L243.2 251.8L244.3 251.8L245.5 251.8L246.6 251.9L247.8 252.1L248.9 252.6L248.9 252.7L250.1 253.5L250.5 254L251.2 254.7L251.8 255.4L252.3 256L253 256.8L253.5 257.3L254.2 258.1L254.6 258.6L255.6 259.5L255.8 259.7L256.9 260.6L257.4 260.9L258.1 261.3L259.2 261.8L260.4 262L261.5 262.1L262.6 261.9L263.8 261.4L264.6 260.9L264.9 260.7L266.1 259.5L266.1 259.5L267.1 258.1L267.2 258M267.2 209.8L266.9 210.1L266.1 210.8L265.5 211.4L264.9 212.3L264.6 212.8L264.1 214.2L263.8 215.6L263.9 216.9L264.3 218.3L264.9 219.2L265.4 219.7L266.1 220.1L267.2 220.5M109.3 254.3L110.4 254.8L111.6 255.1L112.7 255.2L113.9 255L115 254.6L116.1 254L116.2 253.9L117.3 252.8L117.4 252.6L118.4 251.3L118.4 251.2L119.1 249.9L119.6 248.8L119.7 248.5L120.3 247.1L120.7 246.3L121 245.8L121.7 244.4L121.9 244.1L122.5 243L123 242L123.2 241.6L124 240.3L124.2 239.8L124.7 238.9L125.3 237.5L125.3 237.4L125.9 236.2L126.4 234.8L126.5 234.6L126.9 233.4L127.3 232L127.6 230.9L127.7 230.7L128 229.3L128.3 227.9L128.7 226.7L128.8 226.5L129.5 225.2L129.9 224.6L130.4 223.8L131 223L131.4 222.4L132.2 221.5L132.5 221L133.3 220L133.5 219.7L134.4 218.3L134.5 218.2L135.2 216.9L135.6 215.9L135.8 215.6L136.1 214.2L136.3 212.8L136.2 211.4L135.7 210.1L135.6 210L134.5 208.7L134.4 208.7L133.3 208.1L132.2 207.9L131 207.8L129.9 207.8L128.7 207.9L127.6 208L126.5 208.1L125.3 208.3L124.2 208.4L123 208.5L121.9 208.6L120.7 208.7L120.6 208.7L119.6 208.7L118.4 208.7L117.3 208.7L117 208.7L116.2 208.6L115 208.5L113.9 208.4L112.7 208.3L111.6 208.2L110.4 208.1L109.3 208L108.1 207.9L107 207.8L105.9 207.8L104.7 207.8L103.6 207.8L102.4 207.8L101.3 207.8L100.1 207.9L99 207.9L97.8 208L96.7 208L95.6 208L94.4 208L93.3 208L92.1 208L91 208.1L89.8 208.2L88.7 208.2L87.5 208.4L86.4 208.5L85.3 208.6L84.4 208.7L84.1 208.8L83 209L81.8 209.2L80.7 209.2L79.5 209.1L78.4 208.8L77.8 208.7L77.2 208.6L76.1 208.4L75 208.2L73.8 208L72.7 207.8L71.5 207.7L70.4 207.6L69.2 207.5L68.1 207.6L66.9 207.7L65.8 207.8L64.7 208.1L63.5 208.5L63.1 208.7L62.4 209.1L61.2 209.8L60.9 210.1L60.1 210.8L59.5 211.4L58.9 212.3L58.6 212.8L58.1 214.2L57.8 215.6L57.9 216.9L58.3 218.3L58.9 219.2L59.4 219.7L60.1 220.1L61.2 220.5L62.4 220.8L63.5 221L64.7 221L65.8 220.9L66.9 220.8L68.1 220.5L69.2 220L69.9 219.7L70.4 219.4L71.5 218.6L71.8 218.3L72.7 217.5L73.2 216.9L73.8 216.3L74.5 215.6L75 215L75.8 214.2L76.1 213.9L77.2 213L77.5 212.8L78.4 212.1L79.5 211.6L80.5 211.4L80.7 211.3L81.8 211L83 210.9L84.1 211.1L85.3 211.2L86.2 211.4L86.4 211.4L87.5 211.6L88.7 211.7L89.8 211.8L91 211.9L92.1 212.1L93.3 212.2L94.4 212.3L95.6 212.5L96.7 212.7L97.6 212.8L97.8 212.8L99 213L100.1 213.3L101.3 213.5L102.4 213.7L103.6 213.9L104.7 214.1L105 214.2L105.9 214.4L107 214.8L108.1 215.5L108.2 215.6L109 216.9L108.9 218.3L108.3 219.7L108.1 219.9L107.3 221L107 221.5L106.4 222.4L106 223.8L105.9 225.2L106.1 226.5L106.2 227.9L106.1 229.3L106 230.7L106 232L106 233.4L106.1 234.8L106.2 236.2L106.2 237.5L106.2 238.9L106.1 240.3L106 241.6L105.9 242.7L105.8 243L105.7 244.4L105.6 245.8L105.6 247.1L105.8 248.5L105.9 248.9L106.1 249.9L106.6 251.3L107 252L107.5 252.6L108.1 253.4L108.9 254ZM49.8 254.4L50.6 255.4L50.9 255.7L52.1 256.7L52.2 256.8L53.2 257.3L54.4 257.7L55.5 257.7L56.6 257.4L57.8 256.8L57.8 256.8L58.9 255.7L59.2 255.4L60 254L60.1 254L60.7 252.6L61.1 251.3L61.2 250.9L61.5 249.9L61.7 248.5L61.8 247.1L61.9 245.8L61.9 244.4L61.8 243L61.6 241.6L61.4 240.3L61.2 239.6L61 238.9L60.5 237.5L60.1 236.5L59.9 236.2L59.1 234.8L58.9 234.6L58 233.4L57.8 233.2L56.7 232L56.6 232L55.5 230.9L55.3 230.7L54.4 229.5L54.2 229.3L53.7 227.9L53.4 226.5L53.2 226L53 225.2L52.3 223.8L52.1 223.5L51.2 222.4L50.9 222.1L49.9 221L49.8 221M267.2 239.6L267 238.9L266.5 237.5L266.1 236.5L265.9 236.2L265.1 234.8L264.9 234.6L264 233.4L263.8 233.2L262.7 232L262.6 232L261.5 230.9L261.3 230.7L260.4 229.5L260.2 229.3L259.7 227.9L259.4 226.5L259.2 226L259 225.2L258.3 223.8L258.1 223.5L257.2 222.4L256.9 222.1L255.9 221L255.8 221L254.6 219.9L254.3 219.7L253.5 219L252.5 218.3L252.3 218.2L251.2 217.6L250.1 217.2L248.9 217.1L247.8 217.3L246.6 217.7L245.5 218.3L245.4 218.3L244.3 219.2L243.8 219.7L243.2 220.4L242.6 221L242.1 222.4L242 223.3L242 223.8L242 223.8L242.3 225.2L242.2 226.5L242 226.8L241.2 227.9L240.9 228.1L239.8 228.7L238.6 229L237.5 229.1L236.3 229.1L235.2 228.9L234.3 227.9L234 227.3L233.9 226.5L233.7 225.2L233.2 223.8L232.9 223.4L232.2 222.4L231.7 222.1L230.6 221.2L230.4 221L229.5 220.5L228.3 220L227.3 219.7L227.2 219.6L226 219.4L224.9 219.3L223.7 219.3L222.6 219.5L222.3 219.7L221.4 220.1L220.4 221L220.3 221.2L219.5 222.4L219.2 223.2L218.9 223.8L218.6 225.2L218.3 226.5L218 227.9L218 227.9L217.5 229.3L216.9 230.1L216.3 230.7L215.7 231.2L214.7 232L214.6 232.1L213.4 233L213 233.4L212.3 234.2L211.9 234.8L211.1 236.1L211.1 236.2L210.8 237.5L210.9 238.9L211.1 239.8L211.3 240.3L212.1 241.6L212.3 241.8L213.4 242.7L214 243L214.6 243.3L215.7 243.5L216.9 243.6L218 243.4L219.2 243.1L219.4 243L220.3 242.6L221.4 241.7L221.6 241.6L222.6 240.5L222.8 240.3L223.7 238.9L223.7 238.8L224.5 237.5L224.9 236.9L225.6 236.2L226 235.8L227.2 235.4L228.3 235.3L229.5 235.7L230.1 236.2L230.6 236.7L231.1 237.5L231.7 238.9L231.8 238.9L232.3 240.3L232.8 241.6L232.9 242L233.2 243L233.6 244.4L234 245.8L234 245.9L235.1 247.1L235.2 247.2L236.3 247.4L237.5 247.2L237.8 247.1L238.6 246.9L239.8 246.6L240.9 246.2L241.8 245.8L242 245.6L243.2 244.9L244 244.4L244.3 244.1L245.5 243.3L245.9 243L246.6 242.5L247.8 242.1L248.9 242.3L249.8 243L250.1 243.3L250.6 244.4L251.2 245.4L251.3 245.8L251.9 247.1L252.3 248.2L252.5 248.5L253.1 249.9L253.5 250.6L253.8 251.3L254.6 252.6L254.6 252.7L255.5 254L255.8 254.4L256.6 255.4L256.9 255.7L258.1 256.7L258.2 256.8L259.2 257.3L260.4 257.7L261.5 257.7L262.6 257.4L263.8 256.8L263.8 256.8L264.9 255.7L265.2 255.4L266 254L266.1 254L266.7 252.6L267.1 251.3L267.2 250.9M111.6 250.6L112.7 250.9L113.9 250.7L115 250L115.1 249.9L116.2 248.6L116.2 248.5L116.9 247.1L117.3 246.1L117.4 245.8L118 244.4L118.4 243.5L118.7 243L119.5 241.6L119.6 241.5L120.2 240.3L120.7 239.1L120.8 238.9L121.2 237.5L121.3 236.2L121.4 234.8L121.4 233.4L121.3 232L121.3 230.7L121.3 229.3L121.4 227.9L121.7 226.5L121.9 226L122.2 225.2L123 224.1L123.3 223.8L124.2 223.2L125.3 222.4L125.3 222.4L126.5 221.8L127.6 221.1L127.7 221L128.7 220.4L129.8 219.7L129.9 219.6L131 218.6L131.3 218.3L132.2 217.3L132.5 216.9L133.3 215.6L133.3 215.5L133.7 214.2L133.7 212.8L133.3 212.1L132.7 211.4L132.2 211.1L131 210.8L129.9 210.8L128.7 210.9L127.6 211.1L126.5 211.3L125.8 211.4L125.3 211.6L124.2 211.9L123 212.3L121.9 212.7L121.6 212.8L120.7 213.3L119.6 214L119.3 214.2L118.4 215.2L118.2 215.6L117.6 216.9L117.3 217.8L117.1 218.3L116.5 219.7L116.2 220.1L115 221L115 221.1L113.9 221.7L112.7 222.2L112.3 222.4L111.6 223L111 223.8L110.9 225.2L111.3 226.5L111.6 227.7L111.6 227.9L111.8 229.3L111.7 230.7L111.8 232L111.9 233.4L112 234.8L112.1 236.2L112 237.5L111.6 238.9L111.6 238.9L111.1 240.3L110.5 241.6L110.4 241.8L110 243L109.6 244.4L109.3 245.8L109.3 247.1L109.7 248.5L110.4 249.9L110.4 249.9ZM63.5 217.3L64.7 217.8L65.8 218.1L66.9 218L68.1 217.8L69.2 217.2L69.7 216.9L70.4 216.4L71.2 215.6L71.5 215.2L72.2 214.2L72.7 213.2L72.9 212.8L72.9 211.4L72.7 211.2L71.5 210.4L70.6 210.1L70.4 210L69.2 209.9L68.1 209.9L66.9 210L66.6 210.1L65.8 210.3L64.7 210.8L63.6 211.4L63.5 211.6L62.5 212.8L62.4 213.2L62.1 214.2L62.2 215.6L62.4 215.9L63.1 216.9ZM49.8 246.6L49.9 247.1L50.3 248.5L50.9 249.9L50.9 249.9L51.8 251.3L52.1 251.6L53.1 252.6L53.2 252.7L54.4 253.2L55.5 253.2L56.6 252.7L56.8 252.6L57.8 251.6L58 251.3L58.7 249.9L58.9 249.1L59.1 248.5L59.3 247.1L59.4 245.8L59.4 244.4L59.3 243L59 241.6L58.9 241.3L58.6 240.3L58 238.9L57.8 238.5L57 237.5L56.6 237.1L55.6 236.2L55.5 236.1L54.4 235.4L53.2 235L52.1 234.9L50.9 235.1L49.8 236.1M259.2 252.7L260.4 253.2L261.5 253.2L262.6 252.7L262.8 252.6L263.8 251.6L264 251.3L264.7 249.9L264.9 249.1L265.1 248.5L265.3 247.1L265.4 245.8L265.4 244.4L265.3 243L265 241.6L264.9 241.3L264.6 240.3L264 238.9L263.8 238.5L263 237.5L262.6 237.1L261.6 236.2L261.5 236.1L260.4 235.4L259.2 235L258.1 234.9L256.9 235.1L255.8 236.1L255.7 236.2L255.4 237.5L255.3 238.9L255.3 240.3L255.3 241.6L255.4 243L255.5 244.4L255.6 245.8L255.8 246.6L255.9 247.1L256.3 248.5L256.9 249.9L256.9 249.9L257.8 251.3L258.1 251.6L259.1 252.6ZM215.7 240.7L216.9 240.7L218 240.4L218.2 240.3L219.2 239.3L219.4 238.9L219.8 237.5L219.7 236.2L219.2 235.2L218.6 234.8L218 234.6L216.9 234.6L216.3 234.8L215.7 235L214.6 235.9L214.3 236.2L213.7 237.5L213.7 238.9L214.6 240.2L214.7 240.3ZM223.7 228.3L224.9 228.6L226 228.5L227.2 228L227.3 227.9L228.3 226.5L228.3 225.4L228.3 225.2L228.3 225.2L227.4 223.8L227.2 223.6L226 223.1L224.9 223L223.7 223.3L223.1 223.8L222.6 224.8L222.5 225.2L222.5 226.5L222.6 226.8L223.3 227.9ZM250.1 227.9L251.2 227.9L251.2 227.9L252.3 227.4L253.2 226.5L253.5 225.5L253.5 225.2L253.5 225.1L252.8 223.8L252.3 223.4L251.2 222.6L250.6 222.4L250.1 222.3L248.9 222.4L248.9 222.4L247.8 223.7L247.7 223.8L247.7 225.2L247.8 225.2L248.3 226.5L248.9 227.3L250 227.9Z" stroke="#ec3a3a" stroke-width="1.15"/>
<path d="M72.2 263.6L71.5 263.2L70.4 262.3L70.3 262.2L69.2 261.1L69.1 260.9L68.8 259.5L69 258.1L69.2 257.6L69.7 256.8L70.4 255.7L70.6 255.4L71.1 254L71.1 252.6L70.9 251.3L70.7 249.9L70.4 248.5L70.4 248.3L70.2 247.1L70 245.8L69.7 244.4L69.4 243L69.2 242.5L69 241.6L68.6 240.3L68.1 239L68.1 238.9L67.7 237.5L67.4 236.2L67.2 234.8L67.3 233.4L67.4 232L67.7 230.7L68.1 229.6L68.2 229.3L69 227.9L69.2 227.6L70.2 226.5L70.4 226.4L71.5 225.3L71.7 225.2L72.7 224.3L73.2 223.8L73.8 223.2L74.5 222.4L75 221.8L75.5 221L76.1 220.2L76.5 219.7L77.2 218.9L77.9 218.3L78.4 217.9L79.5 217.2L80.2 216.9L80.7 216.7L81.8 216.5L83 216.3L84.1 216.2L85.3 216.3L86.4 216.4L87.5 216.6L88.7 216.8L88.9 216.9L89.8 217.3L91 218L91.3 218.3L92.1 219.3L92.4 219.7L93.2 221L93.3 221.2L94.1 222.4L94.4 222.9L95 223.8L95.6 224.4L96.1 225.2L96.7 226L97 226.5L97.8 227.9L97.8 228L98.4 229.3L98.9 230.7L99 231.2L99.2 232L99.5 233.4L99.7 234.8L99.9 236.2L100 237.5L100.1 238.9L100.1 240.3L100 241.6L99.9 243L99.7 244.4L99.6 245.8L99.4 247.1L99.2 248.5L99 249.6L98.9 249.9L98.7 251.3L98.5 252.6L98.3 254L98.1 255.4L98 256.8L97.9 258.1L97.8 259.5L97.8 259.6L97.8 260.9L97.7 262.2L97.6 263.6M121.2 263.6L121.2 262.2L121.4 260.9L121.5 259.5L121.8 258.1L121.9 257.6L122 256.8L122.3 255.4L122.6 254L123 252.6L123 252.5L123.4 251.3L123.9 249.9L124.2 249.3L124.5 248.5L125.3 247.1L125.3 247.1L126.3 245.8L126.5 245.5L127.4 244.4L127.6 244.2L128.7 243.2L129 243L129.9 242.3L131 241.6L131 241.6L132.2 240.9L133.3 240.3L133.3 240.2L134.5 239.4L135 238.9L135.6 238.1L136 237.5L136.6 236.2L136.8 235.8L137.1 234.8L137.5 233.4L137.7 232L137.6 230.7L137.3 229.3L136.9 227.9L136.8 227.4L136.6 226.5L136.5 225.2L136.5 223.8L136.8 222.7L136.8 222.4L137.2 221L137.6 219.7L137.9 218.9L138.1 218.3L138.6 216.9L139 215.7L139.1 215.6L139.5 214.2L139.8 212.8L140.1 211.4L140.2 210.7L140.3 210.1L140.4 208.7L140.5 207.3L140.6 205.9M201.6 205.9L201.4 207.3L201.2 208.7L201.1 210.1L200.9 211.4L200.8 211.6L200.6 212.8L200.2 214.2L199.7 214.9L199.3 215.6L198.6 216.1L197.9 216.9L197.4 217.2L196.6 218.3L196.3 218.7L195.8 219.7L195.5 221L195.7 222.4L196.2 223.8L196.3 223.8L197.4 225.2L197.4 225.2L198.6 226L199.2 226.5L199.7 226.9L200.8 227.7L201 227.9L202 229.3L202 229.3L202.3 230.7L202.5 232L202.7 233.4L202.9 234.8L203.1 235.8L203.2 236.2L203.6 237.5L204 238.9L204.3 239.8L204.4 240.3L204.7 241.6L204.8 243L205 244.4L205.1 245.8L205.2 247.1L205.3 248.5L205.4 249.6L205.5 249.9L205.7 251.3L205.8 252.6L206 254L206.2 255.4L206.2 256.8L206.2 258.1L206.1 259.5L205.8 260.9L205.4 262.1L205.4 262.2L204.9 263.6M223.7 262.9L222.6 262.2L222.6 260.9L223.7 260.3L224.9 260L226 260.1L227.2 260.5L227.8 260.9L228 262.2L227.2 262.9L226 263.2L224.9 263.2L223.7 262.9" stroke="#111" stroke-width="1.6"/>
</g>
<rect x="198.6" y="232" width="22.9" height="13.7" fill="none" stroke="#111" stroke-width="1.3"/>
<rect x="56.5" y="208.9" width="12.6" height="11.6" fill="#fff"/>
<text x="62.8" y="216.8" font-size="6.6" text-anchor="middle" font-weight="normal" fill="#231f20" >(c)</text>
<rect x="55.5" y="208" width="206" height="51.5" fill="none" stroke="#231f20" stroke-width="1.0"/>
<line x1="53.3" y1="208" x2="55.5" y2="208" stroke="#231f20" stroke-width="0.9"/>
<text x="53.1" y="211.1" font-size="8.8" text-anchor="end" font-weight="normal" fill="#231f20" >45N</text>
<line x1="53.3" y1="218.3" x2="55.5" y2="218.3" stroke="#231f20" stroke-width="0.9"/>
<text x="53.1" y="221.4" font-size="8.8" text-anchor="end" font-weight="normal" fill="#231f20" >30N</text>
<line x1="53.3" y1="228.6" x2="55.5" y2="228.6" stroke="#231f20" stroke-width="0.9"/>
<text x="53.1" y="231.7" font-size="8.8" text-anchor="end" font-weight="normal" fill="#231f20" >15N</text>
<line x1="53.3" y1="238.9" x2="55.5" y2="238.9" stroke="#231f20" stroke-width="0.9"/>
<text x="53.1" y="242" font-size="8.8" text-anchor="end" font-weight="normal" fill="#231f20" >0</text>
<line x1="53.3" y1="249.2" x2="55.5" y2="249.2" stroke="#231f20" stroke-width="0.9"/>
<text x="53.1" y="252.3" font-size="8.8" text-anchor="end" font-weight="normal" fill="#231f20" >15S</text>
<line x1="53.3" y1="259.5" x2="55.5" y2="259.5" stroke="#231f20" stroke-width="0.9"/>
<text x="53.1" y="262.6" font-size="8.8" text-anchor="end" font-weight="normal" fill="#231f20" >30S</text>
<line x1="54.2" y1="211.4" x2="55.5" y2="211.4" stroke="#231f20" stroke-width="0.7"/>
<line x1="54.2" y1="214.9" x2="55.5" y2="214.9" stroke="#231f20" stroke-width="0.7"/>
<line x1="54.2" y1="221.7" x2="55.5" y2="221.7" stroke="#231f20" stroke-width="0.7"/>
<line x1="54.2" y1="225.2" x2="55.5" y2="225.2" stroke="#231f20" stroke-width="0.7"/>
<line x1="54.2" y1="232" x2="55.5" y2="232" stroke="#231f20" stroke-width="0.7"/>
<line x1="54.2" y1="235.5" x2="55.5" y2="235.5" stroke="#231f20" stroke-width="0.7"/>
<line x1="54.2" y1="242.3" x2="55.5" y2="242.3" stroke="#231f20" stroke-width="0.7"/>
<line x1="54.2" y1="245.8" x2="55.5" y2="245.8" stroke="#231f20" stroke-width="0.7"/>
<line x1="54.2" y1="252.6" x2="55.5" y2="252.6" stroke="#231f20" stroke-width="0.7"/>
<line x1="54.2" y1="256.1" x2="55.5" y2="256.1" stroke="#231f20" stroke-width="0.7"/>
<clipPath id="clipmf"><rect x="288.5" y="208" width="206" height="51.5"/></clipPath>
<g clip-path="url(#clipmf)">
<g transform="translate(288.5,208) scale(0.57222,0.68667)"><use href="#landg" fill="#c6c6c6"/><use href="#waterg" fill="#fff"/></g>
</g>
<g clip-path="url(#clipmf)" opacity="1">
<path d="M381.2 251.4L382.3 251.7L383.5 251.9L384.6 252L385.8 252.2L386.9 252.2L388.1 252.3L389.2 252.3L390.4 252.3L391.5 252.2L392.6 252.1L393.8 251.9L394.9 251.6L395.7 251.3L396.1 251.1L397.2 250.5L397.9 249.9L398.4 249.6L399.5 248.6L399.6 248.5L400.7 247.6L401.3 247.1L401.8 246.8L402.9 246.1L403.6 245.8L404.1 245.5L405.2 245.1L406.4 244.8L407.5 244.5L408 244.4L408.7 244.2L409.8 243.9L411 243.6L412.1 243L412.1 243L413.2 242.2L413.9 241.6L414.4 241.1L415.1 240.3L415.5 239.7L416.1 238.9L416.7 238.1L417.1 237.5L417.8 236.4L418 236.2L418.9 234.8L419 234.7L420 233.4L420.1 233.2L421.2 232L421.3 231.9L422.4 230.8L422.6 230.7L423.5 229.9L424.3 229.3L424.7 229L425.8 228.1L426.1 227.9L427 227.3L427.9 226.5L428.1 226.3L429.3 225.3L429.4 225.2L430.4 224.1L430.7 223.8L431.6 222.5L431.6 222.4L432.3 221L432.6 219.7L432.7 219.1L432.8 218.3L432.7 217.1L432.7 216.9L432.4 215.6L431.8 214.2L431.6 213.9L430.8 212.8L430.4 212.3L429.5 211.4L429.3 211.2L428.1 210.3L427.7 210.1L427 209.7L425.8 209.1L424.7 208.7L424.7 208.7L423.5 208.3L422.4 208L421.3 207.8L420.1 207.6L419 207.5L417.8 207.3L417.6 207.3L416.7 207.2L415.5 207L414.4 206.9L413.2 206.7L412.1 206.4L411 206.2L410.2 205.9L409.8 205.9L408.7 205.9L407.5 205.9L406.4 205.9L405.2 205.9L404.1 205.9L402.9 205.9L401.8 205.9L400.7 205.9L399.5 205.9L398.4 205.9L397.2 205.9L396.1 205.9L394.9 205.9L393.8 205.9L392.6 205.9L391.5 205.9L390.4 205.9L389.2 205.9L388.1 205.9L386.9 205.9L385.8 205.9L384.6 205.9L383.5 205.9L382.3 205.9L381.2 205.9L380.1 205.9L378.9 205.9L377.8 205.9L376.6 205.9L375.5 205.9L374.3 205.9L373.2 205.9L372 205.9L370.9 205.9L370.8 205.9L369.8 206.6L368.8 207.3L368.6 207.5L367.5 208.4L367.1 208.7L366.3 209.4L365.6 210.1L365.2 210.5L364.4 211.4L364 211.8L363.3 212.8L362.9 213.3L362.3 214.2L361.7 215.1L361.5 215.6L360.8 216.9L360.6 217.3L360.1 218.3L359.7 219.7L359.5 220.4L359.2 221L358.9 222.4L358.7 223.8L358.6 225.2L358.5 226.5L358.6 227.9L358.7 229.3L358.9 230.7L359.2 232L359.5 232.7L359.7 233.4L360.1 234.8L360.6 235.8L360.8 236.2L361.5 237.5L361.7 238L362.3 238.9L362.9 239.7L363.3 240.3L364 241.2L364.4 241.6L365.2 242.5L365.6 243L366.3 243.7L367.1 244.4L367.5 244.7L368.6 245.6L368.8 245.8L369.8 246.5L370.8 247.1L370.9 247.2L372 247.9L373.2 248.5L373.2 248.5L374.3 249.1L375.5 249.6L376.3 249.9L376.6 250L377.8 250.5L378.9 250.8L380.1 251.1L380.6 251.3Z" fill="#cfe1ec" fill-rule="evenodd"/>
<path d="M385.8 247.2L386.9 247.3L388.1 247.4L389.2 247.4L390.4 247.4L391.5 247.3L392.6 247.2L392.9 247.1L393.8 247L394.9 246.7L396.1 246.4L397.2 245.9L397.6 245.8L398.4 245.4L399.5 244.8L400.3 244.4L400.7 244.2L401.8 243.6L402.9 243L402.9 243L404.1 242.4L405.2 241.8L405.5 241.6L406.4 241.1L407.5 240.3L407.6 240.3L408.7 239.4L409.2 238.9L409.8 238.2L410.4 237.5L411 236.8L411.5 236.2L412.1 235.3L412.4 234.8L413.2 233.6L413.4 233.4L414.3 232L414.4 232L415.4 230.7L415.5 230.5L416.6 229.3L416.7 229.2L417.8 228.1L418 227.9L419 227.1L419.6 226.5L420.1 226.1L421.3 225.2L421.3 225.2L422.4 224.3L423 223.8L423.5 223.2L424.3 222.4L424.7 221.8L425.2 221L425.8 219.7L425.8 218.9L425.9 218.3L425.8 218L425.6 216.9L424.8 215.6L424.7 215.4L423.5 214.4L423.3 214.2L422.4 213.7L421.3 213.2L420.2 212.8L420.1 212.8L419 212.5L417.8 212.3L416.7 212.1L415.5 211.9L414.4 211.7L413.2 211.5L412.6 211.4L412.1 211.3L411 211.1L409.8 210.9L408.7 210.6L407.5 210.2L407 210.1L406.4 209.9L405.2 209.5L404.1 209L403.1 208.7L402.9 208.6L401.8 208.2L400.7 207.8L399.5 207.4L399.2 207.3L398.4 207L397.2 206.7L396.1 206.5L394.9 206.2L393.8 206L393.2 205.9L392.6 205.9L391.5 205.9L390.4 205.9L389.2 205.9L388.1 205.9L386.9 205.9L385.8 205.9L385.3 205.9L384.6 206L383.5 206.2L382.3 206.5L381.2 206.8L380.1 207.1L379.6 207.3L378.9 207.6L377.8 208L376.6 208.6L376.4 208.7L375.5 209.2L374.3 209.8L374 210.1L373.2 210.6L372.1 211.4L372 211.5L370.9 212.5L370.5 212.8L369.8 213.6L369.2 214.2L368.6 214.9L368.1 215.6L367.5 216.5L367.2 216.9L366.4 218.3L366.3 218.5L365.8 219.7L365.3 221L365.2 221.3L364.9 222.4L364.6 223.8L364.4 225.2L364.4 226.5L364.4 227.9L364.6 229.3L364.9 230.7L365.2 231.8L365.3 232L365.8 233.4L366.3 234.6L366.4 234.8L367.2 236.2L367.5 236.6L368.1 237.5L368.6 238.2L369.2 238.9L369.8 239.5L370.5 240.3L370.9 240.6L372 241.6L372.1 241.6L373.2 242.5L374 243L374.3 243.2L375.5 243.9L376.4 244.4L376.6 244.5L377.8 245.1L378.9 245.5L379.6 245.8L380.1 245.9L381.2 246.3L382.3 246.6L383.5 246.8L384.6 247L385.3 247.1Z" fill="#96c2da" fill-rule="evenodd"/>
<path d="M384.6 241.8L385.8 242L386.9 242.1L388.1 242.2L389.2 242.2L390.4 242.2L391.5 242.1L392.6 242L393.8 241.8L394.3 241.6L394.9 241.5L396.1 241.1L397.2 240.7L398.2 240.3L398.4 240.2L399.5 239.6L400.7 238.9L400.7 238.9L401.8 238.1L402.6 237.5L402.9 237.2L404.1 236.2L404.1 236.2L405.2 234.9L405.4 234.8L406.4 233.5L406.5 233.4L407.5 232L407.5 232L408.5 230.7L408.7 230.4L409.5 229.3L409.8 228.9L410.6 227.9L411 227.6L411.9 226.5L412.1 226.4L413.2 225.3L413.4 225.2L414.4 224.3L415 223.8L415.5 223.3L416.5 222.4L416.7 222.2L417.6 221L417.8 220.4L418.1 219.7L417.8 218.7L417.7 218.3L416.7 217.5L415.6 216.9L415.5 216.9L414.4 216.6L413.2 216.3L412.1 216.1L411 215.9L409.8 215.7L409.1 215.6L408.7 215.5L407.5 215.2L406.4 215L405.2 214.7L404.1 214.3L403.6 214.2L402.9 214L401.8 213.6L400.7 213.2L399.5 212.8L399.5 212.8L398.4 212.4L397.2 212.1L396.1 211.8L394.9 211.5L394.8 211.4L393.8 211.2L392.6 211.1L391.5 210.9L390.4 210.9L389.2 210.8L388.1 210.9L386.9 211L385.8 211.1L384.6 211.3L384.1 211.4L383.5 211.6L382.3 212L381.2 212.4L380.1 212.8L380.1 212.8L378.9 213.5L377.8 214.1L377.7 214.2L376.6 214.9L375.9 215.6L375.5 215.9L374.4 216.9L374.3 217L373.3 218.3L373.2 218.4L372.4 219.7L372 220.3L371.7 221L371.2 222.4L370.9 223.4L370.8 223.8L370.6 225.2L370.5 226.5L370.6 227.9L370.8 229.3L370.9 229.7L371.2 230.7L371.7 232L372 232.7L372.4 233.4L373.2 234.6L373.3 234.8L374.3 236.1L374.4 236.2L375.5 237.2L375.9 237.5L376.6 238.1L377.7 238.9L377.8 239L378.9 239.6L380.1 240.2L380.1 240.3L381.2 240.7L382.3 241.1L383.5 241.5L384.1 241.6Z" fill="#5096c0" fill-rule="evenodd"/>
<path d="M288.5 262.4L289.5 263.6L289.6 263.6L290.8 263.6L291.9 263.6L293.1 263.6L294.2 263.6L295.4 263.6L296.5 263.6L297.7 263.6L298.8 263.6L299.9 263.6L301.1 263.6L302.2 263.6L303.4 263.6L304.5 263.6L305.7 263.6L306.8 263.6L308 263.6L309.1 263.6L310.2 263.6L311.4 263.6L311.7 263.6L312.5 263L313.4 262.2L313.7 262L314.8 261L314.9 260.9L316 260L316.5 259.5L317.1 258.9L318 258.1L318.3 257.9L319.4 256.8L319.4 256.8L320.5 255.6L320.8 255.4L321.7 254.4L322 254L322.8 253L323.1 252.6L324 251.5L324.1 251.3L325 249.9L325.1 249.6L325.7 248.5L326.3 247.3L326.3 247.1L326.9 245.8L327.3 244.4L327.4 243.9L327.6 243L327.9 241.6L328.1 240.3L328.2 238.9L328.2 237.5L328.1 236.2L328 234.8L327.7 233.4L327.4 232.1L327.4 232L327 230.7L326.4 229.3L326.3 228.9L325.8 227.9L325.1 226.8L324.9 226.5L324 225.2L323.9 225.2L322.8 223.9L322.7 223.8L321.7 222.9L321 222.4L320.5 222.1L319.4 221.4L318.7 221L318.3 220.8L317.1 220.3L316 220L314.8 219.7L314.6 219.7L313.7 219.5L312.5 219.3L311.4 219.2L310.2 219.1L309.1 219L308 219L306.8 219L305.7 219L304.5 219L303.4 219L302.2 219L301.1 219.1L299.9 219.3L298.8 219.5L298.2 219.7L297.7 219.8L296.5 220.2L295.4 220.7L294.6 221L294.2 221.2L293.1 221.9L292.4 222.4L291.9 222.8L290.8 223.8L290.8 223.8L289.6 224.9L289.4 225.2L288.5 226.3L288.3 226.5L287.4 227.9L287.4 228L286.6 229.3L286.2 230L285.9 230.7L285.3 232L285.1 232.6L284.8 233.4L284.3 234.8L284 236.2L283.9 236.4L283.7 237.5L283.4 238.9L283.2 240.3L283.1 241.6L283 243L283 244.4L283 245.8L283.1 247.1L283.2 248.5L283.4 249.9L283.7 251.3L283.9 252.4L284 252.6L284.3 254L284.8 255.4L285.1 256.1L285.3 256.8L285.9 258.1L286.2 258.7L286.6 259.5L287.4 260.8L287.4 260.9L288.4 262.2ZM494.5 262.4L495.5 263.6L495.6 263.6L496.8 263.6L497.9 263.6L499.1 263.6L500.2 263.6L500.2 262.2L500.2 260.9L500.2 259.5L500.2 258.1L500.2 256.8L500.2 255.4L500.2 254L500.2 252.6L500.2 251.3L500.2 249.9L500.2 248.5L500.2 247.1L500.2 245.8L500.2 244.4L500.2 243L500.2 241.6L500.2 240.3L500.2 238.9L500.2 237.5L500.2 236.2L500.2 234.8L500.2 233.4L500.2 232L500.2 230.7L500.2 229.3L500.2 227.9L500.2 226.5L500.2 225.2L500.2 223.8L500.2 222.4L500.2 221.2L499.1 221.9L498.4 222.4L497.9 222.8L496.8 223.8L496.8 223.8L495.6 224.9L495.4 225.2L494.5 226.3L494.3 226.5L493.4 227.9L493.4 228L492.6 229.3L492.2 230L491.9 230.7L491.3 232L491.1 232.6L490.8 233.4L490.3 234.8L490 236.2L489.9 236.4L489.7 237.5L489.4 238.9L489.2 240.3L489.1 241.6L489 243L489 244.4L489 245.8L489.1 247.1L489.2 248.5L489.4 249.9L489.7 251.3L489.9 252.4L490 252.6L490.3 254L490.8 255.4L491.1 256.1L491.3 256.8L491.9 258.1L492.2 258.7L492.6 259.5L493.4 260.8L493.4 260.9L494.4 262.2ZM441.9 259.6L443 259.9L444.1 260.1L445.3 260.2L446.4 260.2L447.6 260.1L448.7 259.9L449.9 259.6L450.2 259.5L451 259.2L452.2 258.8L453.3 258.1L453.3 258.1L454.4 257.4L455.3 256.8L455.6 256.5L456.7 255.4L456.7 255.3L457.7 254L457.9 253.7L458.5 252.6L459 251.4L459.1 251.3L459.5 249.9L459.7 248.5L459.8 247.1L459.7 245.8L459.5 244.4L459.1 243L459 242.8L458.5 241.6L457.9 240.5L457.7 240.3L456.7 239L456.7 238.9L455.6 237.8L455.3 237.5L454.4 236.9L453.3 236.2L453.3 236.1L452.2 235.5L451 235L450.3 234.8L449.9 234.6L448.7 234.3L447.6 234.1L446.4 233.8L445.3 233.6L444.7 233.4L444.1 233.3L443 233L441.9 232.7L440.7 232.5L439.6 232.5L438.4 232.6L437.3 232.9L436.3 233.4L436.1 233.5L435 234.2L434.3 234.8L433.8 235.3L433.1 236.2L432.7 236.9L432.3 237.5L431.8 238.9L431.6 239.8L431.4 240.3L431.2 241.6L431.1 243L431.1 244.4L431.2 245.8L431.4 247.1L431.6 248L431.7 248.5L432 249.9L432.5 251.3L432.7 251.7L433.1 252.6L433.8 253.8L434 254L435 255.3L435.1 255.4L436.1 256.5L436.5 256.8L437.3 257.4L438.4 258.1L438.4 258.1L439.6 258.8L440.7 259.2L441.5 259.5ZM402.9 255.4L404.1 256.3L405.2 256.6L406.4 256.7L407.5 256.4L408.7 255.8L409.2 255.4L409.8 254.7L410.3 254L410.7 252.6L410.7 251.3L410.1 249.9L409.8 249.6L408.7 248.8L408.1 248.5L407.5 248.4L406.4 248.3L405.4 248.5L405.2 248.5L404.1 249.2L403.2 249.9L402.9 250.2L402.3 251.3L402 252.6L402.1 254L402.9 255.4Z" fill="#f8d6c4" fill-rule="evenodd"/>
<path d="M297.7 254.2L298.8 254.7L299.9 255L301.1 255.1L302.2 255L303.4 254.8L304.5 254.4L305.6 254L305.7 254L306.8 253.4L308 252.9L308.4 252.6L309.1 252.3L310.2 251.6L310.9 251.3L311.4 251L312.5 250.4L313.3 249.9L313.7 249.7L314.8 248.9L315.4 248.5L316 248.1L317.1 247.1L317.1 247.1L318.3 245.9L318.3 245.8L319.3 244.4L319.4 244.2L320 243L320.5 241.6L320.5 241.6L320.9 240.3L321 238.9L321 237.5L320.8 236.2L320.5 235L320.5 234.8L319.9 233.4L319.4 232.6L319 232L318.3 231.3L317.5 230.7L317.1 230.4L316 229.8L314.8 229.4L314 229.3L313.7 229.2L312.5 229.2L311.4 229.2L310.8 229.3L310.2 229.3L309.1 229.6L308 229.8L306.8 230.1L305.7 230.4L304.6 230.7L304.5 230.7L303.4 231L302.2 231.4L301.1 231.8L300.7 232L299.9 232.4L298.8 233L298.2 233.4L297.7 233.8L296.5 234.8L296.5 234.8L295.4 236.2L295.4 236.2L294.5 237.5L294.2 238.1L293.9 238.9L293.4 240.3L293.1 241.6L293.1 242L292.9 243L292.9 244.4L293 245.8L293.1 246.6L293.2 247.1L293.5 248.5L294 249.9L294.2 250.3L294.7 251.3L295.4 252.2L295.8 252.6L296.5 253.4L297.4 254ZM500.2 250.3L500.2 249.9L500.2 248.5L500.2 247.1L500.2 245.8L500.2 244.4L500.2 243L500.2 241.6L500.2 240.3L500.2 238.9L500.2 238.1L499.9 238.9L499.4 240.3L499.1 241.6L499.1 242L498.9 243L498.9 244.4L499 245.8L499.1 246.6L499.2 247.1L499.5 248.5L500 249.9ZM443 248.6L444.1 248.7L445.3 248.7L445.9 248.5L446.4 248.2L447.2 247.1L447 245.8L446.4 244.8L446.3 244.4L445.5 243L445.3 242.8L444.8 241.6L444.1 240.5L444 240.3L443.2 238.9L443 238.7L441.9 237.5L441.8 237.5L440.7 236.8L439.6 236.5L438.4 236.5L437.3 236.9L436.4 237.5L436.1 237.9L435.5 238.9L435 240.3L435 241.4L435 241.6L435 241.7L435.2 243L435.8 244.4L436.1 245L436.8 245.8L437.3 246.3L438.4 247.1L438.5 247.1L439.6 247.7L440.7 248.1L441.9 248.4L442.7 248.5Z" fill="#ec9e82" fill-rule="evenodd"/>
</g>
<g clip-path="url(#clipmf)" fill="none" stroke-linejoin="round">
<path d="M386.9 233.6L386.5 233.4L385.8 232.5L385.5 232L385.4 230.7L385.8 229.7L385.9 229.3L386.6 227.9L386.9 227.5L387.6 226.5L388.1 226.2L389.2 225.5L389.9 225.2L390.4 225.1L391.5 224.9L392.6 224.9L393.8 225L394.9 225.2L395 225.2L396.1 225.4L397.2 225.8L398.4 226.1L399.5 226.5L399.6 226.5L400.7 227.4L401.5 227.9L401.5 229.3L400.7 229.8L399.5 230.7L399.5 230.7L398.4 231.3L397.4 232L397.2 232.1L396.1 232.9L395.2 233.4L394.9 233.5L393.8 234L392.6 234.3L391.5 234.5L390.4 234.6L389.2 234.4L388.1 234.1L386.9 233.6M384.6 240.4L384.2 240.3L383.5 240.1L382.3 239.7L381.2 239.3L380.2 238.9L380.1 238.8L378.9 238.4L377.8 238L376.6 237.8L375.5 237.6L374.3 237.6L373.2 237.7L372 237.9L370.9 238L369.8 238L368.6 237.7L368.3 237.5L367.5 237L366.8 236.2L366.3 235.5L366 234.8L365.4 233.4L365.2 232.6L365 232L364.8 230.7L364.8 229.3L364.9 227.9L365.1 226.5L365.2 226.3L365.5 225.2L365.9 223.8L366.3 222.7L366.5 222.4L367.2 221L367.5 220.7L368.6 219.7L368.8 219.7L369.8 219.3L370.9 219.2L372 219.1L373.2 219.1L374.3 219.1L375.5 219L376.6 218.8L377.8 218.4L378.1 218.3L378.9 218.1L380.1 217.8L381.2 217.7L382.3 217.7L383.5 217.8L384.6 218L385.7 218.3L385.8 218.3L386.9 218.6L388.1 218.9L389.2 219.1L390.4 219.4L391.5 219.7L391.5 219.7L392.6 219.9L393.8 220.1L394.9 220.3L396.1 220.5L397.2 220.7L398.4 220.9L399.4 221L399.5 221.1L400.7 221.3L401.8 221.5L402.9 221.8L404.1 222L405.2 222.1L406.4 222.3L407.5 222.4L407.7 222.4L408.7 222.5L409.8 222.7L411 222.9L412.1 223.2L413.2 223.7L413.4 223.8L414.4 224.7L414.7 225.2L415.1 226.5L415.1 227.9L414.8 229.3L414.4 230.7L414.4 230.7L413.7 232L413.2 232.7L412.7 233.4L412.1 234L411.2 234.8L411 234.9L409.8 235.4L408.7 235.8L407.5 236.1L407.5 236.2L406.4 236.4L405.2 236.6L404.1 236.9L402.9 237.3L402.4 237.5L401.8 237.7L400.7 238.2L399.5 238.7L399.1 238.9L398.4 239.2L397.2 239.6L396.1 240L395.2 240.3L394.9 240.3L393.8 240.6L392.6 240.7L391.5 240.9L390.4 240.9L389.2 241L388.1 240.9L386.9 240.8L385.8 240.6ZM382.3 243.2L381.7 243L381.2 242.9L380.1 242.5L378.9 242.2L377.8 241.9L376.6 241.6L376.6 241.6L375.5 241.5L374.3 241.4L373.2 241.5L372 241.6L371.2 241.6L370.9 241.7L369.8 241.7L369.6 241.6L368.6 241.5L367.5 241L366.5 240.3L366.3 240.1L365.4 238.9L365.2 238.5L364.7 237.5L364.1 236.2L364 236L363.6 234.8L363.2 233.4L362.9 232.1L362.9 232L362.6 230.7L362.5 229.3L362.6 227.9L362.8 226.5L362.9 226.3L363.2 225.2L363.5 223.8L363.9 222.4L364 222L364.4 221L364.9 219.7L365.2 219.1L365.7 218.3L366.3 217.4L366.9 216.9L367.5 216.5L368.6 216.1L369.8 215.8L370.9 215.7L372 215.6L372.9 215.6L373.2 215.5L374.3 215.4L375.5 215.2L376.6 214.9L377.8 214.6L378.9 214.2L379 214.2L380.1 214L381.2 213.8L382.3 213.7L383.5 213.6L384.6 213.6L385.8 213.7L386.9 213.8L388.1 213.9L389.2 214.1L389.6 214.2L390.4 214.4L391.5 214.8L392.6 215.2L393.7 215.6L393.8 215.6L394.9 216.1L396.1 216.5L397.1 216.9L397.2 217L398.4 217.4L399.5 217.8L400.7 218.1L401.4 218.3L401.8 218.4L402.9 218.7L404.1 218.9L405.2 219.1L406.4 219.2L407.5 219.3L408.7 219.4L409.8 219.5L411 219.6L412.1 219.7L412.1 219.7L413.2 219.9L414.4 220.1L415.5 220.5L416.6 221L416.7 221.1L417.8 222.1L418.1 222.4L418.8 223.8L419 225.1L419 225.2L419 225.4L418.9 226.5L418.6 227.9L418.2 229.3L417.8 230.5L417.8 230.7L417.2 232L416.7 233.2L416.6 233.4L415.9 234.8L415.5 235.3L414.9 236.2L414.4 236.7L413.5 237.5L413.2 237.7L412.1 238.4L411 238.9L411 238.9L409.8 239.3L408.7 239.6L407.5 239.9L406.4 240.2L406 240.3L405.2 240.5L404.1 240.9L402.9 241.3L402.1 241.6L401.8 241.7L400.7 242.1L399.5 242.5L398.4 242.9L397.9 243L397.2 243.2L396.1 243.4L394.9 243.7L393.8 243.9L392.6 244L391.5 244.1L390.4 244.2L389.2 244.2L388.1 244.2L386.9 244.1L385.8 243.9L384.6 243.7L383.5 243.5L382.3 243.2M382.3 245.9L381.9 245.8L381.2 245.6L380.1 245.3L378.9 245L377.8 244.7L376.6 244.5L375.5 244.4L375.5 244.4L374.3 244.4L373.3 244.4L373.2 244.4L372 244.5L370.9 244.6L369.8 244.7L368.6 244.6L367.9 244.4L367.5 244.3L366.3 243.6L365.7 243L365.2 242.4L364.6 241.6L364 240.6L363.9 240.3L363.3 238.9L362.9 237.9L362.8 237.5L362.3 236.2L361.9 234.8L361.7 234.2L361.5 233.4L361.2 232L360.9 230.7L360.8 229.3L360.9 227.9L361.1 226.5L361.4 225.2L361.7 223.9L361.8 223.8L362.2 222.4L362.5 221L362.9 219.7L362.9 219.7L363.4 218.3L364 216.9L364 216.9L364.9 215.6L365.2 215.2L366.3 214.2L366.3 214.2L367.5 213.6L368.6 213.3L369.8 213.2L370.9 213.2L372 213.1L373.2 213.1L374.3 213L375.4 212.8L375.5 212.8L376.6 212.6L377.8 212.3L378.9 212.1L380.1 211.8L381.2 211.6L382.1 211.4L382.3 211.4L383.5 211.2L384.6 211.1L385.8 211L386.9 210.9L388.1 210.9L389.2 210.9L390.4 211L391.5 211.2L392.6 211.4L392.7 211.4L393.8 211.8L394.9 212.2L396.1 212.7L396.2 212.8L397.2 213.4L398.4 214L398.7 214.2L399.5 214.6L400.7 215.2L401.5 215.6L401.8 215.7L402.9 216L404.1 216.3L405.2 216.6L406.4 216.7L407.5 216.8L408.7 216.9L409 216.9L409.8 217L411 217.1L412.1 217.2L413.2 217.3L414.4 217.5L415.5 217.7L416.7 218.1L417.3 218.3L417.8 218.5L419 219.1L419.8 219.7L420.1 220L421 221L421.3 221.5L421.6 222.4L421.8 223.8L421.8 225.2L421.6 226.5L421.3 227.7L421.2 227.9L420.8 229.3L420.3 230.7L420.1 231.2L419.8 232L419.3 233.4L419 234.2L418.7 234.8L418.2 236.2L417.8 236.9L417.5 237.5L416.7 238.8L416.6 238.9L415.5 240.1L415.3 240.3L414.4 241L413.2 241.6L413.1 241.6L412.1 242L411 242.4L409.8 242.7L408.7 243L408.6 243L407.5 243.3L406.4 243.6L405.2 243.9L404.1 244.2L403.5 244.4L402.9 244.5L401.8 244.8L400.7 245.1L399.5 245.4L398.4 245.7L397.9 245.8L397.2 245.9L396.1 246.1L394.9 246.3L393.8 246.5L392.6 246.6L391.5 246.7L390.4 246.7L389.2 246.8L388.1 246.7L386.9 246.7L385.8 246.5L384.6 246.4L383.5 246.1ZM384.6 248.7L383.6 248.5L383.5 248.5L382.3 248.2L381.2 248L380.1 247.7L378.9 247.4L377.8 247.2L377.6 247.1L376.6 247L375.5 246.9L374.3 246.9L373.2 247L372 247.1L372 247.1L370.9 247.3L369.8 247.5L368.6 247.5L367.5 247.3L367.1 247.1L366.3 246.8L365.2 245.9L365 245.8L364 244.5L363.9 244.4L363.2 243L362.9 242.5L362.5 241.6L362 240.3L361.7 239.6L361.5 238.9L361.1 237.5L360.7 236.2L360.6 235.7L360.3 234.8L360 233.4L359.6 232L359.5 231.3L359.3 230.7L359.2 229.3L359.3 227.9L359.5 226.9L359.5 226.5L359.8 225.2L360.2 223.8L360.6 222.4L360.6 222.3L360.9 221L361.3 219.7L361.7 218.3L361.7 218L362.1 216.9L362.7 215.6L362.9 215.1L363.4 214.2L364 213.3L364.5 212.8L365.2 212.2L366.3 211.4L366.4 211.4L367.5 211L368.6 210.8L369.8 210.8L370.9 210.8L372 210.9L373.2 210.9L374.3 210.9L375.5 210.8L376.6 210.6L377.8 210.4L378.9 210.2L379.5 210.1L380.1 209.9L381.2 209.6L382.3 209.4L383.5 209.1L384.6 208.9L385.8 208.7L385.8 208.7L386.9 208.5L388.1 208.4L389.2 208.4L390.4 208.4L391.5 208.5L392.5 208.7L392.6 208.7L393.8 209L394.9 209.3L396.1 209.8L396.8 210.1L397.2 210.3L398.4 210.9L399.4 211.4L399.5 211.5L400.7 212.2L401.8 212.8L401.8 212.8L402.9 213.4L404.1 213.8L405.2 214.1L405.7 214.2L406.4 214.3L407.5 214.5L408.7 214.6L409.8 214.7L411 214.8L412.1 214.9L413.2 215.1L414.4 215.2L415.5 215.4L416 215.6L416.7 215.7L417.8 216.1L419 216.5L420 216.9L420.1 217L421.3 217.6L422.3 218.3L422.4 218.4L423.5 219.6L423.6 219.7L424.2 221L424.4 222.4L424.4 223.8L424.2 225.2L423.9 226.5L423.5 227.7L423.5 227.9L423 229.3L422.6 230.7L422.4 231.1L422.1 232L421.6 233.4L421.3 234.6L421.2 234.8L420.8 236.2L420.4 237.5L420.1 238.5L420 238.9L419.5 240.3L419 241.3L418.7 241.6L417.8 242.7L417.5 243L416.7 243.6L415.5 244.2L415 244.4L414.4 244.6L413.2 245L412.1 245.3L411 245.6L410 245.8L409.8 245.8L408.7 246.1L407.5 246.3L406.4 246.5L405.2 246.8L404.1 247L403.5 247.1L402.9 247.3L401.8 247.5L400.7 247.7L399.5 247.9L398.4 248.1L397.2 248.3L396.1 248.5L395.8 248.5L394.9 248.6L393.8 248.8L392.6 248.9L391.5 249L390.4 249.1L389.2 249.1L388.1 249.1L386.9 249L385.8 248.9ZM388.1 251.3L387 251.3L386.9 251.3L385.8 251.1L384.6 251L383.5 250.8L382.3 250.5L381.2 250.3L380.1 250L379.8 249.9L378.9 249.7L377.8 249.5L376.6 249.3L375.5 249.3L374.3 249.3L373.2 249.5L372 249.7L371.4 249.9L370.9 250L369.8 250.3L368.6 250.5L367.5 250.5L366.3 250.1L365.9 249.9L365.2 249.5L364.2 248.5L364 248.3L363.2 247.1L362.9 246.7L362.4 245.8L361.7 244.4L361.7 244.4L361.2 243L360.7 241.6L360.6 241.3L360.3 240.3L359.9 238.9L359.5 237.5L359.5 237.3L359.1 236.2L358.8 234.8L358.4 233.4L358.3 233.1L358 232L357.7 230.7L357.6 229.3L357.7 227.9L357.9 226.5L358.3 225.2L358.3 225L358.6 223.8L359 222.4L359.4 221L359.5 220.7L359.7 219.7L360 218.3L360.4 216.9L360.6 216.4L360.9 215.6L361.4 214.2L361.7 213.5L362.1 212.8L362.9 211.6L363 211.4L364 210.2L364.2 210.1L365.2 209.3L366.3 208.7L366.3 208.7L367.5 208.3L368.6 208.2L369.8 208.2L370.9 208.3L372 208.5L373.2 208.6L374.1 208.7L374.3 208.7L374.8 208.7L375.5 208.7L376.6 208.5L377.8 208.3L378.9 208L380.1 207.7L381.2 207.4L381.6 207.3L382.3 207.1L383.5 206.7L384.6 206.5L385.8 206.3L386.9 206.1L388.1 206L389.2 206L390.4 206L391.5 206.1L392.6 206.3L393.8 206.5L394.9 206.7L396.1 207.1L396.7 207.3L397.2 207.5L398.4 208L399.5 208.5L399.8 208.7L400.7 209.1L401.8 209.8L402.3 210.1L402.9 210.4L404.1 210.9L405.2 211.4L405.4 211.4L406.4 211.7L407.5 212L408.7 212.2L409.8 212.3L411 212.5L412.1 212.7L413 212.8L413.2 212.8L414.4 213L415.5 213.3L416.7 213.5L417.8 213.9L418.7 214.2L419 214.3L420.1 214.7L421.3 215.1L422.4 215.5L422.5 215.6L423.5 216L424.7 216.5L425.5 216.9L425.8 217.2L426.8 218.3L427 218.8L427.3 219.7L427.3 221L427.2 222.4L427 223.6L426.9 223.8L426.6 225.2L426.2 226.5L425.8 227.6L425.7 227.9L425.3 229.3L424.8 230.7L424.7 230.9L424.3 232L423.9 233.4L423.5 234.7L423.5 234.8L423.3 236.2L423 237.5L422.9 238.9L422.8 240.3L422.7 241.6L422.7 243L422.7 244.4L422.5 245.8L422.4 246.1L421.3 247.1L421.2 247.1L420.1 247.3L419 247.3L417.8 247.3L416.7 247.4L415.5 247.5L414.4 247.7L413.2 247.9L412.1 248.1L411 248.3L410 248.5L409.8 248.5L408.7 248.8L407.5 249L406.4 249.2L405.2 249.4L404.1 249.6L402.9 249.8L402.2 249.9L401.8 249.9L400.7 250.1L399.5 250.2L398.4 250.4L397.2 250.6L396.1 250.7L394.9 250.9L393.8 251.1L392.6 251.2L391.5 251.3L391.5 251.3L390.4 251.3L389.2 251.3L388.1 251.3M400.3 205.9L400.7 206.1L401.8 206.6L402.9 207.2L403.2 207.3L404.1 207.8L405.2 208.3L406.3 208.7L406.4 208.7L407.5 209.1L408.7 209.4L409.8 209.7L411 210L411.2 210.1L412.1 210.2L413.2 210.5L414.4 210.7L415.5 211L416.7 211.3L417.1 211.4L417.8 211.7L419 212.1L420.1 212.5L421.2 212.8L421.3 212.8L422.4 213.1L423.5 213.3L424.7 213.4L425.8 213.4L427 213.3L428.1 213L428.8 212.8L429.3 212.7L430.4 212.2L431.6 211.5L431.8 211.4L432.7 211L433.8 210.5L434.8 210.1L435 210L436.1 209.8L437.3 209.6L438.4 209.7L439.6 209.9L439.9 210.1L440.7 210.7L441.3 211.4L441.8 212.8L441.5 214.2L440.7 215.2L440.4 215.6L439.6 216L438.4 216.3L437.3 216.4L436.1 216.6L435.2 216.9L435 217L433.8 217.6L433.1 218.3L432.7 218.6L431.9 219.7L431.6 220.1L431 221L430.4 222.2L430.3 222.4L429.7 223.8L429.3 225L429.2 225.2L428.7 226.5L428.1 227.9L428.1 227.9L427.6 229.3L427.1 230.7L427 231.1L426.7 232L426.3 233.4L426 234.8L425.8 235.6L425.8 236.2L425.7 237.5L425.7 238.9L425.7 240.3L425.8 240.9L425.9 241.6L426.2 243L426.5 244.4L427 245.8L427 245.8L427.4 247.1L427.6 248.5L427.7 249.9L427.3 251.3L427 251.8L426.1 252.6L425.8 252.8L424.7 253L423.5 252.9L422.4 252.6L422.4 252.6L421.3 252.1L420.1 251.6L419.2 251.3L419 251.2L417.8 250.8L416.7 250.6L415.5 250.5L414.4 250.6L413.2 250.7L412.1 250.8L411 251.1L410.1 251.3L409.8 251.3L408.7 251.6L407.5 251.9L406.4 252.1L405.2 252.3L404.1 252.4L402.9 252.4L401.8 252.5L400.7 252.6L399.8 252.6L399.5 252.7L398.4 252.8L397.2 252.9L396.1 253.1L394.9 253.3L393.8 253.4L392.6 253.5L391.5 253.6L390.4 253.7L389.2 253.7L388.1 253.7L386.9 253.7L385.8 253.6L384.6 253.4L383.5 253.2L382.3 253L381.2 252.7L381 252.6L380.1 252.4L378.9 252.1L377.8 251.9L376.6 251.8L375.5 251.8L374.3 252L373.2 252.2L372 252.6L372 252.6L370.9 253.1L369.8 253.6L368.6 253.9L368 254L367.5 254.1L366.9 254L366.3 253.9L365.2 253.4L364.3 252.6L364 252.4L363.1 251.3L362.9 251L362.2 249.9L361.7 249.1L361.5 248.5L360.8 247.1L360.6 246.6L360.3 245.8L359.8 244.4L359.5 243.5L359.3 243L358.9 241.6L358.5 240.3L358.3 239.4L358.2 238.9L357.8 237.5L357.5 236.2L357.2 235.1L357.1 234.8L356.7 233.4L356.3 232L356 230.7L356 230.4L355.9 229.3L356 227.9L356 227.6L356.2 226.5L356.5 225.2L356.9 223.8L357.2 223L357.3 222.4L357.7 221L358 219.7L358.3 218.4L358.3 218.3L358.7 216.9L359.1 215.6L359.5 214.4L359.5 214.2L360.1 212.8L360.6 211.6L360.7 211.4L361.4 210.1L361.7 209.5L362.4 208.7L362.9 208L363.5 207.3L364 206.8L365.2 205.9M407.9 205.9L408.7 206.2L409.8 206.6L411 207L411.9 207.3L412.1 207.4L413.2 207.7L414.4 208L415.5 208.3L416.6 208.7L416.7 208.7L417.8 209.1L419 209.6L420.1 210L420.2 210.1L421.3 210.4L422.4 210.6L423.5 210.7L424.7 210.5L425.8 210.2L426.1 210.1L427 209.7L428.1 209.1L428.8 208.7L429.3 208.4L430.4 207.9L431.6 207.3L431.6 207.3L432.7 206.9L433.8 206.5L435 206.2L436.1 206L436.7 205.9M439 205.9L439.6 206L440.7 206.3L441.9 206.7L443 207.3L443 207.3L444.1 208.3L444.5 208.7L445.3 209.9L445.4 210.1L445.9 211.4L446 212.8L445.7 214.2L445.3 215.4L445.2 215.6L444.3 216.9L444.1 217.1L443 218.2L442.9 218.3L441.9 219L440.7 219.5L440.1 219.7L439.6 219.8L438.4 219.8L437.3 219.8L436.1 220L435 220.6L434.5 221L433.8 221.7L433.3 222.4L432.7 223.4L432.5 223.8L431.8 225.2L431.6 225.8L431.2 226.5L430.7 227.9L430.4 228.7L430.2 229.3L429.7 230.7L429.3 232L429.3 232L428.9 233.4L428.6 234.8L428.4 236.2L428.4 237.5L428.4 238.9L428.5 240.3L428.7 241.6L428.9 243L429.3 244.3L429.3 244.4L429.7 245.8L430 247.1L430.4 248.5L430.4 248.9L430.5 249.9L430.5 251.3L430.4 251.7L430.2 252.6L429.6 254L429.3 254.4L428.3 255.4L428.1 255.5L427 256L425.8 256.3L424.7 256.3L423.5 256.1L422.4 255.8L421.4 255.4L421.3 255.3L420.1 254.8L419 254.3L418.2 254L417.8 253.9L416.7 253.6L415.5 253.5L414.4 253.5L413.2 253.6L412.1 253.8L411.3 254L411 254.1L409.8 254.4L408.7 254.7L407.5 254.9L406.4 255.1L405.2 255.2L404.1 255.2L402.9 255.2L401.8 255.2L400.7 255.3L399.5 255.3L398.7 255.4L398.4 255.4L397.2 255.6L396.1 255.8L394.9 256L393.8 256.1L392.6 256.3L391.5 256.4L390.4 256.4L389.2 256.5L388.1 256.5L386.9 256.4L385.8 256.3L384.6 256.2L383.5 256L382.3 255.8L381.2 255.6L380.2 255.4L380.1 255.4L378.9 255.1L377.8 255L376.6 254.9L375.5 255.1L374.3 255.4L374.3 255.4L373.2 255.9L372 256.5L371.7 256.8L370.9 257.3L369.8 258L369.5 258.1L368.6 258.7L367.5 259.1L366.3 259.1L365.2 258.7L364.6 258.1L364 257.7L363.3 256.8L362.9 256.2L362.3 255.4L361.7 254.5L361.5 254L360.7 252.6L360.6 252.4L360.1 251.3L359.5 249.9L359.5 249.8L359 248.5L358.5 247.1L358.3 246.6L358 245.8L357.6 244.4L357.2 243L357.2 242.8L356.9 241.6L356.5 240.3L356.2 238.9L356 238.2L355.9 237.5L355.5 236.2L355.1 234.8L354.9 233.9L354.7 233.4L354.4 232L354.1 230.7L354 229.3L354.1 227.9L354.3 226.5L354.6 225.2L354.9 224L354.9 223.8L355.3 222.4L355.7 221L356 219.7L356 219.6L356.3 218.3L356.6 216.9L357 215.6L357.2 215.1L357.4 214.2L357.9 212.8L358.3 211.6L358.4 211.4L358.9 210.1L359.5 209L359.6 208.7L360.3 207.3L360.6 206.7L361.1 205.9M361.6 263.6L361.2 262.2L360.8 260.9L360.6 260.4L360.3 259.5L359.7 258.1L359.5 257.6L359.1 256.8L358.5 255.4L358.3 255L357.9 254L357.3 252.6L357.2 252.1L356.9 251.3L356.4 249.9L356 248.5L356 248.5L355.6 247.1L355.2 245.8L354.9 244.4L354.9 244.3L354.5 243L354.2 241.6L353.9 240.3L353.7 239.4L353.6 238.9L353.3 237.5L353 236.2L352.7 234.8L352.6 234.3L352.4 233.4L352.1 232L351.9 230.7L351.8 229.3L351.8 227.9L351.9 226.5L352.2 225.2L352.4 223.8L352.6 223.1L352.7 222.4L353 221L353.3 219.7L353.6 218.3L353.7 217.7L353.9 216.9L354.2 215.6L354.6 214.2L354.9 213.2L355 212.8L355.4 211.4L355.9 210.1L356 209.7L356.4 208.7L356.9 207.3L357.2 206.6L357.4 205.9M418.8 205.9L419 206L420.1 206.6L421.3 207L422.4 207.3L423.5 207.2L424.7 206.8L425.8 206.1L426.2 205.9M447.5 205.9L447.6 206.1L448.5 207.3L448.7 207.7L449.2 208.7L449.7 210.1L449.8 211.4L449.8 212.8L449.5 214.2L449.1 215.6L448.7 216.3L448.4 216.9L447.6 218.1L447.5 218.3L446.4 219.5L446.3 219.7L445.3 220.5L444.6 221L444.1 221.4L443 222.1L442.4 222.4L441.9 222.7L440.7 223L439.6 223L438.4 222.8L437.3 222.7L436.1 222.9L435 223.7L434.9 223.8L433.9 225.2L433.8 225.3L433.3 226.5L432.8 227.9L432.7 228.1L432.3 229.3L431.9 230.7L431.6 232L431.6 232.1L431.3 233.4L431 234.8L430.9 236.2L430.8 237.5L430.8 238.9L430.8 240.3L430.9 241.6L431 243L431.3 244.4L431.6 245.7L431.6 245.8L431.9 247.1L432.1 248.5L432.4 249.9L432.5 251.3L432.5 252.6L432.4 254L432.1 255.4L431.6 256.7L431.5 256.8L430.5 258.1L430.4 258.2L429.3 259L428.1 259.4L427.5 259.5L427 259.6L425.8 259.7L424.7 259.6L424 259.5L423.5 259.4L422.4 259.1L421.3 258.6L420.3 258.1L420.1 258.1L419 257.6L417.8 257.1L416.7 256.8L416 256.8L415.5 256.7L414.4 256.7L414.2 256.8L413.2 256.9L412.1 257.1L411 257.3L409.8 257.4L408.7 257.6L407.5 257.7L406.4 257.9L405.2 258L404.3 258.1L404.1 258.2L402.9 258.3L401.8 258.5L400.7 258.6L399.5 258.8L398.4 259L397.2 259.2L396.1 259.4L395.7 259.5L394.9 259.6L393.8 259.8L392.6 260L391.5 260.1L390.4 260.2L389.2 260.2L388.1 260.2L386.9 260.2L385.8 260.1L384.6 260L383.5 259.9L382.3 259.8L381.2 259.6L380.1 259.5L380 259.5L378.9 259.5L377.8 259.5L377.8 259.5L376.6 259.7L375.5 260.1L374.3 260.8L374.2 260.9L373.2 261.8L372.7 262.2L372 263L371.6 263.6" stroke="#3b4a8f" stroke-width="1.2" stroke-dasharray="3 1.3"/>
<path d="M282.8 262.5L283.9 262.8L285.1 263.2L285.9 263.6M313.7 263.6L314.8 263.2L316 262.6L316.7 262.2L317.1 262.1L318.3 261.4L319.1 260.9L319.4 260.7L320.5 259.9L321.1 259.5L321.7 259L322.7 258.1L322.8 258L324 256.9L324.2 256.8L325.1 255.8L325.5 255.4L326.3 254.7L327.1 254L327.4 253.7L328.6 253.1L329.7 253.2L330.4 254L330.8 254.9L331 255.4L331.1 256.8L331.3 258.1L331.5 259.5L331.9 260.9L332 261L332.6 262.2L333.1 263L333.6 263.6M344.1 263.6L344.6 262.5L344.7 262.2L345.1 260.9L345.4 259.5L345.6 258.1L345.7 257.7L345.9 256.8L346.1 255.4L346.4 254L346.6 252.6L346.8 251.3L346.9 251.1L347 249.9L347.1 248.5L347.1 247.1L347.1 245.8L347.1 244.4L347.1 243L347 241.6L346.9 240.3L346.9 239L346.9 238.9L346.8 237.5L346.7 236.2L346.7 234.8L346.6 233.4L346.5 232L346.4 230.7L346.3 229.3L346.2 227.9L346.1 226.5L345.9 225.2L345.8 223.8L345.7 223.1L345.6 222.4L345.4 221L345.2 219.7L344.9 218.3L344.6 216.9L344.6 216.8L344.2 215.6L343.7 214.2L343.4 213.6L343 212.8L342.3 211.7L341.9 211.4L341.1 210.9L340 210.9L338.9 211.3L338.7 211.4L337.7 212.1L336.6 212.8L336.6 212.8L335.4 213.6L334.3 214.2L334.3 214.2L333.1 214.6L332 214.8L330.8 214.6L329.9 214.2L329.7 214.1L328.6 213.5L327.4 212.9L327.3 212.8L326.3 212.3L325.1 211.8L324.2 211.4L324 211.4L322.8 211L321.7 210.7L320.5 210.4L319.5 210.1L319.4 210L318.3 209.7L317.1 209.3L316 208.9L314.8 208.7L314.8 208.7L313.7 208.5L312.5 208.5L311.4 208.6L311 208.7L310.2 208.9L309.1 209.2L308 209.7L307.2 210.1L306.8 210.3L305.7 210.9L304.9 211.4L304.5 211.7L303.4 212.5L302.9 212.8L302.2 213.3L301.2 214.2L301.1 214.3L299.9 215.2L299.4 215.6L298.8 216.1L297.7 216.9L297.7 216.9L296.5 217.8L295.8 218.3L295.4 218.6L294.2 219.4L293.9 219.7L293.1 220.2L291.9 221L291.9 221.1L290.8 221.8L289.9 222.4L289.6 222.6L288.5 223.3L287.4 223.8L287.4 223.8L286.2 224.2L285.1 224.3L283.9 224.3L282.8 224.2M500.2 219.4L499.9 219.7L499.1 220.2L497.9 221L497.9 221.1L496.8 221.8L495.9 222.4L495.6 222.6L494.5 223.3L493.4 223.8L493.4 223.8L492.2 224.2L491.1 224.3L489.9 224.3L488.8 224.2L487.6 223.9L487.2 223.8L486.5 223.5L485.3 223L484.2 222.7L483.1 222.6L481.9 223.4L481.7 223.8L480.8 225L480.7 225.2L479.7 226.5L479.6 226.6L478.5 227.6L477.9 227.9L477.3 228.1L476.2 228.2L475.6 227.9L475 227.6L474 226.5L473.9 226.4L473.2 225.2L472.8 223.8L472.8 223.6L472.5 222.4L472.2 221L472 219.7L471.8 218.3L471.6 217.4L471.4 216.9L470.5 215.7L470.1 215.6L469.3 215.2L468.2 215L467 214.9L465.9 214.9L464.7 215L463.6 215.1L462.5 215.2L461.3 215.5L461 215.6L460.2 215.9L459 216.5L458.5 216.9L457.9 217.6L457.3 218.3L456.7 219.2L456.4 219.7L455.7 221L455.6 221.2L454.9 222.4L454.4 223.1L453.9 223.8L453.3 224.5L452.7 225.2L452.2 225.7L451.1 226.5L451 226.6L449.9 227.2L448.7 227.8L448.5 227.9L447.6 228.2L446.4 228.7L445.3 229.2L445 229.3L444.1 229.6L443 230.1L441.9 230.7L441.8 230.7L440.7 230.9L440.1 230.7L439.6 230.5L438.4 229.5L438.1 229.3L437.3 228.7L436.1 228.8L435.7 229.3L435 230.3L434.9 230.7L434.4 232L434 233.4L433.8 234.4L433.8 234.8L433.6 236.2L433.5 237.5L433.4 238.9L433.4 240.3L433.4 241.6L433.5 243L433.6 244.4L433.8 245.4L433.9 245.8L434.3 247.1L434.8 248.5L435 249.3L435.3 249.9L436 251.3L436.1 251.6L437.3 252.4L438.4 252.2L439.6 251.9L440.7 252.1L441.8 252.6L441.9 252.7L443 253.3L444.1 253.9L444.4 254L445.3 254.4L446.4 254.8L447.6 255.1L448.7 255.3L449.2 255.4L449.9 255.5L451 255.8L452.2 256.1L453.3 256.4L454.1 256.8L454.4 256.9L455.6 257.6L456.5 258.1L456.7 258.3L457.9 259.1L458.5 259.5L459 259.8L460.2 260.5L460.8 260.9L461.3 261.1L462.5 261.7L463.6 262.1L464.1 262.2L464.7 262.4L465.9 262.7L467 263L468.2 263.1L469.3 263.3L470.5 263.3L471.6 263.4L472.8 263.4L473.9 263.4L475 263.4L476.2 263.4L477.3 263.3L478.5 263.2L479.6 263.2L480.8 263.1L481.9 262.9L483.1 262.8L484.2 262.6L485.3 262.5L486.5 262.4L487.6 262.4L488.8 262.5L489.9 262.8L491.1 263.2L491.9 263.6M300.6 263.6L301.1 263.5L302.2 263.1L303.4 262.7L304.5 262.3L304.6 262.2L305.7 261.9L306.8 261.4L308 261L308.3 260.9L309.1 260.6L310.2 260.1L311.4 259.7L311.7 259.5L312.5 259.2L313.7 258.6L314.5 258.1L314.8 258L316 257.2L316.7 256.8L317.1 256.4L318.3 255.4L318.3 255.4L319.4 254.2L319.6 254L320.5 252.8L320.6 252.6L321.7 251.3L321.7 251.3L322.8 249.9L322.8 249.9L323.9 248.5L324 248.4L324.8 247.1L325.1 246.6L325.6 245.8L326.1 244.4L326.3 244L326.7 243L327.1 241.6L327.4 240.6L327.6 240.3L328.1 238.9L328.6 238L329 237.5L329.7 236.7L330.5 236.2L330.8 235.9L332 235.3L333.1 235L334.3 235.1L335.4 235.9L335.6 236.2L336.5 237.5L336.6 237.9L336.8 238.9L336.7 240.3L336.6 241.1L336.4 241.6L336.1 243L335.8 244.4L335.7 245.8L335.7 247.1L336 248.5L336.4 249.9L336.6 250.6L336.8 251.3L337.3 252.6L337.6 254L337.7 255.4L337.5 256.8L337.3 258.1L337.7 259.3L338.9 259.1L339.4 258.1L339.8 256.8L340 256.3L340.2 255.4L340.9 254L341.1 253.7L341.6 252.6L342.3 251.3L342.3 251.2L342.7 249.9L343 248.5L343.3 247.1L343.4 245.8L343.4 245.3L343.5 244.4L343.5 243L343.5 241.6L343.4 240.3L343.4 239.2L343.4 238.9L343.4 237.5L343.4 236.2L343.4 234.8L343.3 233.4L343.2 232L343 230.7L342.8 229.3L342.5 227.9L342.3 227.1L342.1 226.5L341.6 225.2L341.1 224.3L340.7 223.8L340 223L338.9 222.8L337.7 223.5L337.5 223.8L336.6 225L336.5 225.2L335.6 226.5L335.4 226.9L334.7 227.9L334.3 228.6L333.6 229.3L333.1 229.7L332 230.3L330.8 230.3L329.7 230L328.6 229.3L328.6 229.3L327.7 227.9L327.4 227.2L327.3 226.5L327.1 225.2L327.1 223.8L327.1 222.4L327 221L326.9 219.7L326.4 218.3L326.3 218L325.7 216.9L325.1 216.2L324.6 215.6L324 215.1L322.8 214.3L322.7 214.2L321.7 213.7L320.5 213.2L319.4 212.8L319.4 212.8L318.3 212.5L317.1 212.2L316 212L314.8 211.9L313.7 212L312.5 212.1L311.4 212.5L310.5 212.8L310.2 212.9L309.1 213.5L308.1 214.2L308 214.3L306.8 215.1L306.3 215.6L305.7 216.1L304.7 216.9L304.5 217.1L303.4 218.2L303.3 218.3L302.2 219.3L301.8 219.7L301.1 220.3L300.1 221L299.9 221.2L298.8 222.1L298.3 222.4L297.7 222.9L296.5 223.7L296.4 223.8L295.4 224.5L294.5 225.2L294.2 225.4L293.1 226.2L292.7 226.5L291.9 227.1L290.9 227.9L290.8 228L289.6 228.8L288.8 229.3L288.5 229.4L287.4 229.9L286.2 230.1L285.1 230.1L283.9 229.9L282.8 229.7M282.8 258.4L283.9 258.6L285.1 259.1L285.8 259.5L286.2 259.8L287.4 260.6L287.7 260.9L288.5 261.4L289.6 262.1L289.8 262.2L290.8 262.8L291.9 263.3L292.9 263.6M500.2 225.4L499.1 226.2L498.7 226.5L497.9 227.1L496.9 227.9L496.8 228L495.6 228.8L494.8 229.3L494.5 229.4L493.4 229.9L492.2 230.1L491.1 230.1L489.9 229.9L488.8 229.7L487.6 229.4L487.4 229.3L486.5 229.1L485.3 228.8L484.2 228.6L483.1 228.5L481.9 228.6L480.8 229.1L480.4 229.3L479.6 229.7L478.5 230.1L477.3 230.3L476.2 230.2L475 229.8L474.2 229.3L473.9 229L472.8 227.9L472.8 227.9L471.8 226.5L471.6 226.1L471.1 225.2L470.5 223.8L470.5 223.8L469.5 222.4L469.3 222.2L468.2 221.7L467 221.6L465.9 221.6L464.7 221.9L463.6 222.3L463.3 222.4L462.5 222.9L461.4 223.8L461.3 223.9L460.2 225L460.1 225.2L459 226.2L458.7 226.5L457.9 227.2L457.1 227.9L456.7 228.2L455.6 229L455.2 229.3L454.4 229.7L453.3 230.2L452.2 230.5L451.4 230.7L451 230.7L449.9 230.9L448.7 231.1L447.6 231.3L446.4 231.6L445.3 231.9L445.1 232L444.1 232.4L443 232.9L442.1 233.4L441.9 233.6L440.7 234L439.6 233.8L439 233.4L438.4 232.9L437.4 232L437.3 232L436.7 232L436.1 232.1L435.4 233.4L435 234.5L434.9 234.8L434.7 236.2L434.5 237.5L434.4 238.9L434.3 240.3L434.3 241.6L434.4 243L434.6 244.4L435 245.8L435 245.8L435.7 247.1L436.1 248L437.1 248.5L437.3 248.6L438 248.5L438.4 248.5L439.6 248.3L440.7 248.5L440.7 248.5L441.9 249.1L443 249.8L443.1 249.9L444.1 250.5L445.3 251.1L445.6 251.3L446.4 251.6L447.6 251.9L448.7 252L449.9 252.1L451 252.1L452.2 252.1L453.3 252L454.4 252L455.6 252.2L456.7 252.4L457.4 252.6L457.9 252.8L459 253.3L460.2 253.9L460.5 254L461.3 254.5L462.5 255.1L463 255.4L463.6 255.7L464.7 256.2L465.9 256.6L466.3 256.8L467 257L468.2 257.3L469.3 257.6L470.5 257.9L471.5 258.1L471.6 258.2L472.8 258.4L473.9 258.6L475 258.8L476.2 259L477.3 259.1L478.5 259.2L479.6 259.2L480.8 259.2L481.9 259.1L483.1 259L484.2 258.9L485.3 258.7L486.5 258.5L487.6 258.4L488.8 258.4L489.9 258.6L491.1 259.1L491.8 259.5L492.2 259.8L493.4 260.6L493.7 260.9L494.5 261.4L495.6 262.1L495.8 262.2L496.8 262.8L497.9 263.3L498.9 263.6M282.8 254.9L283.9 254.9L285.1 255.2L285.4 255.4L286.2 255.9L287 256.8L287.4 257.1L288.3 258.1L288.5 258.3L289.6 259.4L289.8 259.5L290.8 260.3L291.8 260.9L291.9 260.9L293.1 261.4L294.2 261.8L295.4 262L296.5 262L297.7 262L298.8 261.8L299.9 261.4L301.1 261L301.4 260.9L302.2 260.5L303.4 260L304.5 259.5L304.5 259.5L305.7 259L306.8 258.5L307.6 258.1L308 258L309.1 257.4L310.2 256.9L310.4 256.8L311.4 256.2L312.5 255.4L312.6 255.4L313.7 254.6L314.3 254L314.8 253.6L315.8 252.6L316 252.4L317 251.3L317.1 251.1L318.2 249.9L318.3 249.8L319.4 248.6L319.5 248.5L320.5 247.2L320.6 247.1L321.6 245.8L321.7 245.5L322.3 244.4L322.7 243L322.8 242.6L323 241.6L323.2 240.3L323.3 238.9L323.3 237.5L323.3 236.2L323.2 234.8L323.1 233.4L323 232L322.8 231L322.8 230.7L322.7 229.3L322.6 227.9L322.6 226.5L322.7 225.2L322.8 224.1L322.9 223.8L323 222.4L322.9 221L322.8 220.5L322.7 219.7L322.1 218.3L321.7 217.7L321 216.9L320.5 216.6L319.4 215.9L318.7 215.6L318.3 215.4L317.1 215.1L316 215L314.8 215L313.7 215.2L312.5 215.5L312.4 215.6L311.4 216.1L310.2 216.8L310.1 216.9L309.1 217.7L308.5 218.3L308 218.8L307.1 219.7L306.8 220L305.9 221L305.7 221.3L304.6 222.4L304.5 222.5L303.4 223.7L303.3 223.8L302.2 224.7L301.6 225.2L301.1 225.5L299.9 226.2L299.3 226.5L298.8 226.8L297.7 227.4L296.8 227.9L296.5 228.1L295.4 228.8L294.8 229.3L294.2 229.7L293.2 230.7L293.1 230.8L291.9 232L291.9 232L290.9 233.4L290.8 233.6L290 234.8L289.6 235.5L289.3 236.2L288.7 237.5L288.5 238L288 238.9L287.4 240.1L287.2 240.3L286.2 241.1L285.1 241.4L283.9 241.1L282.8 240.5M500.2 229.7L499.2 230.7L499.1 230.8L497.9 232L497.9 232L496.9 233.4L496.8 233.6L496 234.8L495.6 235.5L495.3 236.2L494.7 237.5L494.5 238L494 238.9L493.4 240.1L493.2 240.3L492.2 241.1L491.1 241.4L489.9 241.1L488.8 240.5L488.4 240.3L487.6 239.7L486.8 238.9L486.5 238.6L485.7 237.5L485.3 237L484.8 236.2L484.2 235.1L483.9 234.8L483.1 234L481.9 233.4L481.8 233.4L480.8 233.2L479.6 233.2L478.5 233.1L477.3 233L476.2 232.8L475 232.3L474.6 232L473.9 231.7L472.8 230.9L472.2 230.7L471.6 230.3L470.5 230L469.3 230.1L468.2 230.3L467 230.5L465.9 230.6L464.7 230.5L463.6 230.5L462.5 230.5L461.5 230.7L461.3 230.7L460.2 231.1L459 231.7L458.5 232L457.9 232.4L456.7 233.2L456.1 233.4L455.6 233.6L454.4 233.7L453.3 233.6L452.2 233.6L451 233.5L449.9 233.5L448.7 233.5L447.6 233.6L446.4 233.8L445.3 234.2L444.1 234.7L443.9 234.8L443 235.4L442 236.2L441.9 236.3L440.7 237.1L439.6 237.4L438.4 236.6L437.9 236.2L437.3 235.6L436.3 236.2L436.1 236.2L435.8 237.5L435.6 238.9L435.4 240.3L435.4 241.6L435.5 243L435.9 244.4L436.1 245L437 245.8L437.3 245.9L438.4 245.9L439.5 245.8L439.6 245.8L439.6 245.8L440.7 246.1L441.9 246.7L442.7 247.1L443 247.3L444.1 247.9L445.3 248.4L446 248.5L446.4 248.7L447.6 248.8L448.7 248.8L449.9 248.6L450.3 248.5L451 248.3L452.2 248L453.3 247.7L454.4 247.5L455.6 247.5L456.7 247.7L457.9 248L459 248.4L459.5 248.5L460.2 248.8L461.3 249.3L462.5 249.9L462.5 249.9L463.6 250.5L464.7 251.1L465 251.3L465.9 251.7L467 252.3L467.8 252.6L468.2 252.8L469.3 253.3L470.5 253.7L471.2 254L471.6 254.2L472.8 254.6L473.9 255L474.9 255.4L475 255.4L476.2 255.8L477.3 256L478.5 256.2L479.6 256.4L480.8 256.4L481.9 256.4L483.1 256.3L484.2 256.1L485.3 255.8L486.5 255.5L486.9 255.4L487.6 255.2L488.8 254.9L489.9 254.9L491.1 255.2L491.4 255.4L492.2 255.9L493 256.8L493.4 257.1L494.3 258.1L494.5 258.3L495.6 259.4L495.8 259.5L496.8 260.3L497.8 260.9L497.9 260.9L499.1 261.4L500.2 261.8M500.2 234.1L499.8 234.8L499.1 236.1L499 236.2L498.5 237.5L498 238.9L497.9 239.2L497.6 240.3L497.3 241.6L496.9 243L496.8 243.7L496.6 244.4L496.2 245.8L495.7 247.1L495.6 247.3L495.2 248.5L494.7 249.9L494.5 251.3L494.6 252.6L494.8 254L495.4 255.4L495.6 255.8L496.2 256.8L496.8 257.5L497.4 258.1L497.9 258.6L499.1 259.3L499.5 259.5L500.2 259.8M294.2 259.8L295.4 260L296.5 260.1L297.7 260L298.8 259.8L299.6 259.5L299.9 259.4L301.1 258.9L302.2 258.4L302.7 258.1L303.4 257.8L304.5 257.2L305.3 256.8L305.7 256.5L306.8 255.9L307.6 255.4L308 255.2L309.1 254.4L309.6 254L310.2 253.5L311.3 252.6L311.4 252.5L312.5 251.5L312.7 251.3L313.7 250.3L314 249.9L314.8 249L315.3 248.5L316 247.7L316.5 247.1L317.1 246.4L317.6 245.8L318.3 244.9L318.6 244.4L319.2 243L319.4 242.5L319.7 241.6L320 240.3L320.1 238.9L320.1 237.5L320.1 236.2L319.9 234.8L319.7 233.4L319.5 232L319.4 231.7L319.2 230.7L318.9 229.3L318.7 227.9L318.6 226.5L318.5 225.2L318.6 223.8L318.5 222.4L318.3 221.2L318.2 221L317.1 219.7L317.1 219.7L316 219.3L314.8 219.3L313.7 219.6L313.5 219.7L312.5 220.3L311.6 221L311.4 221.2L310.3 222.4L310.2 222.5L309.2 223.8L309.1 223.9L308 225.2L308 225.2L306.8 226.4L306.7 226.5L305.7 227.3L304.6 227.9L304.5 228L303.4 228.4L302.2 228.9L301.1 229.3L301.1 229.3L299.9 229.7L298.8 230.2L297.9 230.7L297.7 230.8L296.5 231.6L296 232L295.4 232.7L294.7 233.4L294.2 234.1L293.8 234.8L293.1 236.1L293 236.2L292.5 237.5L292 238.9L291.9 239.2L291.6 240.3L291.3 241.6L290.9 243L290.8 243.7L290.6 244.4L290.2 245.8L289.7 247.1L289.6 247.3L289.2 248.5L288.7 249.9L288.5 251.3L288.6 252.6L288.8 254L289.4 255.4L289.6 255.8L290.2 256.8L290.8 257.5L291.4 258.1L291.9 258.6L293.1 259.3L293.5 259.5ZM477.3 253.1L478.5 253.4L479.6 253.7L480.8 253.8L481.9 253.7L483.1 253.6L484.2 253.3L485.3 252.8L485.6 252.6L486.5 252L487.5 251.3L487.6 251L488.4 249.9L488.7 248.5L488.5 247.1L487.9 245.8L487.6 245.4L486.8 244.4L486.5 244L485.4 243L485.3 243L484.2 242.1L483.5 241.6L483.1 241.3L481.9 240.6L481.4 240.3L480.8 239.9L479.6 239.3L478.8 238.9L478.5 238.7L477.3 238.1L476.4 237.5L476.2 237.4L475 236.6L474.5 236.2L473.9 235.7L472.8 234.8L472.8 234.7L471.6 234.1L470.5 233.6L469.3 233.4L468.8 233.4L468.2 233.4L467 233.4L465.9 233.4L465.4 233.4L464.7 233.4L463.6 233.6L462.5 234L461.3 234.8L461.3 234.8L460.3 236.2L460.2 236.3L459.5 237.5L459 238.4L458.4 238.9L457.9 239.4L456.7 239.5L456 238.9L455.6 238.7L454.4 237.7L454.3 237.5L453.3 236.9L452.2 236.3L451.8 236.2L451 235.9L449.9 235.7L448.7 235.6L447.6 235.7L446.4 235.9L445.7 236.2L445.3 236.3L444.1 237L443.5 237.5L443 238L442.3 238.9L441.9 239.7L441.4 240.3L441 241.6L441.1 243L441.9 244.1L442 244.4L443 245.2L444 245.8L444.1 245.8L445.3 246.2L446.4 246.4L447.6 246.4L448.7 246.3L449.9 246L450.4 245.8L451 245.5L452.2 245L453.3 244.4L453.4 244.4L454.4 243.8L455.6 243.4L456.7 243.2L457.9 243.4L459 243.8L460.2 244.3L460.6 244.4L461.3 244.5L462.5 244.8L463.6 245.2L464.7 245.7L464.8 245.8L465.9 246.4L467 247.1L467.1 247.1L468.2 247.8L469.2 248.5L469.3 248.6L470.5 249.2L471.5 249.9L471.6 250L472.8 250.7L473.7 251.3L473.9 251.4L475 252L476.2 252.6L476.3 252.6ZM500.2 242.3L500.1 243L499.9 244.4L499.7 245.8L499.4 247.1L499.1 248.3L499 248.5L498.5 249.9L498 251.3L497.9 251.8L497.8 252.6L497.8 254L497.9 254.6L498.2 255.4L499.1 256.7L499.1 256.8L500.2 257.5M294.2 257.5L295.4 258L296.5 258.1L297.7 258L298.8 257.7L299.9 257.3L301 256.8L301.1 256.7L302.2 256L303.1 255.4L303.4 255.2L304.5 254.2L304.8 254L305.7 253.2L306.4 252.6L306.8 252.3L308 251.4L308.2 251.3L309.1 250.6L309.9 249.9L310.2 249.6L311.3 248.5L311.4 248.4L312.3 247.1L312.5 246.8L313.3 245.8L313.7 245L314.1 244.4L314.8 243L314.8 242.9L315.4 241.6L315.9 240.3L316 240.2L316.3 238.9L316.5 237.5L316.5 236.2L316.4 234.8L316 233.4L316 233.3L315.4 232L314.8 231.2L314.4 230.7L313.7 230L312.5 229.5L311.4 229.4L310.2 229.5L309.1 229.8L308 230.1L306.8 230.4L306 230.7L305.7 230.7L304.5 231L303.4 231.3L302.2 231.7L301.1 232L301.1 232.1L299.9 232.6L298.8 233.2L298.6 233.4L297.7 234.2L297.1 234.8L296.5 235.6L296.2 236.2L295.5 237.5L295.4 237.8L295 238.9L294.6 240.3L294.3 241.6L294.2 242.3L294.1 243L293.9 244.4L293.7 245.8L293.4 247.1L293.1 248.3L293 248.5L292.5 249.9L292 251.3L291.9 251.8L291.8 252.6L291.8 254L291.9 254.6L292.2 255.4L293.1 256.7L293.1 256.8ZM479.6 250L480.8 250.2L481.9 250.1L482.4 249.9L483.1 249.3L483.6 248.5L483.4 247.1L483.1 246.6L482.3 245.8L481.9 245.5L480.8 245L479.6 244.8L478.5 244.7L477.3 245L476.2 245.8L476.5 247.1L477.3 248.4L477.4 248.5L478.5 249.4L479.4 249.9ZM444.1 243.1L445.3 243.9L446.4 244.2L447.6 244.1L448.7 243.8L449.9 243.2L450.1 243L451 242L451.3 241.6L451.5 240.3L451 239.4L450.6 238.9L449.9 238.5L448.7 238.2L447.6 238.1L446.4 238.4L445.4 238.9L445.3 239L444.2 240.3L444.1 240.3L443.8 241.6L444.1 243ZM296.5 254.7L297.7 254.9L298.8 254.4L299.4 254L299.9 253.3L300.4 252.6L301.1 251.7L301.4 251.3L302.2 250.7L303.4 250L303.5 249.9L304.5 249.4L305.7 248.8L306.2 248.5L306.8 248.2L308 247.3L308.1 247.1L309.1 246L309.3 245.8L310.1 244.4L310.2 244L310.6 243L311 241.6L311.4 240.3L311.4 240.3L311.7 238.9L311.8 237.5L311.6 236.2L311.4 235.6L310.8 234.8L310.2 234.3L309.1 233.8L308 233.6L306.8 233.6L305.7 233.7L304.5 233.9L303.4 234.2L302.2 234.6L301.8 234.8L301.1 235.2L299.9 236L299.8 236.2L298.8 237.4L298.7 237.5L298 238.9L297.7 239.8L297.5 240.3L297.2 241.6L297.1 243L297.1 244.4L297.2 245.8L297.3 247.1L297.3 248.5L297 249.9L296.5 250.8L296.3 251.3L295.7 252.6L295.7 254ZM302.2 244.7L303.4 245L304.5 244.7L305 244.4L305.7 243.8L306.2 243L306.7 241.6L306.7 240.3L306 238.9L305.7 238.7L304.5 238.4L303.4 238.6L302.8 238.9L302.2 239.3L301.4 240.3L301.1 241L300.9 241.6L300.9 243L301.1 243.5L301.7 244.4Z" stroke="#ec3a3a" stroke-width="1.15"/>
<path d="M352.8 263.6L352.8 262.2L352.8 260.9L352.7 259.5L352.6 258.1L352.6 258L352.5 256.8L352.4 255.4L352.2 254L352.1 252.6L351.9 251.3L351.8 249.9L351.6 248.5L351.4 247.4L351.4 247.1L351.2 245.8L351 244.4L350.8 243L350.6 241.6L350.4 240.3L350.3 239.3L350.3 238.9L350.1 237.5L349.9 236.2L349.7 234.8L349.6 233.4L349.4 232L349.3 230.7L349.2 229.3L349.2 227.9L349.2 226.5L349.2 225.2L349.3 223.8L349.4 222.4L349.4 221L349.5 219.7L349.6 218.3L349.6 216.9L349.7 215.6L349.8 214.2L349.9 212.8L350 211.4L350.1 210.1L350.3 208.7L350.3 208.3L350.4 207.3L350.5 205.9M412.7 263.6L412.4 262.2L412.1 262.1L411 261.6L409.8 261.2L408.7 261.1L407.5 261.3L406.4 261.8L405.6 262.2L405.2 263L404.9 263.6M335.4 205.9L335.2 207.3L334.3 208.7L334.3 208.7L333.1 209.4L332 209.6L330.8 209.3L329.7 208.8L329.5 208.7L328.6 207.8L327.9 207.3L327.4 206.7L326.3 206.2L325.1 206.2L324 206.4L322.8 206.5L321.7 206.5L320.5 206.2L319.8 205.9M456.7 205.9L456.5 207.3L456.3 208.7L455.9 210.1L455.6 210.8L455.4 211.4L454.8 212.8L454.4 213.5L454.2 214.2L453.5 215.6L453.3 215.9L452.8 216.9L452.2 218.1L452 218.3L451.2 219.7L451 219.9L450.1 221L449.9 221.4L448.9 222.4L448.7 222.5L447.6 223.5L447.2 223.8L446.4 224.4L445.3 225.1L445.2 225.2L444.1 225.8L443 226.4L442.6 226.5L441.9 226.8L440.7 227L439.6 226.7L439.4 226.5L438.4 226L437.3 225.6L436.1 225.7L435.3 226.5L435 226.8L434.4 227.9L433.9 229.3L433.8 229.3L433.4 230.7L433.1 232L432.8 233.4L432.7 234.4L432.6 234.8L432.5 236.2L432.4 237.5L432.3 238.9L432.3 240.3L432.3 241.6L432.4 243L432.6 244.4L432.7 244.9L432.9 245.8L433.2 247.1L433.5 248.5L433.8 249.9L433.8 250.2L434.1 251.3L434.3 252.6L434.5 254L434.7 255.4L434.9 256.8L435 256.9L435.7 258.1L436.1 258.5L437.3 258.6L438.4 258.3L439.2 258.1L439.6 258L440.7 258L441.3 258.1L441.9 258.3L443 258.9L444 259.5L444.1 259.6L445.3 260.8L445.4 260.9L446.2 262.2L446.4 263.6L446.4 263.6M476.2 225.9L475.2 225.2L475 225L474.5 223.8L474.3 222.4L474.3 221L474.5 219.7L475 218.5L475.2 218.3L476.2 217.4L477.3 217.5L478.1 218.3L478.5 218.8L478.8 219.7L479.1 221L479.1 222.4L478.8 223.8L478.5 224.4L477.9 225.2L477.3 225.7Z" stroke="#111" stroke-width="1.6"/>
</g>
<rect x="431.6" y="232" width="22.9" height="13.7" fill="none" stroke="#111" stroke-width="1.3"/>
<rect x="289.5" y="208.9" width="12.6" height="11.6" fill="#fff"/>
<text x="295.8" y="216.8" font-size="6.6" text-anchor="middle" font-weight="normal" fill="#231f20" >(f)</text>
<rect x="288.5" y="208" width="206" height="51.5" fill="none" stroke="#231f20" stroke-width="1.0"/>
<line x1="72.7" y1="259.5" x2="72.7" y2="262.7" stroke="#231f20" stroke-width="0.8"/>
<text x="72.7" y="271" font-size="8.5" text-anchor="middle" font-weight="normal" fill="#231f20" >90E</text>
<line x1="98.4" y1="259.5" x2="98.4" y2="262.7" stroke="#231f20" stroke-width="0.8"/>
<text x="98.4" y="271" font-size="8.5" text-anchor="middle" font-weight="normal" fill="#231f20" >135E</text>
<line x1="124.2" y1="259.5" x2="124.2" y2="262.7" stroke="#231f20" stroke-width="0.8"/>
<text x="124.2" y="271" font-size="8.5" text-anchor="middle" font-weight="normal" fill="#231f20" >180</text>
<line x1="149.9" y1="259.5" x2="149.9" y2="262.7" stroke="#231f20" stroke-width="0.8"/>
<text x="149.9" y="271" font-size="8.5" text-anchor="middle" font-weight="normal" fill="#231f20" >135W</text>
<line x1="175.7" y1="259.5" x2="175.7" y2="262.7" stroke="#231f20" stroke-width="0.8"/>
<text x="175.7" y="271" font-size="8.5" text-anchor="middle" font-weight="normal" fill="#231f20" >90W</text>
<line x1="201.4" y1="259.5" x2="201.4" y2="262.7" stroke="#231f20" stroke-width="0.8"/>
<text x="201.4" y="271" font-size="8.5" text-anchor="middle" font-weight="normal" fill="#231f20" >45W</text>
<line x1="227.2" y1="259.5" x2="227.2" y2="262.7" stroke="#231f20" stroke-width="0.8"/>
<text x="227.2" y="271" font-size="8.5" text-anchor="middle" font-weight="normal" fill="#231f20" >0</text>
<line x1="252.9" y1="259.5" x2="252.9" y2="262.7" stroke="#231f20" stroke-width="0.8"/>
<text x="252.9" y="271" font-size="8.5" text-anchor="middle" font-weight="normal" fill="#231f20" >45E</text>
<line x1="305.7" y1="259.5" x2="305.7" y2="262.7" stroke="#231f20" stroke-width="0.8"/>
<text x="305.7" y="271" font-size="8.5" text-anchor="middle" font-weight="normal" fill="#231f20" >90E</text>
<line x1="331.4" y1="259.5" x2="331.4" y2="262.7" stroke="#231f20" stroke-width="0.8"/>
<text x="331.4" y="271" font-size="8.5" text-anchor="middle" font-weight="normal" fill="#231f20" >135E</text>
<line x1="357.2" y1="259.5" x2="357.2" y2="262.7" stroke="#231f20" stroke-width="0.8"/>
<text x="357.2" y="271" font-size="8.5" text-anchor="middle" font-weight="normal" fill="#231f20" >180</text>
<line x1="382.9" y1="259.5" x2="382.9" y2="262.7" stroke="#231f20" stroke-width="0.8"/>
<text x="382.9" y="271" font-size="8.5" text-anchor="middle" font-weight="normal" fill="#231f20" >135W</text>
<line x1="408.7" y1="259.5" x2="408.7" y2="262.7" stroke="#231f20" stroke-width="0.8"/>
<text x="408.7" y="271" font-size="8.5" text-anchor="middle" font-weight="normal" fill="#231f20" >90W</text>
<line x1="434.4" y1="259.5" x2="434.4" y2="262.7" stroke="#231f20" stroke-width="0.8"/>
<text x="434.4" y="271" font-size="8.5" text-anchor="middle" font-weight="normal" fill="#231f20" >45W</text>
<line x1="460.2" y1="259.5" x2="460.2" y2="262.7" stroke="#231f20" stroke-width="0.8"/>
<text x="460.2" y="271" font-size="8.5" text-anchor="middle" font-weight="normal" fill="#231f20" >0</text>
<line x1="485.9" y1="259.5" x2="485.9" y2="262.7" stroke="#231f20" stroke-width="0.8"/>
<text x="485.9" y="271" font-size="8.5" text-anchor="middle" font-weight="normal" fill="#231f20" >45E</text>
<text x="14" y="168.7" font-size="10.3" text-anchor="middle" font-weight="normal" fill="#231f20" >DJF<tspan font-size="7.0">0</tspan></text>
<text x="14" y="236.8" font-size="10.3" text-anchor="middle" font-weight="normal" fill="#231f20" >MAM<tspan font-size="7.0">0</tspan></text>
<rect x="62" y="276.5" width="10.1" height="6.9" fill="#1f3764" stroke="#231f20" stroke-width="0.6"/>
<rect x="72" y="276.5" width="10.1" height="6.9" fill="#1f3764" stroke="#231f20" stroke-width="0.6"/>
<rect x="82.1" y="276.5" width="10.1" height="6.9" fill="#336aa8" stroke="#231f20" stroke-width="0.6"/>
<rect x="92.2" y="276.5" width="10.1" height="6.9" fill="#336aa8" stroke="#231f20" stroke-width="0.6"/>
<rect x="102.2" y="276.5" width="10.1" height="6.9" fill="#336aa8" stroke="#231f20" stroke-width="0.6"/>
<rect x="112.2" y="276.5" width="10.1" height="6.9" fill="#5096c0" stroke="#231f20" stroke-width="0.6"/>
<rect x="122.3" y="276.5" width="10.1" height="6.9" fill="#5096c0" stroke="#231f20" stroke-width="0.6"/>
<rect x="132.4" y="276.5" width="10.1" height="6.9" fill="#5096c0" stroke="#231f20" stroke-width="0.6"/>
<rect x="142.4" y="276.5" width="10.1" height="6.9" fill="#96c2da" stroke="#231f20" stroke-width="0.6"/>
<rect x="152.4" y="276.5" width="10.1" height="6.9" fill="#96c2da" stroke="#231f20" stroke-width="0.6"/>
<rect x="162.5" y="276.5" width="10.1" height="6.9" fill="#96c2da" stroke="#231f20" stroke-width="0.6"/>
<rect x="172.6" y="276.5" width="10.1" height="6.9" fill="#cfe1ec" stroke="#231f20" stroke-width="0.6"/>
<rect x="182.6" y="276.5" width="10.1" height="6.9" fill="#cfe1ec" stroke="#231f20" stroke-width="0.6"/>
<rect x="192.7" y="276.5" width="10.1" height="6.9" fill="#cfe1ec" stroke="#231f20" stroke-width="0.6"/>
<rect x="202.7" y="276.5" width="10.1" height="6.9" fill="#efefef" stroke="#231f20" stroke-width="0.6"/>
<rect x="212.8" y="276.5" width="10.1" height="6.9" fill="#efefef" stroke="#231f20" stroke-width="0.6"/>
<rect x="222.8" y="276.5" width="10.1" height="6.9" fill="#efefef" stroke="#231f20" stroke-width="0.6"/>
<rect x="232.9" y="276.5" width="10.1" height="6.9" fill="#efefef" stroke="#231f20" stroke-width="0.6"/>
<rect x="242.9" y="276.5" width="10.1" height="6.9" fill="#f8d6c4" stroke="#231f20" stroke-width="0.6"/>
<rect x="253" y="276.5" width="10.1" height="6.9" fill="#f8d6c4" stroke="#231f20" stroke-width="0.6"/>
<rect x="263" y="276.5" width="10.1" height="6.9" fill="#f8d6c4" stroke="#231f20" stroke-width="0.6"/>
<rect x="273.1" y="276.5" width="10.1" height="6.9" fill="#ec9e82" stroke="#231f20" stroke-width="0.6"/>
<rect x="283.1" y="276.5" width="10.1" height="6.9" fill="#ec9e82" stroke="#231f20" stroke-width="0.6"/>
<rect x="293.1" y="276.5" width="10.1" height="6.9" fill="#ec9e82" stroke="#231f20" stroke-width="0.6"/>
<rect x="303.2" y="276.5" width="10.1" height="6.9" fill="#cf6155" stroke="#231f20" stroke-width="0.6"/>
<rect x="313.2" y="276.5" width="10.1" height="6.9" fill="#cf6155" stroke="#231f20" stroke-width="0.6"/>
<rect x="323.3" y="276.5" width="10.1" height="6.9" fill="#cf6155" stroke="#231f20" stroke-width="0.6"/>
<rect x="333.4" y="276.5" width="10.1" height="6.9" fill="#a92c3a" stroke="#231f20" stroke-width="0.6"/>
<rect x="343.4" y="276.5" width="10.1" height="6.9" fill="#a92c3a" stroke="#231f20" stroke-width="0.6"/>
<rect x="353.5" y="276.5" width="10.1" height="6.9" fill="#a92c3a" stroke="#231f20" stroke-width="0.6"/>
<rect x="363.5" y="276.5" width="10.1" height="6.9" fill="#652034" stroke="#231f20" stroke-width="0.6"/>
<rect x="373.6" y="276.5" width="10.1" height="6.9" fill="#652034" stroke="#231f20" stroke-width="0.6"/>
<text x="72" y="291.6" font-size="8.5" text-anchor="middle" font-weight="normal" fill="#231f20" >-1.5e+06</text>
<text x="122.3" y="291.6" font-size="8.5" text-anchor="middle" font-weight="normal" fill="#231f20" >-1e+06</text>
<text x="172.6" y="291.6" font-size="8.5" text-anchor="middle" font-weight="normal" fill="#231f20" >-500000</text>
<text x="222.8" y="291.6" font-size="8.5" text-anchor="middle" font-weight="normal" fill="#231f20" >0</text>
<text x="273.1" y="291.6" font-size="8.5" text-anchor="middle" font-weight="normal" fill="#231f20" >500000</text>
<text x="323.3" y="291.6" font-size="8.5" text-anchor="middle" font-weight="normal" fill="#231f20" >1e+06</text>
<text x="373.6" y="291.6" font-size="8.5" text-anchor="middle" font-weight="normal" fill="#231f20" >1.5e+06</text>
<text x="393.6" y="287.8" font-size="9.8" text-anchor="start" font-weight="normal" fill="#231f20" >Velocity potential (m²/s)</text>
</svg></body></html>
